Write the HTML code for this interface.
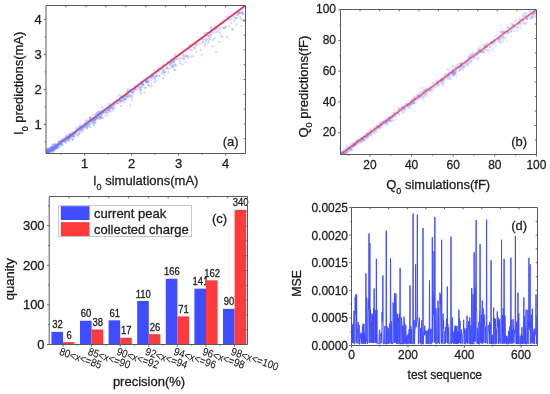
<!DOCTYPE html>
<html><head><meta charset="utf-8"><style>
html,body{margin:0;padding:0;background:#fff;width:550px;height:394px;overflow:hidden}
svg{display:block;filter:blur(0.3px)}
text{font-family:"Liberation Sans",sans-serif;fill:#1e1e1e;stroke:#1e1e1e;stroke-width:0.3px}
</style></head><body>
<svg width="550" height="394" viewBox="0 0 550 394">
<defs><clipPath id="ca"><rect x="46" y="5.5" width="199.5" height="148"/></clipPath><clipPath id="cb"><rect x="340.5" y="9.5" width="196" height="145"/></clipPath><clipPath id="cd"><rect x="351.5" y="207.5" width="186" height="138"/></clipPath></defs>
<g clip-path="url(#ca)">
<line x1="46" y1="153.5" x2="245.5" y2="5.5" stroke="#ff2a2a" stroke-width="1.8"/>
<rect x="85.9" y="127.1" width="2" height="2" fill="#6e7dff" fill-opacity="0.3"/>
<rect x="88.4" y="122.3" width="2" height="2" fill="#6e7dff" fill-opacity="0.3"/>
<rect x="51.9" y="149.4" width="2" height="2" fill="#6e7dff" fill-opacity="0.3"/>
<rect x="170.7" y="59.9" width="2" height="2" fill="#6e7dff" fill-opacity="0.3"/>
<rect x="46.7" y="150.6" width="2" height="2" fill="#6e7dff" fill-opacity="0.3"/>
<rect x="45.4" y="147.8" width="2" height="2" fill="#6e7dff" fill-opacity="0.3"/>
<rect x="130.5" y="90.9" width="2" height="2" fill="#6e7dff" fill-opacity="0.3"/>
<rect x="45.1" y="152.6" width="2" height="2" fill="#6e7dff" fill-opacity="0.3"/>
<rect x="52.3" y="146.9" width="2" height="2" fill="#6e7dff" fill-opacity="0.3"/>
<rect x="88.1" y="124.7" width="2" height="2" fill="#6e7dff" fill-opacity="0.3"/>
<rect x="98.9" y="115.8" width="2" height="2" fill="#6e7dff" fill-opacity="0.3"/>
<rect x="132.7" y="89.2" width="2" height="2" fill="#6e7dff" fill-opacity="0.3"/>
<rect x="243.9" y="0.3" width="2" height="2" fill="#6e7dff" fill-opacity="0.3"/>
<rect x="145.1" y="81.3" width="2" height="2" fill="#6e7dff" fill-opacity="0.3"/>
<rect x="61.7" y="137.9" width="2" height="2" fill="#6e7dff" fill-opacity="0.3"/>
<rect x="77.1" y="128.7" width="2" height="2" fill="#6e7dff" fill-opacity="0.3"/>
<rect x="228.4" y="15.8" width="2" height="2" fill="#6e7dff" fill-opacity="0.3"/>
<rect x="53.8" y="144.5" width="2" height="2" fill="#6e7dff" fill-opacity="0.3"/>
<rect x="237.0" y="11.9" width="2" height="2" fill="#6e7dff" fill-opacity="0.3"/>
<rect x="124.2" y="95.9" width="2" height="2" fill="#6e7dff" fill-opacity="0.3"/>
<rect x="46.6" y="154.0" width="2" height="2" fill="#6e7dff" fill-opacity="0.3"/>
<rect x="159.8" y="68.3" width="2" height="2" fill="#6e7dff" fill-opacity="0.3"/>
<rect x="47.1" y="148.2" width="2" height="2" fill="#6e7dff" fill-opacity="0.3"/>
<rect x="51.4" y="149.3" width="2" height="2" fill="#6e7dff" fill-opacity="0.3"/>
<rect x="52.3" y="147.1" width="2" height="2" fill="#6e7dff" fill-opacity="0.3"/>
<rect x="127.8" y="91.8" width="2" height="2" fill="#6e7dff" fill-opacity="0.3"/>
<rect x="54.1" y="147.9" width="2" height="2" fill="#6e7dff" fill-opacity="0.3"/>
<rect x="174.0" y="69.2" width="2" height="2" fill="#6e7dff" fill-opacity="0.3"/>
<rect x="53.9" y="148.9" width="2" height="2" fill="#6e7dff" fill-opacity="0.3"/>
<rect x="127.3" y="93.4" width="2" height="2" fill="#6e7dff" fill-opacity="0.3"/>
<rect x="54.1" y="146.8" width="2" height="2" fill="#6e7dff" fill-opacity="0.3"/>
<rect x="66.7" y="136.7" width="2" height="2" fill="#6e7dff" fill-opacity="0.3"/>
<rect x="46.7" y="152.1" width="2" height="2" fill="#6e7dff" fill-opacity="0.3"/>
<rect x="117.3" y="102.5" width="2" height="2" fill="#6e7dff" fill-opacity="0.3"/>
<rect x="228.8" y="19.2" width="2" height="2" fill="#6e7dff" fill-opacity="0.3"/>
<rect x="195.0" y="43.6" width="2" height="2" fill="#6e7dff" fill-opacity="0.3"/>
<rect x="209.9" y="33.9" width="2" height="2" fill="#6e7dff" fill-opacity="0.3"/>
<rect x="52.3" y="148.6" width="2" height="2" fill="#6e7dff" fill-opacity="0.3"/>
<rect x="52.8" y="143.6" width="2" height="2" fill="#6e7dff" fill-opacity="0.3"/>
<rect x="117.8" y="99.5" width="2" height="2" fill="#6e7dff" fill-opacity="0.3"/>
<rect x="45.4" y="150.8" width="2" height="2" fill="#6e7dff" fill-opacity="0.3"/>
<rect x="144.2" y="87.1" width="2" height="2" fill="#6e7dff" fill-opacity="0.3"/>
<rect x="116.1" y="101.6" width="2" height="2" fill="#6e7dff" fill-opacity="0.3"/>
<rect x="148.7" y="75.1" width="2" height="2" fill="#6e7dff" fill-opacity="0.3"/>
<rect x="107.6" y="107.5" width="2" height="2" fill="#6e7dff" fill-opacity="0.3"/>
<rect x="60.7" y="139.8" width="2" height="2" fill="#6e7dff" fill-opacity="0.3"/>
<rect x="45.1" y="152.7" width="2" height="2" fill="#6e7dff" fill-opacity="0.3"/>
<rect x="45.8" y="151.2" width="2" height="2" fill="#6e7dff" fill-opacity="0.3"/>
<rect x="110.5" y="104.5" width="2" height="2" fill="#6e7dff" fill-opacity="0.3"/>
<rect x="203.6" y="32.3" width="2" height="2" fill="#6e7dff" fill-opacity="0.3"/>
<rect x="140.5" y="83.2" width="2" height="2" fill="#6e7dff" fill-opacity="0.3"/>
<rect x="45.3" y="148.5" width="2" height="2" fill="#6e7dff" fill-opacity="0.3"/>
<rect x="143.2" y="78.9" width="2" height="2" fill="#6e7dff" fill-opacity="0.3"/>
<rect x="125.9" y="95.6" width="2" height="2" fill="#6e7dff" fill-opacity="0.3"/>
<rect x="65.4" y="136.3" width="2" height="2" fill="#6e7dff" fill-opacity="0.3"/>
<rect x="104.6" y="114.4" width="2" height="2" fill="#6e7dff" fill-opacity="0.3"/>
<rect x="153.6" y="80.9" width="2" height="2" fill="#6e7dff" fill-opacity="0.3"/>
<rect x="212.3" y="38.8" width="2" height="2" fill="#6e7dff" fill-opacity="0.3"/>
<rect x="207.2" y="35.5" width="2" height="2" fill="#6e7dff" fill-opacity="0.3"/>
<rect x="169.9" y="63.2" width="2" height="2" fill="#6e7dff" fill-opacity="0.3"/>
<rect x="123.1" y="99.1" width="2" height="2" fill="#6e7dff" fill-opacity="0.3"/>
<rect x="119.1" y="97.2" width="2" height="2" fill="#6e7dff" fill-opacity="0.3"/>
<rect x="242.2" y="12.7" width="2" height="2" fill="#6e7dff" fill-opacity="0.3"/>
<rect x="75.2" y="132.1" width="2" height="2" fill="#6e7dff" fill-opacity="0.3"/>
<rect x="83.8" y="123.6" width="2" height="2" fill="#6e7dff" fill-opacity="0.3"/>
<rect x="157.5" y="67.1" width="2" height="2" fill="#6e7dff" fill-opacity="0.3"/>
<rect x="91.3" y="121.0" width="2" height="2" fill="#6e7dff" fill-opacity="0.3"/>
<rect x="94.4" y="122.0" width="2" height="2" fill="#6e7dff" fill-opacity="0.3"/>
<rect x="58.1" y="141.0" width="2" height="2" fill="#6e7dff" fill-opacity="0.3"/>
<rect x="136.9" y="85.9" width="2" height="2" fill="#6e7dff" fill-opacity="0.3"/>
<rect x="208.9" y="38.1" width="2" height="2" fill="#6e7dff" fill-opacity="0.3"/>
<rect x="203.9" y="44.8" width="2" height="2" fill="#6e7dff" fill-opacity="0.3"/>
<rect x="52.9" y="149.4" width="2" height="2" fill="#6e7dff" fill-opacity="0.3"/>
<rect x="212.0" y="31.4" width="2" height="2" fill="#6e7dff" fill-opacity="0.3"/>
<rect x="113.0" y="103.6" width="2" height="2" fill="#6e7dff" fill-opacity="0.3"/>
<rect x="94.3" y="117.8" width="2" height="2" fill="#6e7dff" fill-opacity="0.3"/>
<rect x="146.1" y="76.6" width="2" height="2" fill="#6e7dff" fill-opacity="0.3"/>
<rect x="50.8" y="149.2" width="2" height="2" fill="#6e7dff" fill-opacity="0.3"/>
<rect x="54.2" y="147.8" width="2" height="2" fill="#6e7dff" fill-opacity="0.3"/>
<rect x="93.8" y="121.5" width="2" height="2" fill="#6e7dff" fill-opacity="0.3"/>
<rect x="237.7" y="10.5" width="2" height="2" fill="#6e7dff" fill-opacity="0.3"/>
<rect x="45.3" y="151.7" width="2" height="2" fill="#6e7dff" fill-opacity="0.3"/>
<rect x="145.4" y="80.6" width="2" height="2" fill="#6e7dff" fill-opacity="0.3"/>
<rect x="170.2" y="58.2" width="2" height="2" fill="#6e7dff" fill-opacity="0.3"/>
<rect x="86.4" y="118.8" width="2" height="2" fill="#6e7dff" fill-opacity="0.3"/>
<rect x="56.3" y="143.6" width="2" height="2" fill="#6e7dff" fill-opacity="0.3"/>
<rect x="124.1" y="97.4" width="2" height="2" fill="#6e7dff" fill-opacity="0.3"/>
<rect x="130.8" y="96.3" width="2" height="2" fill="#6e7dff" fill-opacity="0.3"/>
<rect x="138.6" y="86.5" width="2" height="2" fill="#6e7dff" fill-opacity="0.3"/>
<rect x="51.4" y="145.6" width="2" height="2" fill="#6e7dff" fill-opacity="0.3"/>
<rect x="146.9" y="79.0" width="2" height="2" fill="#6e7dff" fill-opacity="0.3"/>
<rect x="68.9" y="136.6" width="2" height="2" fill="#6e7dff" fill-opacity="0.3"/>
<rect x="120.5" y="99.5" width="2" height="2" fill="#6e7dff" fill-opacity="0.3"/>
<rect x="170.3" y="59.5" width="2" height="2" fill="#6e7dff" fill-opacity="0.3"/>
<rect x="218.8" y="27.0" width="2" height="2" fill="#6e7dff" fill-opacity="0.3"/>
<rect x="86.1" y="127.5" width="2" height="2" fill="#6e7dff" fill-opacity="0.3"/>
<rect x="73.4" y="135.5" width="2" height="2" fill="#6e7dff" fill-opacity="0.3"/>
<rect x="171.9" y="57.9" width="2" height="2" fill="#6e7dff" fill-opacity="0.3"/>
<rect x="129.8" y="94.4" width="2" height="2" fill="#6e7dff" fill-opacity="0.3"/>
<rect x="178.8" y="62.1" width="2" height="2" fill="#6e7dff" fill-opacity="0.3"/>
<rect x="54.1" y="142.9" width="2" height="2" fill="#6e7dff" fill-opacity="0.3"/>
<rect x="235.9" y="17.3" width="2" height="2" fill="#6e7dff" fill-opacity="0.3"/>
<rect x="65.6" y="135.4" width="2" height="2" fill="#6e7dff" fill-opacity="0.3"/>
<rect x="69.3" y="133.2" width="2" height="2" fill="#6e7dff" fill-opacity="0.3"/>
<rect x="105.6" y="110.3" width="2" height="2" fill="#6e7dff" fill-opacity="0.3"/>
<rect x="45.2" y="151.9" width="2" height="2" fill="#6e7dff" fill-opacity="0.3"/>
<rect x="172.9" y="60.8" width="2" height="2" fill="#6e7dff" fill-opacity="0.3"/>
<rect x="169.1" y="61.6" width="2" height="2" fill="#6e7dff" fill-opacity="0.3"/>
<rect x="98.4" y="118.0" width="2" height="2" fill="#6e7dff" fill-opacity="0.3"/>
<rect x="140.0" y="81.1" width="2" height="2" fill="#6e7dff" fill-opacity="0.3"/>
<rect x="225.0" y="19.8" width="2" height="2" fill="#6e7dff" fill-opacity="0.3"/>
<rect x="100.5" y="115.9" width="2" height="2" fill="#6e7dff" fill-opacity="0.3"/>
<rect x="126.6" y="96.0" width="2" height="2" fill="#6e7dff" fill-opacity="0.3"/>
<rect x="107.7" y="108.9" width="2" height="2" fill="#6e7dff" fill-opacity="0.3"/>
<rect x="187.8" y="47.3" width="2" height="2" fill="#6e7dff" fill-opacity="0.3"/>
<rect x="189.6" y="43.6" width="2" height="2" fill="#6e7dff" fill-opacity="0.3"/>
<rect x="110.6" y="106.4" width="2" height="2" fill="#6e7dff" fill-opacity="0.3"/>
<rect x="95.6" y="115.1" width="2" height="2" fill="#6e7dff" fill-opacity="0.3"/>
<rect x="232.8" y="15.4" width="2" height="2" fill="#6e7dff" fill-opacity="0.3"/>
<rect x="173.2" y="61.4" width="2" height="2" fill="#6e7dff" fill-opacity="0.3"/>
<rect x="140.4" y="81.2" width="2" height="2" fill="#6e7dff" fill-opacity="0.3"/>
<rect x="79.3" y="124.0" width="2" height="2" fill="#6e7dff" fill-opacity="0.3"/>
<rect x="59.5" y="142.3" width="2" height="2" fill="#6e7dff" fill-opacity="0.3"/>
<rect x="82.6" y="126.6" width="2" height="2" fill="#6e7dff" fill-opacity="0.3"/>
<rect x="90.4" y="120.2" width="2" height="2" fill="#6e7dff" fill-opacity="0.3"/>
<rect x="121.3" y="95.3" width="2" height="2" fill="#6e7dff" fill-opacity="0.3"/>
<rect x="166.4" y="61.0" width="2" height="2" fill="#6e7dff" fill-opacity="0.3"/>
<rect x="55.4" y="145.6" width="2" height="2" fill="#6e7dff" fill-opacity="0.3"/>
<rect x="70.3" y="134.4" width="2" height="2" fill="#6e7dff" fill-opacity="0.3"/>
<rect x="151.8" y="75.2" width="2" height="2" fill="#6e7dff" fill-opacity="0.3"/>
<rect x="57.6" y="143.2" width="2" height="2" fill="#6e7dff" fill-opacity="0.3"/>
<rect x="83.2" y="126.5" width="2" height="2" fill="#6e7dff" fill-opacity="0.3"/>
<rect x="101.0" y="111.4" width="2" height="2" fill="#6e7dff" fill-opacity="0.3"/>
<rect x="124.7" y="97.9" width="2" height="2" fill="#6e7dff" fill-opacity="0.3"/>
<rect x="189.8" y="55.9" width="2" height="2" fill="#6e7dff" fill-opacity="0.3"/>
<rect x="55.9" y="145.7" width="2" height="2" fill="#6e7dff" fill-opacity="0.3"/>
<rect x="207.8" y="37.6" width="2" height="2" fill="#6e7dff" fill-opacity="0.3"/>
<rect x="215.1" y="51.2" width="2" height="2" fill="#6e7dff" fill-opacity="0.3"/>
<rect x="202.4" y="37.9" width="2" height="2" fill="#6e7dff" fill-opacity="0.3"/>
<rect x="150.5" y="75.9" width="2" height="2" fill="#6e7dff" fill-opacity="0.3"/>
<rect x="183.4" y="57.6" width="2" height="2" fill="#6e7dff" fill-opacity="0.3"/>
<rect x="48.2" y="152.2" width="2" height="2" fill="#6e7dff" fill-opacity="0.3"/>
<rect x="45.1" y="151.9" width="2" height="2" fill="#6e7dff" fill-opacity="0.3"/>
<rect x="211.0" y="28.3" width="2" height="2" fill="#6e7dff" fill-opacity="0.3"/>
<rect x="96.1" y="117.0" width="2" height="2" fill="#6e7dff" fill-opacity="0.3"/>
<rect x="139.0" y="83.5" width="2" height="2" fill="#6e7dff" fill-opacity="0.3"/>
<rect x="47.3" y="148.6" width="2" height="2" fill="#6e7dff" fill-opacity="0.3"/>
<rect x="98.0" y="114.2" width="2" height="2" fill="#6e7dff" fill-opacity="0.3"/>
<rect x="51.9" y="147.4" width="2" height="2" fill="#6e7dff" fill-opacity="0.3"/>
<rect x="241.0" y="7.1" width="2" height="2" fill="#6e7dff" fill-opacity="0.3"/>
<rect x="45.8" y="150.0" width="2" height="2" fill="#6e7dff" fill-opacity="0.3"/>
<rect x="161.9" y="71.5" width="2" height="2" fill="#6e7dff" fill-opacity="0.3"/>
<rect x="98.1" y="116.3" width="2" height="2" fill="#6e7dff" fill-opacity="0.3"/>
<rect x="45.1" y="153.7" width="2" height="2" fill="#6e7dff" fill-opacity="0.3"/>
<rect x="51.6" y="150.1" width="2" height="2" fill="#6e7dff" fill-opacity="0.3"/>
<rect x="77.9" y="128.3" width="2" height="2" fill="#6e7dff" fill-opacity="0.3"/>
<rect x="97.5" y="109.9" width="2" height="2" fill="#6e7dff" fill-opacity="0.3"/>
<rect x="173.4" y="69.0" width="2" height="2" fill="#6e7dff" fill-opacity="0.3"/>
<rect x="124.2" y="98.1" width="2" height="2" fill="#6e7dff" fill-opacity="0.3"/>
<rect x="95.9" y="111.6" width="2" height="2" fill="#6e7dff" fill-opacity="0.3"/>
<rect x="58.4" y="140.7" width="2" height="2" fill="#6e7dff" fill-opacity="0.3"/>
<rect x="166.0" y="66.6" width="2" height="2" fill="#6e7dff" fill-opacity="0.3"/>
<rect x="205.6" y="38.0" width="2" height="2" fill="#6e7dff" fill-opacity="0.3"/>
<rect x="162.7" y="69.9" width="2" height="2" fill="#6e7dff" fill-opacity="0.3"/>
<rect x="149.4" y="74.8" width="2" height="2" fill="#6e7dff" fill-opacity="0.3"/>
<rect x="89.0" y="117.9" width="2" height="2" fill="#6e7dff" fill-opacity="0.3"/>
<rect x="126.5" y="94.4" width="2" height="2" fill="#6e7dff" fill-opacity="0.3"/>
<rect x="223.3" y="26.7" width="2" height="2" fill="#6e7dff" fill-opacity="0.3"/>
<rect x="132.0" y="91.6" width="2" height="2" fill="#6e7dff" fill-opacity="0.3"/>
<rect x="75.4" y="127.1" width="2" height="2" fill="#6e7dff" fill-opacity="0.3"/>
<rect x="143.3" y="91.5" width="2" height="2" fill="#6e7dff" fill-opacity="0.3"/>
<rect x="45.2" y="154.4" width="2" height="2" fill="#6e7dff" fill-opacity="0.3"/>
<rect x="58.2" y="142.9" width="2" height="2" fill="#6e7dff" fill-opacity="0.3"/>
<rect x="52.7" y="147.2" width="2" height="2" fill="#6e7dff" fill-opacity="0.3"/>
<rect x="57.6" y="141.7" width="2" height="2" fill="#6e7dff" fill-opacity="0.3"/>
<rect x="96.6" y="112.2" width="2" height="2" fill="#6e7dff" fill-opacity="0.3"/>
<rect x="242.9" y="19.9" width="2" height="2" fill="#6e7dff" fill-opacity="0.3"/>
<rect x="46.2" y="153.9" width="2" height="2" fill="#6e7dff" fill-opacity="0.3"/>
<rect x="45.5" y="151.0" width="2" height="2" fill="#6e7dff" fill-opacity="0.3"/>
<rect x="89.5" y="120.4" width="2" height="2" fill="#6e7dff" fill-opacity="0.3"/>
<rect x="119.7" y="95.6" width="2" height="2" fill="#6e7dff" fill-opacity="0.3"/>
<rect x="80.4" y="128.5" width="2" height="2" fill="#6e7dff" fill-opacity="0.3"/>
<rect x="71.8" y="134.9" width="2" height="2" fill="#6e7dff" fill-opacity="0.3"/>
<rect x="107.8" y="110.8" width="2" height="2" fill="#6e7dff" fill-opacity="0.3"/>
<rect x="62.6" y="137.9" width="2" height="2" fill="#6e7dff" fill-opacity="0.3"/>
<rect x="45.4" y="150.9" width="2" height="2" fill="#6e7dff" fill-opacity="0.3"/>
<rect x="75.4" y="128.9" width="2" height="2" fill="#6e7dff" fill-opacity="0.3"/>
<rect x="45.6" y="148.0" width="2" height="2" fill="#6e7dff" fill-opacity="0.3"/>
<rect x="46.1" y="150.1" width="2" height="2" fill="#6e7dff" fill-opacity="0.3"/>
<rect x="90.6" y="117.2" width="2" height="2" fill="#6e7dff" fill-opacity="0.3"/>
<rect x="99.8" y="110.4" width="2" height="2" fill="#6e7dff" fill-opacity="0.3"/>
<rect x="88.9" y="116.9" width="2" height="2" fill="#6e7dff" fill-opacity="0.3"/>
<rect x="117.8" y="99.3" width="2" height="2" fill="#6e7dff" fill-opacity="0.3"/>
<rect x="86.5" y="121.7" width="2" height="2" fill="#6e7dff" fill-opacity="0.3"/>
<rect x="100.8" y="111.4" width="2" height="2" fill="#6e7dff" fill-opacity="0.3"/>
<rect x="134.2" y="88.1" width="2" height="2" fill="#6e7dff" fill-opacity="0.3"/>
<rect x="112.8" y="107.2" width="2" height="2" fill="#6e7dff" fill-opacity="0.3"/>
<rect x="101.3" y="105.9" width="2" height="2" fill="#6e7dff" fill-opacity="0.3"/>
<rect x="152.8" y="74.3" width="2" height="2" fill="#6e7dff" fill-opacity="0.3"/>
<rect x="204.2" y="42.9" width="2" height="2" fill="#6e7dff" fill-opacity="0.3"/>
<rect x="70.8" y="135.5" width="2" height="2" fill="#6e7dff" fill-opacity="0.3"/>
<rect x="108.8" y="109.2" width="2" height="2" fill="#6e7dff" fill-opacity="0.3"/>
<rect x="158.4" y="70.9" width="2" height="2" fill="#6e7dff" fill-opacity="0.3"/>
<rect x="236.8" y="14.5" width="2" height="2" fill="#6e7dff" fill-opacity="0.3"/>
<rect x="45.4" y="150.8" width="2" height="2" fill="#6e7dff" fill-opacity="0.3"/>
<rect x="81.2" y="126.4" width="2" height="2" fill="#6e7dff" fill-opacity="0.3"/>
<rect x="103.7" y="108.3" width="2" height="2" fill="#6e7dff" fill-opacity="0.3"/>
<rect x="136.4" y="88.5" width="2" height="2" fill="#6e7dff" fill-opacity="0.3"/>
<rect x="72.9" y="132.7" width="2" height="2" fill="#6e7dff" fill-opacity="0.3"/>
<rect x="68.7" y="137.3" width="2" height="2" fill="#6e7dff" fill-opacity="0.3"/>
<rect x="46.2" y="149.7" width="2" height="2" fill="#6e7dff" fill-opacity="0.3"/>
<rect x="122.8" y="96.7" width="2" height="2" fill="#6e7dff" fill-opacity="0.3"/>
<rect x="81.0" y="129.0" width="2" height="2" fill="#6e7dff" fill-opacity="0.3"/>
<rect x="72.3" y="138.6" width="2" height="2" fill="#6e7dff" fill-opacity="0.3"/>
<rect x="66.2" y="139.6" width="2" height="2" fill="#6e7dff" fill-opacity="0.3"/>
<rect x="214.4" y="31.1" width="2" height="2" fill="#6e7dff" fill-opacity="0.3"/>
<rect x="46.9" y="150.4" width="2" height="2" fill="#6e7dff" fill-opacity="0.3"/>
<rect x="46.4" y="153.0" width="2" height="2" fill="#6e7dff" fill-opacity="0.3"/>
<rect x="138.9" y="90.6" width="2" height="2" fill="#6e7dff" fill-opacity="0.3"/>
<rect x="46.2" y="151.3" width="2" height="2" fill="#6e7dff" fill-opacity="0.3"/>
<rect x="46.4" y="152.6" width="2" height="2" fill="#6e7dff" fill-opacity="0.3"/>
<rect x="141.3" y="83.2" width="2" height="2" fill="#6e7dff" fill-opacity="0.3"/>
<rect x="70.6" y="134.7" width="2" height="2" fill="#6e7dff" fill-opacity="0.3"/>
<rect x="47.8" y="151.2" width="2" height="2" fill="#6e7dff" fill-opacity="0.3"/>
<rect x="213.6" y="28.6" width="2" height="2" fill="#6e7dff" fill-opacity="0.3"/>
<rect x="83.4" y="124.7" width="2" height="2" fill="#6e7dff" fill-opacity="0.3"/>
<rect x="65.2" y="141.9" width="2" height="2" fill="#6e7dff" fill-opacity="0.3"/>
<rect x="205.0" y="39.9" width="2" height="2" fill="#6e7dff" fill-opacity="0.3"/>
<rect x="71.8" y="134.5" width="2" height="2" fill="#6e7dff" fill-opacity="0.3"/>
<rect x="75.1" y="131.0" width="2" height="2" fill="#6e7dff" fill-opacity="0.3"/>
<rect x="172.0" y="64.1" width="2" height="2" fill="#6e7dff" fill-opacity="0.3"/>
<rect x="108.3" y="108.4" width="2" height="2" fill="#6e7dff" fill-opacity="0.3"/>
<rect x="200.1" y="38.2" width="2" height="2" fill="#6e7dff" fill-opacity="0.3"/>
<rect x="98.2" y="115.7" width="2" height="2" fill="#6e7dff" fill-opacity="0.3"/>
<rect x="231.6" y="27.9" width="2" height="2" fill="#6e7dff" fill-opacity="0.3"/>
<rect x="45.9" y="154.4" width="2" height="2" fill="#6e7dff" fill-opacity="0.3"/>
<rect x="46.5" y="149.1" width="2" height="2" fill="#6e7dff" fill-opacity="0.3"/>
<rect x="206.5" y="34.6" width="2" height="2" fill="#6e7dff" fill-opacity="0.3"/>
<rect x="49.2" y="149.9" width="2" height="2" fill="#6e7dff" fill-opacity="0.3"/>
<rect x="57.1" y="144.1" width="2" height="2" fill="#6e7dff" fill-opacity="0.3"/>
<rect x="99.4" y="114.2" width="2" height="2" fill="#6e7dff" fill-opacity="0.3"/>
<rect x="67.9" y="133.1" width="2" height="2" fill="#6e7dff" fill-opacity="0.3"/>
<rect x="93.7" y="119.5" width="2" height="2" fill="#6e7dff" fill-opacity="0.3"/>
<rect x="145.2" y="78.3" width="2" height="2" fill="#6e7dff" fill-opacity="0.3"/>
<rect x="181.4" y="63.2" width="2" height="2" fill="#6e7dff" fill-opacity="0.3"/>
<rect x="174.8" y="64.3" width="2" height="2" fill="#6e7dff" fill-opacity="0.3"/>
<rect x="228.3" y="25.2" width="2" height="2" fill="#6e7dff" fill-opacity="0.3"/>
<rect x="145.8" y="81.2" width="2" height="2" fill="#6e7dff" fill-opacity="0.3"/>
<rect x="80.4" y="126.6" width="2" height="2" fill="#6e7dff" fill-opacity="0.3"/>
<rect x="241.2" y="10.8" width="2" height="2" fill="#6e7dff" fill-opacity="0.3"/>
<rect x="53.4" y="147.4" width="2" height="2" fill="#6e7dff" fill-opacity="0.3"/>
<rect x="232.9" y="13.2" width="2" height="2" fill="#6e7dff" fill-opacity="0.3"/>
<rect x="47.7" y="152.5" width="2" height="2" fill="#6e7dff" fill-opacity="0.3"/>
<rect x="51.5" y="145.9" width="2" height="2" fill="#6e7dff" fill-opacity="0.3"/>
<rect x="113.2" y="101.4" width="2" height="2" fill="#6e7dff" fill-opacity="0.3"/>
<rect x="47.4" y="150.2" width="2" height="2" fill="#6e7dff" fill-opacity="0.3"/>
<rect x="56.1" y="145.4" width="2" height="2" fill="#6e7dff" fill-opacity="0.3"/>
<rect x="55.1" y="144.7" width="2" height="2" fill="#6e7dff" fill-opacity="0.3"/>
<rect x="51.0" y="148.1" width="2" height="2" fill="#6e7dff" fill-opacity="0.3"/>
<rect x="105.1" y="109.7" width="2" height="2" fill="#6e7dff" fill-opacity="0.3"/>
<rect x="58.6" y="140.6" width="2" height="2" fill="#6e7dff" fill-opacity="0.3"/>
<rect x="68.4" y="139.7" width="2" height="2" fill="#6e7dff" fill-opacity="0.3"/>
<rect x="91.6" y="118.1" width="2" height="2" fill="#6e7dff" fill-opacity="0.3"/>
<rect x="224.4" y="25.5" width="2" height="2" fill="#6e7dff" fill-opacity="0.3"/>
<rect x="100.7" y="112.3" width="2" height="2" fill="#6e7dff" fill-opacity="0.3"/>
<rect x="240.9" y="12.6" width="2" height="2" fill="#6e7dff" fill-opacity="0.3"/>
<rect x="45.1" y="153.7" width="2" height="2" fill="#6e7dff" fill-opacity="0.3"/>
<rect x="171.9" y="66.1" width="2" height="2" fill="#6e7dff" fill-opacity="0.3"/>
<rect x="50.0" y="148.1" width="2" height="2" fill="#6e7dff" fill-opacity="0.3"/>
<rect x="58.5" y="141.6" width="2" height="2" fill="#6e7dff" fill-opacity="0.3"/>
<rect x="126.1" y="90.4" width="2" height="2" fill="#6e7dff" fill-opacity="0.3"/>
<rect x="102.1" y="111.8" width="2" height="2" fill="#6e7dff" fill-opacity="0.3"/>
<rect x="45.1" y="151.4" width="2" height="2" fill="#6e7dff" fill-opacity="0.3"/>
<rect x="180.1" y="52.6" width="2" height="2" fill="#6e7dff" fill-opacity="0.3"/>
<rect x="147.6" y="77.1" width="2" height="2" fill="#6e7dff" fill-opacity="0.3"/>
<rect x="88.9" y="118.1" width="2" height="2" fill="#6e7dff" fill-opacity="0.3"/>
<rect x="191.9" y="55.2" width="2" height="2" fill="#6e7dff" fill-opacity="0.3"/>
<rect x="79.8" y="126.0" width="2" height="2" fill="#6e7dff" fill-opacity="0.3"/>
<rect x="181.5" y="57.5" width="2" height="2" fill="#6e7dff" fill-opacity="0.3"/>
<rect x="100.3" y="113.5" width="2" height="2" fill="#6e7dff" fill-opacity="0.3"/>
<rect x="64.4" y="138.4" width="2" height="2" fill="#6e7dff" fill-opacity="0.3"/>
<rect x="63.7" y="141.2" width="2" height="2" fill="#6e7dff" fill-opacity="0.3"/>
<rect x="70.9" y="133.8" width="2" height="2" fill="#6e7dff" fill-opacity="0.3"/>
<rect x="76.1" y="134.3" width="2" height="2" fill="#6e7dff" fill-opacity="0.3"/>
<rect x="182.6" y="50.7" width="2" height="2" fill="#6e7dff" fill-opacity="0.3"/>
<rect x="73.5" y="132.4" width="2" height="2" fill="#6e7dff" fill-opacity="0.3"/>
<rect x="108.6" y="105.1" width="2" height="2" fill="#6e7dff" fill-opacity="0.3"/>
<rect x="241.5" y="11.2" width="2" height="2" fill="#6e7dff" fill-opacity="0.3"/>
<rect x="120.9" y="99.5" width="2" height="2" fill="#6e7dff" fill-opacity="0.3"/>
<rect x="103.3" y="111.8" width="2" height="2" fill="#6e7dff" fill-opacity="0.3"/>
<rect x="75.8" y="131.0" width="2" height="2" fill="#6e7dff" fill-opacity="0.3"/>
<rect x="53.0" y="147.0" width="2" height="2" fill="#6e7dff" fill-opacity="0.3"/>
<rect x="223.5" y="27.4" width="2" height="2" fill="#6e7dff" fill-opacity="0.3"/>
<rect x="67.0" y="135.9" width="2" height="2" fill="#6e7dff" fill-opacity="0.3"/>
<rect x="49.0" y="147.6" width="2" height="2" fill="#6e7dff" fill-opacity="0.3"/>
<rect x="145.3" y="81.0" width="2" height="2" fill="#6e7dff" fill-opacity="0.3"/>
<rect x="185.0" y="50.2" width="2" height="2" fill="#6e7dff" fill-opacity="0.3"/>
<rect x="55.3" y="144.4" width="2" height="2" fill="#6e7dff" fill-opacity="0.3"/>
<rect x="78.1" y="125.8" width="2" height="2" fill="#6e7dff" fill-opacity="0.3"/>
<rect x="81.5" y="127.6" width="2" height="2" fill="#6e7dff" fill-opacity="0.3"/>
<rect x="162.5" y="68.7" width="2" height="2" fill="#6e7dff" fill-opacity="0.3"/>
<rect x="67.0" y="136.1" width="2" height="2" fill="#6e7dff" fill-opacity="0.3"/>
<rect x="77.1" y="134.5" width="2" height="2" fill="#6e7dff" fill-opacity="0.3"/>
<rect x="169.6" y="67.5" width="2" height="2" fill="#6e7dff" fill-opacity="0.3"/>
<rect x="45.1" y="153.1" width="2" height="2" fill="#6e7dff" fill-opacity="0.3"/>
<rect x="129.6" y="90.1" width="2" height="2" fill="#6e7dff" fill-opacity="0.3"/>
<rect x="96.9" y="117.5" width="2" height="2" fill="#6e7dff" fill-opacity="0.3"/>
<rect x="119.7" y="100.0" width="2" height="2" fill="#6e7dff" fill-opacity="0.3"/>
<rect x="207.9" y="34.7" width="2" height="2" fill="#6e7dff" fill-opacity="0.3"/>
<rect x="95.1" y="116.2" width="2" height="2" fill="#6e7dff" fill-opacity="0.3"/>
<rect x="239.6" y="12.1" width="2" height="2" fill="#6e7dff" fill-opacity="0.3"/>
<rect x="184.5" y="61.3" width="2" height="2" fill="#6e7dff" fill-opacity="0.3"/>
<rect x="123.6" y="94.9" width="2" height="2" fill="#6e7dff" fill-opacity="0.3"/>
<rect x="57.0" y="146.1" width="2" height="2" fill="#6e7dff" fill-opacity="0.3"/>
<rect x="66.7" y="135.1" width="2" height="2" fill="#6e7dff" fill-opacity="0.3"/>
<rect x="87.9" y="121.1" width="2" height="2" fill="#6e7dff" fill-opacity="0.3"/>
<rect x="48.7" y="148.1" width="2" height="2" fill="#6e7dff" fill-opacity="0.3"/>
<rect x="107.9" y="107.5" width="2" height="2" fill="#6e7dff" fill-opacity="0.3"/>
<rect x="210.2" y="25.9" width="2" height="2" fill="#6e7dff" fill-opacity="0.3"/>
<rect x="117.3" y="100.4" width="2" height="2" fill="#6e7dff" fill-opacity="0.3"/>
<rect x="61.7" y="139.2" width="2" height="2" fill="#6e7dff" fill-opacity="0.3"/>
<rect x="110.8" y="104.4" width="2" height="2" fill="#6e7dff" fill-opacity="0.3"/>
<rect x="105.0" y="107.4" width="2" height="2" fill="#6e7dff" fill-opacity="0.3"/>
<rect x="51.5" y="143.6" width="2" height="2" fill="#6e7dff" fill-opacity="0.3"/>
<rect x="131.6" y="94.4" width="2" height="2" fill="#6e7dff" fill-opacity="0.3"/>
<rect x="153.8" y="77.7" width="2" height="2" fill="#6e7dff" fill-opacity="0.3"/>
<rect x="174.1" y="55.1" width="2" height="2" fill="#6e7dff" fill-opacity="0.3"/>
<rect x="88.8" y="120.2" width="2" height="2" fill="#6e7dff" fill-opacity="0.3"/>
<rect x="109.8" y="106.3" width="2" height="2" fill="#6e7dff" fill-opacity="0.3"/>
<rect x="58.9" y="143.5" width="2" height="2" fill="#6e7dff" fill-opacity="0.3"/>
<rect x="127.3" y="89.6" width="2" height="2" fill="#6e7dff" fill-opacity="0.3"/>
<rect x="49.2" y="147.1" width="2" height="2" fill="#6e7dff" fill-opacity="0.3"/>
<rect x="89.2" y="123.0" width="2" height="2" fill="#6e7dff" fill-opacity="0.3"/>
<rect x="140.0" y="88.8" width="2" height="2" fill="#6e7dff" fill-opacity="0.3"/>
<rect x="92.2" y="113.8" width="2" height="2" fill="#6e7dff" fill-opacity="0.3"/>
<rect x="191.1" y="49.1" width="2" height="2" fill="#6e7dff" fill-opacity="0.3"/>
<rect x="109.0" y="104.8" width="2" height="2" fill="#6e7dff" fill-opacity="0.3"/>
<rect x="100.1" y="117.1" width="2" height="2" fill="#6e7dff" fill-opacity="0.3"/>
<rect x="65.6" y="135.0" width="2" height="2" fill="#6e7dff" fill-opacity="0.3"/>
<rect x="206.9" y="41.8" width="2" height="2" fill="#6e7dff" fill-opacity="0.3"/>
<rect x="158.0" y="75.6" width="2" height="2" fill="#6e7dff" fill-opacity="0.3"/>
<rect x="46.0" y="150.5" width="2" height="2" fill="#6e7dff" fill-opacity="0.3"/>
<rect x="95.5" y="115.5" width="2" height="2" fill="#6e7dff" fill-opacity="0.3"/>
<rect x="141.5" y="82.2" width="2" height="2" fill="#6e7dff" fill-opacity="0.3"/>
<rect x="63.8" y="139.6" width="2" height="2" fill="#6e7dff" fill-opacity="0.3"/>
<rect x="46.0" y="148.4" width="2" height="2" fill="#6e7dff" fill-opacity="0.3"/>
<rect x="133.6" y="88.2" width="2" height="2" fill="#6e7dff" fill-opacity="0.3"/>
<rect x="174.6" y="64.9" width="2" height="2" fill="#6e7dff" fill-opacity="0.3"/>
<rect x="109.2" y="104.5" width="2" height="2" fill="#6e7dff" fill-opacity="0.3"/>
<rect x="170.5" y="62.0" width="2" height="2" fill="#6e7dff" fill-opacity="0.3"/>
<rect x="225.7" y="16.0" width="2" height="2" fill="#6e7dff" fill-opacity="0.3"/>
<rect x="62.9" y="139.4" width="2" height="2" fill="#6e7dff" fill-opacity="0.3"/>
<rect x="205.1" y="38.8" width="2" height="2" fill="#6e7dff" fill-opacity="0.3"/>
<rect x="70.4" y="133.9" width="2" height="2" fill="#6e7dff" fill-opacity="0.3"/>
<rect x="45.3" y="151.0" width="2" height="2" fill="#6e7dff" fill-opacity="0.3"/>
<rect x="94.7" y="113.6" width="2" height="2" fill="#6e7dff" fill-opacity="0.3"/>
<rect x="89.7" y="120.3" width="2" height="2" fill="#6e7dff" fill-opacity="0.3"/>
<rect x="215.1" y="27.5" width="2" height="2" fill="#6e7dff" fill-opacity="0.3"/>
<rect x="185.3" y="54.9" width="2" height="2" fill="#6e7dff" fill-opacity="0.3"/>
<rect x="51.0" y="145.3" width="2" height="2" fill="#6e7dff" fill-opacity="0.3"/>
<rect x="53.2" y="147.1" width="2" height="2" fill="#6e7dff" fill-opacity="0.3"/>
<rect x="199.8" y="37.0" width="2" height="2" fill="#6e7dff" fill-opacity="0.3"/>
<rect x="150.3" y="85.1" width="2" height="2" fill="#6e7dff" fill-opacity="0.3"/>
<rect x="196.1" y="43.5" width="2" height="2" fill="#6e7dff" fill-opacity="0.3"/>
<rect x="141.8" y="80.1" width="2" height="2" fill="#6e7dff" fill-opacity="0.3"/>
<rect x="46.3" y="151.3" width="2" height="2" fill="#6e7dff" fill-opacity="0.3"/>
<rect x="145.9" y="79.4" width="2" height="2" fill="#6e7dff" fill-opacity="0.3"/>
<rect x="56.1" y="146.6" width="2" height="2" fill="#6e7dff" fill-opacity="0.3"/>
<rect x="72.8" y="136.1" width="2" height="2" fill="#6e7dff" fill-opacity="0.3"/>
<rect x="114.6" y="103.0" width="2" height="2" fill="#6e7dff" fill-opacity="0.3"/>
<rect x="216.6" y="30.7" width="2" height="2" fill="#6e7dff" fill-opacity="0.3"/>
<rect x="126.9" y="92.8" width="2" height="2" fill="#6e7dff" fill-opacity="0.3"/>
<rect x="83.8" y="125.8" width="2" height="2" fill="#6e7dff" fill-opacity="0.3"/>
<rect x="45.5" y="153.0" width="2" height="2" fill="#6e7dff" fill-opacity="0.3"/>
<rect x="57.6" y="142.9" width="2" height="2" fill="#6e7dff" fill-opacity="0.3"/>
<rect x="61.3" y="140.8" width="2" height="2" fill="#6e7dff" fill-opacity="0.3"/>
<rect x="60.6" y="141.7" width="2" height="2" fill="#6e7dff" fill-opacity="0.3"/>
<rect x="205.8" y="32.0" width="2" height="2" fill="#6e7dff" fill-opacity="0.3"/>
<rect x="87.6" y="122.6" width="2" height="2" fill="#6e7dff" fill-opacity="0.3"/>
<rect x="217.6" y="25.0" width="2" height="2" fill="#6e7dff" fill-opacity="0.3"/>
<rect x="106.8" y="109.4" width="2" height="2" fill="#6e7dff" fill-opacity="0.3"/>
<rect x="131.6" y="92.1" width="2" height="2" fill="#6e7dff" fill-opacity="0.3"/>
<rect x="96.1" y="115.8" width="2" height="2" fill="#6e7dff" fill-opacity="0.3"/>
<rect x="99.2" y="111.3" width="2" height="2" fill="#6e7dff" fill-opacity="0.3"/>
<rect x="166.5" y="67.0" width="2" height="2" fill="#6e7dff" fill-opacity="0.3"/>
<rect x="56.1" y="147.0" width="2" height="2" fill="#6e7dff" fill-opacity="0.3"/>
<rect x="168.6" y="63.8" width="2" height="2" fill="#6e7dff" fill-opacity="0.3"/>
<rect x="92.8" y="119.3" width="2" height="2" fill="#6e7dff" fill-opacity="0.3"/>
<rect x="94.8" y="113.5" width="2" height="2" fill="#6e7dff" fill-opacity="0.3"/>
<rect x="147.1" y="83.9" width="2" height="2" fill="#6e7dff" fill-opacity="0.3"/>
<rect x="51.5" y="147.2" width="2" height="2" fill="#6e7dff" fill-opacity="0.3"/>
<rect x="94.2" y="118.3" width="2" height="2" fill="#6e7dff" fill-opacity="0.3"/>
<rect x="58.9" y="142.0" width="2" height="2" fill="#6e7dff" fill-opacity="0.3"/>
<rect x="209.5" y="36.0" width="2" height="2" fill="#6e7dff" fill-opacity="0.3"/>
<rect x="170.2" y="62.1" width="2" height="2" fill="#6e7dff" fill-opacity="0.3"/>
<rect x="64.4" y="136.6" width="2" height="2" fill="#6e7dff" fill-opacity="0.3"/>
<rect x="122.1" y="96.6" width="2" height="2" fill="#6e7dff" fill-opacity="0.3"/>
<rect x="114.3" y="101.0" width="2" height="2" fill="#6e7dff" fill-opacity="0.3"/>
<rect x="50.9" y="148.1" width="2" height="2" fill="#6e7dff" fill-opacity="0.3"/>
<rect x="140.3" y="86.5" width="2" height="2" fill="#6e7dff" fill-opacity="0.3"/>
<rect x="45.8" y="153.0" width="2" height="2" fill="#6e7dff" fill-opacity="0.3"/>
<rect x="54.4" y="144.7" width="2" height="2" fill="#6e7dff" fill-opacity="0.3"/>
<rect x="92.9" y="123.3" width="2" height="2" fill="#6e7dff" fill-opacity="0.3"/>
<rect x="49.2" y="151.8" width="2" height="2" fill="#6e7dff" fill-opacity="0.3"/>
<rect x="45.4" y="152.5" width="2" height="2" fill="#6e7dff" fill-opacity="0.3"/>
<rect x="49.1" y="150.5" width="2" height="2" fill="#6e7dff" fill-opacity="0.3"/>
<rect x="81.0" y="125.1" width="2" height="2" fill="#6e7dff" fill-opacity="0.3"/>
<rect x="243.3" y="18.8" width="2" height="2" fill="#6e7dff" fill-opacity="0.3"/>
<rect x="55.6" y="145.3" width="2" height="2" fill="#6e7dff" fill-opacity="0.3"/>
<rect x="56.7" y="147.6" width="2" height="2" fill="#6e7dff" fill-opacity="0.3"/>
<rect x="71.5" y="138.5" width="2" height="2" fill="#6e7dff" fill-opacity="0.3"/>
<rect x="119.6" y="95.7" width="2" height="2" fill="#6e7dff" fill-opacity="0.3"/>
<rect x="129.4" y="89.0" width="2" height="2" fill="#6e7dff" fill-opacity="0.3"/>
<rect x="141.5" y="83.2" width="2" height="2" fill="#6e7dff" fill-opacity="0.3"/>
<rect x="202.0" y="38.9" width="2" height="2" fill="#6e7dff" fill-opacity="0.3"/>
<rect x="187.0" y="56.7" width="2" height="2" fill="#6e7dff" fill-opacity="0.3"/>
<rect x="54.3" y="146.2" width="2" height="2" fill="#6e7dff" fill-opacity="0.3"/>
<rect x="105.4" y="108.3" width="2" height="2" fill="#6e7dff" fill-opacity="0.3"/>
<rect x="54.2" y="146.8" width="2" height="2" fill="#6e7dff" fill-opacity="0.3"/>
<rect x="85.0" y="119.9" width="2" height="2" fill="#6e7dff" fill-opacity="0.3"/>
<rect x="193.7" y="47.3" width="2" height="2" fill="#6e7dff" fill-opacity="0.3"/>
<rect x="46.1" y="152.2" width="2" height="2" fill="#6e7dff" fill-opacity="0.3"/>
<rect x="60.1" y="139.9" width="2" height="2" fill="#6e7dff" fill-opacity="0.3"/>
<rect x="58.8" y="146.1" width="2" height="2" fill="#6e7dff" fill-opacity="0.3"/>
<rect x="147.2" y="80.8" width="2" height="2" fill="#6e7dff" fill-opacity="0.3"/>
<rect x="49.8" y="147.4" width="2" height="2" fill="#6e7dff" fill-opacity="0.3"/>
<rect x="162.2" y="77.4" width="2" height="2" fill="#6e7dff" fill-opacity="0.3"/>
<rect x="45.1" y="153.1" width="2" height="2" fill="#6e7dff" fill-opacity="0.3"/>
<rect x="46.4" y="150.3" width="2" height="2" fill="#6e7dff" fill-opacity="0.3"/>
<rect x="163.7" y="64.6" width="2" height="2" fill="#6e7dff" fill-opacity="0.3"/>
<rect x="76.1" y="129.5" width="2" height="2" fill="#6e7dff" fill-opacity="0.3"/>
<rect x="49.6" y="149.1" width="2" height="2" fill="#6e7dff" fill-opacity="0.3"/>
<rect x="64.5" y="140.1" width="2" height="2" fill="#6e7dff" fill-opacity="0.3"/>
<rect x="48.8" y="150.1" width="2" height="2" fill="#6e7dff" fill-opacity="0.3"/>
<rect x="150.2" y="76.8" width="2" height="2" fill="#6e7dff" fill-opacity="0.3"/>
<rect x="53.4" y="147.5" width="2" height="2" fill="#6e7dff" fill-opacity="0.3"/>
<rect x="77.9" y="132.6" width="2" height="2" fill="#6e7dff" fill-opacity="0.3"/>
<rect x="55.3" y="145.6" width="2" height="2" fill="#6e7dff" fill-opacity="0.3"/>
<rect x="54.4" y="144.9" width="2" height="2" fill="#6e7dff" fill-opacity="0.3"/>
<rect x="124.4" y="98.8" width="2" height="2" fill="#6e7dff" fill-opacity="0.3"/>
<rect x="235.2" y="23.8" width="2" height="2" fill="#6e7dff" fill-opacity="0.3"/>
<rect x="213.8" y="37.3" width="2" height="2" fill="#6e7dff" fill-opacity="0.3"/>
<rect x="133.8" y="84.8" width="2" height="2" fill="#6e7dff" fill-opacity="0.3"/>
<rect x="56.1" y="144.7" width="2" height="2" fill="#6e7dff" fill-opacity="0.3"/>
<rect x="81.6" y="125.8" width="2" height="2" fill="#6e7dff" fill-opacity="0.3"/>
<rect x="74.4" y="132.9" width="2" height="2" fill="#6e7dff" fill-opacity="0.3"/>
<rect x="60.7" y="140.4" width="2" height="2" fill="#6e7dff" fill-opacity="0.3"/>
<rect x="90.2" y="120.2" width="2" height="2" fill="#6e7dff" fill-opacity="0.3"/>
<rect x="56.5" y="142.7" width="2" height="2" fill="#6e7dff" fill-opacity="0.3"/>
<rect x="80.7" y="126.3" width="2" height="2" fill="#6e7dff" fill-opacity="0.3"/>
<rect x="143.3" y="84.1" width="2" height="2" fill="#6e7dff" fill-opacity="0.3"/>
<rect x="45.2" y="153.4" width="2" height="2" fill="#6e7dff" fill-opacity="0.3"/>
<rect x="45.9" y="152.0" width="2" height="2" fill="#6e7dff" fill-opacity="0.3"/>
<rect x="94.1" y="118.7" width="2" height="2" fill="#6e7dff" fill-opacity="0.3"/>
<rect x="66.2" y="136.6" width="2" height="2" fill="#6e7dff" fill-opacity="0.3"/>
<rect x="69.1" y="133.7" width="2" height="2" fill="#6e7dff" fill-opacity="0.3"/>
<rect x="58.8" y="143.0" width="2" height="2" fill="#6e7dff" fill-opacity="0.3"/>
<rect x="89.0" y="126.3" width="2" height="2" fill="#6e7dff" fill-opacity="0.3"/>
<rect x="71.3" y="137.8" width="2" height="2" fill="#6e7dff" fill-opacity="0.3"/>
<rect x="163.9" y="71.0" width="2" height="2" fill="#6e7dff" fill-opacity="0.3"/>
<rect x="78.8" y="128.9" width="2" height="2" fill="#6e7dff" fill-opacity="0.3"/>
<rect x="182.5" y="52.6" width="2" height="2" fill="#6e7dff" fill-opacity="0.3"/>
<rect x="210.3" y="28.9" width="2" height="2" fill="#6e7dff" fill-opacity="0.3"/>
<rect x="96.4" y="116.7" width="2" height="2" fill="#6e7dff" fill-opacity="0.3"/>
<rect x="235.7" y="13.9" width="2" height="2" fill="#6e7dff" fill-opacity="0.3"/>
<rect x="55.5" y="145.4" width="2" height="2" fill="#6e7dff" fill-opacity="0.3"/>
<rect x="45.1" y="153.7" width="2" height="2" fill="#6e7dff" fill-opacity="0.3"/>
<rect x="56.5" y="146.0" width="2" height="2" fill="#6e7dff" fill-opacity="0.3"/>
<rect x="105.1" y="111.7" width="2" height="2" fill="#6e7dff" fill-opacity="0.3"/>
<rect x="183.0" y="48.7" width="2" height="2" fill="#6e7dff" fill-opacity="0.3"/>
<rect x="69.1" y="133.9" width="2" height="2" fill="#6e7dff" fill-opacity="0.3"/>
<rect x="147.4" y="83.8" width="2" height="2" fill="#6e7dff" fill-opacity="0.3"/>
<rect x="230.7" y="17.8" width="2" height="2" fill="#6e7dff" fill-opacity="0.3"/>
<rect x="122.2" y="97.3" width="2" height="2" fill="#6e7dff" fill-opacity="0.3"/>
<rect x="72.3" y="134.9" width="2" height="2" fill="#6e7dff" fill-opacity="0.3"/>
<rect x="102.0" y="111.7" width="2" height="2" fill="#6e7dff" fill-opacity="0.3"/>
<rect x="66.2" y="136.9" width="2" height="2" fill="#6e7dff" fill-opacity="0.3"/>
<rect x="48.2" y="149.3" width="2" height="2" fill="#6e7dff" fill-opacity="0.3"/>
<rect x="47.1" y="151.0" width="2" height="2" fill="#6e7dff" fill-opacity="0.3"/>
<rect x="85.8" y="123.9" width="2" height="2" fill="#6e7dff" fill-opacity="0.3"/>
<rect x="50.3" y="146.9" width="2" height="2" fill="#6e7dff" fill-opacity="0.3"/>
<rect x="45.6" y="152.2" width="2" height="2" fill="#6e7dff" fill-opacity="0.3"/>
<rect x="171.8" y="66.0" width="2" height="2" fill="#6e7dff" fill-opacity="0.3"/>
<rect x="57.7" y="143.8" width="2" height="2" fill="#6e7dff" fill-opacity="0.3"/>
<rect x="67.3" y="137.9" width="2" height="2" fill="#6e7dff" fill-opacity="0.3"/>
<rect x="182.2" y="54.6" width="2" height="2" fill="#6e7dff" fill-opacity="0.3"/>
<rect x="144.9" y="86.5" width="2" height="2" fill="#6e7dff" fill-opacity="0.3"/>
<rect x="173.3" y="59.3" width="2" height="2" fill="#6e7dff" fill-opacity="0.3"/>
<rect x="134.6" y="88.0" width="2" height="2" fill="#6e7dff" fill-opacity="0.3"/>
<rect x="45.1" y="155.8" width="2" height="2" fill="#6e7dff" fill-opacity="0.3"/>
<rect x="233.2" y="19.5" width="2" height="2" fill="#6e7dff" fill-opacity="0.3"/>
<rect x="80.2" y="128.5" width="2" height="2" fill="#6e7dff" fill-opacity="0.3"/>
<rect x="219.1" y="22.0" width="2" height="2" fill="#6e7dff" fill-opacity="0.3"/>
<rect x="146.7" y="77.0" width="2" height="2" fill="#6e7dff" fill-opacity="0.3"/>
<rect x="61.4" y="144.0" width="2" height="2" fill="#6e7dff" fill-opacity="0.3"/>
<rect x="47.9" y="150.2" width="2" height="2" fill="#6e7dff" fill-opacity="0.3"/>
<rect x="103.9" y="110.3" width="2" height="2" fill="#6e7dff" fill-opacity="0.3"/>
<rect x="64.2" y="139.1" width="2" height="2" fill="#6e7dff" fill-opacity="0.3"/>
<rect x="61.1" y="142.8" width="2" height="2" fill="#6e7dff" fill-opacity="0.3"/>
<rect x="162.1" y="63.7" width="2" height="2" fill="#6e7dff" fill-opacity="0.3"/>
<rect x="141.3" y="86.0" width="2" height="2" fill="#6e7dff" fill-opacity="0.3"/>
<rect x="49.4" y="148.8" width="2" height="2" fill="#6e7dff" fill-opacity="0.3"/>
<rect x="219.1" y="31.7" width="2" height="2" fill="#6e7dff" fill-opacity="0.3"/>
<rect x="48.0" y="150.2" width="2" height="2" fill="#6e7dff" fill-opacity="0.3"/>
<rect x="109.0" y="106.4" width="2" height="2" fill="#6e7dff" fill-opacity="0.3"/>
<rect x="60.1" y="141.8" width="2" height="2" fill="#6e7dff" fill-opacity="0.3"/>
<rect x="71.8" y="132.7" width="2" height="2" fill="#6e7dff" fill-opacity="0.3"/>
<rect x="45.9" y="150.6" width="2" height="2" fill="#6e7dff" fill-opacity="0.3"/>
<rect x="46.3" y="150.9" width="2" height="2" fill="#6e7dff" fill-opacity="0.3"/>
<rect x="243.7" y="20.2" width="2" height="2" fill="#6e7dff" fill-opacity="0.3"/>
<rect x="91.9" y="122.2" width="2" height="2" fill="#6e7dff" fill-opacity="0.3"/>
<rect x="76.4" y="127.6" width="2" height="2" fill="#6e7dff" fill-opacity="0.3"/>
<rect x="131.3" y="91.3" width="2" height="2" fill="#6e7dff" fill-opacity="0.3"/>
<rect x="221.1" y="35.9" width="2" height="2" fill="#6e7dff" fill-opacity="0.3"/>
<rect x="84.3" y="124.4" width="2" height="2" fill="#6e7dff" fill-opacity="0.3"/>
<rect x="51.2" y="146.6" width="2" height="2" fill="#6e7dff" fill-opacity="0.3"/>
<rect x="47.9" y="148.9" width="2" height="2" fill="#6e7dff" fill-opacity="0.3"/>
<rect x="158.5" y="74.4" width="2" height="2" fill="#6e7dff" fill-opacity="0.3"/>
<rect x="45.1" y="152.0" width="2" height="2" fill="#6e7dff" fill-opacity="0.3"/>
<rect x="45.1" y="155.1" width="2" height="2" fill="#6e7dff" fill-opacity="0.3"/>
<rect x="170.4" y="64.8" width="2" height="2" fill="#6e7dff" fill-opacity="0.3"/>
<rect x="173.9" y="63.6" width="2" height="2" fill="#6e7dff" fill-opacity="0.3"/>
<rect x="239.2" y="16.0" width="2" height="2" fill="#6e7dff" fill-opacity="0.3"/>
<rect x="77.4" y="129.7" width="2" height="2" fill="#6e7dff" fill-opacity="0.3"/>
<rect x="210.3" y="27.8" width="2" height="2" fill="#6e7dff" fill-opacity="0.3"/>
<rect x="55.4" y="146.1" width="2" height="2" fill="#6e7dff" fill-opacity="0.3"/>
<rect x="131.3" y="90.9" width="2" height="2" fill="#6e7dff" fill-opacity="0.3"/>
<rect x="126.4" y="95.0" width="2" height="2" fill="#6e7dff" fill-opacity="0.3"/>
<rect x="208.7" y="33.6" width="2" height="2" fill="#6e7dff" fill-opacity="0.3"/>
<rect x="67.5" y="136.4" width="2" height="2" fill="#6e7dff" fill-opacity="0.3"/>
<rect x="155.4" y="75.0" width="2" height="2" fill="#6e7dff" fill-opacity="0.3"/>
<rect x="51.3" y="146.9" width="2" height="2" fill="#6e7dff" fill-opacity="0.3"/>
<rect x="69.6" y="134.1" width="2" height="2" fill="#6e7dff" fill-opacity="0.3"/>
<rect x="95.5" y="117.1" width="2" height="2" fill="#6e7dff" fill-opacity="0.3"/>
<rect x="102.7" y="108.6" width="2" height="2" fill="#6e7dff" fill-opacity="0.3"/>
<rect x="199.9" y="49.0" width="2" height="2" fill="#6e7dff" fill-opacity="0.3"/>
<rect x="47.4" y="148.7" width="2" height="2" fill="#6e7dff" fill-opacity="0.3"/>
<rect x="230.2" y="22.3" width="2" height="2" fill="#6e7dff" fill-opacity="0.3"/>
<rect x="144.6" y="80.7" width="2" height="2" fill="#6e7dff" fill-opacity="0.3"/>
<rect x="136.7" y="83.6" width="2" height="2" fill="#6e7dff" fill-opacity="0.3"/>
<rect x="51.8" y="151.7" width="2" height="2" fill="#6e7dff" fill-opacity="0.3"/>
<rect x="49.4" y="150.3" width="2" height="2" fill="#6e7dff" fill-opacity="0.3"/>
<rect x="127.9" y="95.2" width="2" height="2" fill="#6e7dff" fill-opacity="0.3"/>
<rect x="202.4" y="41.1" width="2" height="2" fill="#6e7dff" fill-opacity="0.3"/>
<rect x="96.0" y="115.5" width="2" height="2" fill="#6e7dff" fill-opacity="0.3"/>
<rect x="185.2" y="55.2" width="2" height="2" fill="#6e7dff" fill-opacity="0.3"/>
<rect x="133.5" y="89.9" width="2" height="2" fill="#6e7dff" fill-opacity="0.3"/>
<rect x="55.6" y="146.6" width="2" height="2" fill="#6e7dff" fill-opacity="0.3"/>
<rect x="98.1" y="110.9" width="2" height="2" fill="#6e7dff" fill-opacity="0.3"/>
<rect x="84.9" y="125.9" width="2" height="2" fill="#6e7dff" fill-opacity="0.3"/>
<rect x="218.4" y="28.9" width="2" height="2" fill="#6e7dff" fill-opacity="0.3"/>
<rect x="242.0" y="13.3" width="2" height="2" fill="#6e7dff" fill-opacity="0.3"/>
<rect x="153.5" y="69.8" width="2" height="2" fill="#6e7dff" fill-opacity="0.3"/>
<rect x="195.4" y="50.8" width="2" height="2" fill="#6e7dff" fill-opacity="0.3"/>
<rect x="93.2" y="120.6" width="2" height="2" fill="#6e7dff" fill-opacity="0.3"/>
<rect x="129.3" y="89.1" width="2" height="2" fill="#6e7dff" fill-opacity="0.3"/>
<rect x="172.2" y="65.1" width="2" height="2" fill="#6e7dff" fill-opacity="0.3"/>
<rect x="45.9" y="150.2" width="2" height="2" fill="#6e7dff" fill-opacity="0.3"/>
<rect x="57.6" y="143.1" width="2" height="2" fill="#6e7dff" fill-opacity="0.3"/>
<rect x="102.5" y="110.0" width="2" height="2" fill="#6e7dff" fill-opacity="0.3"/>
<rect x="60.7" y="141.2" width="2" height="2" fill="#6e7dff" fill-opacity="0.3"/>
<rect x="106.6" y="109.2" width="2" height="2" fill="#6e7dff" fill-opacity="0.3"/>
<rect x="56.7" y="144.1" width="2" height="2" fill="#6e7dff" fill-opacity="0.3"/>
<rect x="163.7" y="71.4" width="2" height="2" fill="#6e7dff" fill-opacity="0.3"/>
<rect x="171.9" y="61.2" width="2" height="2" fill="#6e7dff" fill-opacity="0.3"/>
<rect x="47.1" y="149.3" width="2" height="2" fill="#6e7dff" fill-opacity="0.3"/>
<rect x="194.5" y="43.3" width="2" height="2" fill="#6e7dff" fill-opacity="0.3"/>
<rect x="51.7" y="150.4" width="2" height="2" fill="#6e7dff" fill-opacity="0.3"/>
<rect x="121.1" y="95.7" width="2" height="2" fill="#6e7dff" fill-opacity="0.3"/>
<rect x="240.0" y="18.1" width="2" height="2" fill="#6e7dff" fill-opacity="0.3"/>
<rect x="198.5" y="42.6" width="2" height="2" fill="#6e7dff" fill-opacity="0.3"/>
<rect x="134.3" y="86.3" width="2" height="2" fill="#6e7dff" fill-opacity="0.3"/>
<rect x="68.1" y="137.7" width="2" height="2" fill="#6e7dff" fill-opacity="0.3"/>
<rect x="60.6" y="143.6" width="2" height="2" fill="#6e7dff" fill-opacity="0.3"/>
<rect x="51.6" y="146.2" width="2" height="2" fill="#6e7dff" fill-opacity="0.3"/>
<rect x="88.5" y="120.0" width="2" height="2" fill="#6e7dff" fill-opacity="0.3"/>
<rect x="221.9" y="26.8" width="2" height="2" fill="#6e7dff" fill-opacity="0.3"/>
<rect x="52.7" y="143.9" width="2" height="2" fill="#6e7dff" fill-opacity="0.3"/>
<rect x="153.3" y="75.9" width="2" height="2" fill="#6e7dff" fill-opacity="0.3"/>
<rect x="78.4" y="127.9" width="2" height="2" fill="#6e7dff" fill-opacity="0.3"/>
<rect x="81.1" y="126.3" width="2" height="2" fill="#6e7dff" fill-opacity="0.3"/>
<rect x="86.7" y="125.4" width="2" height="2" fill="#6e7dff" fill-opacity="0.3"/>
<rect x="69.0" y="135.6" width="2" height="2" fill="#6e7dff" fill-opacity="0.3"/>
<rect x="112.1" y="109.5" width="2" height="2" fill="#6e7dff" fill-opacity="0.3"/>
<rect x="61.5" y="139.7" width="2" height="2" fill="#6e7dff" fill-opacity="0.3"/>
<rect x="86.4" y="120.6" width="2" height="2" fill="#6e7dff" fill-opacity="0.3"/>
<rect x="155.4" y="75.0" width="2" height="2" fill="#6e7dff" fill-opacity="0.3"/>
<rect x="45.9" y="152.8" width="2" height="2" fill="#6e7dff" fill-opacity="0.3"/>
<rect x="83.9" y="122.3" width="2" height="2" fill="#6e7dff" fill-opacity="0.3"/>
<rect x="141.5" y="84.0" width="2" height="2" fill="#6e7dff" fill-opacity="0.3"/>
<rect x="78.9" y="127.4" width="2" height="2" fill="#6e7dff" fill-opacity="0.3"/>
<rect x="57.7" y="144.4" width="2" height="2" fill="#6e7dff" fill-opacity="0.3"/>
<rect x="179.5" y="57.1" width="2" height="2" fill="#6e7dff" fill-opacity="0.3"/>
<rect x="104.6" y="108.4" width="2" height="2" fill="#6e7dff" fill-opacity="0.3"/>
<rect x="46.6" y="152.3" width="2" height="2" fill="#6e7dff" fill-opacity="0.3"/>
<rect x="149.5" y="79.1" width="2" height="2" fill="#6e7dff" fill-opacity="0.3"/>
<rect x="206.1" y="32.2" width="2" height="2" fill="#6e7dff" fill-opacity="0.3"/>
<rect x="125.1" y="94.9" width="2" height="2" fill="#6e7dff" fill-opacity="0.3"/>
<rect x="88.2" y="124.1" width="2" height="2" fill="#6e7dff" fill-opacity="0.3"/>
<rect x="118.3" y="94.5" width="2" height="2" fill="#6e7dff" fill-opacity="0.3"/>
<rect x="241.9" y="19.1" width="2" height="2" fill="#6e7dff" fill-opacity="0.3"/>
<rect x="129.4" y="104.6" width="2" height="2" fill="#6e7dff" fill-opacity="0.3"/>
<rect x="45.9" y="153.1" width="2" height="2" fill="#6e7dff" fill-opacity="0.3"/>
<rect x="131.0" y="99.2" width="2" height="2" fill="#6e7dff" fill-opacity="0.3"/>
<rect x="53.8" y="146.5" width="2" height="2" fill="#6e7dff" fill-opacity="0.3"/>
<rect x="76.2" y="129.7" width="2" height="2" fill="#6e7dff" fill-opacity="0.3"/>
<rect x="50.6" y="150.0" width="2" height="2" fill="#6e7dff" fill-opacity="0.3"/>
<rect x="155.0" y="79.7" width="2" height="2" fill="#6e7dff" fill-opacity="0.3"/>
<rect x="151.8" y="75.0" width="2" height="2" fill="#6e7dff" fill-opacity="0.3"/>
<rect x="88.9" y="116.5" width="2" height="2" fill="#6e7dff" fill-opacity="0.3"/>
<rect x="223.3" y="20.1" width="2" height="2" fill="#6e7dff" fill-opacity="0.3"/>
<rect x="69.7" y="136.2" width="2" height="2" fill="#6e7dff" fill-opacity="0.3"/>
<rect x="47.5" y="150.3" width="2" height="2" fill="#6e7dff" fill-opacity="0.3"/>
<rect x="96.5" y="114.6" width="2" height="2" fill="#6e7dff" fill-opacity="0.3"/>
<rect x="48.4" y="148.3" width="2" height="2" fill="#6e7dff" fill-opacity="0.3"/>
<rect x="62.3" y="139.9" width="2" height="2" fill="#6e7dff" fill-opacity="0.3"/>
<rect x="79.3" y="125.9" width="2" height="2" fill="#6e7dff" fill-opacity="0.3"/>
<rect x="85.8" y="124.4" width="2" height="2" fill="#6e7dff" fill-opacity="0.3"/>
<rect x="189.6" y="49.2" width="2" height="2" fill="#6e7dff" fill-opacity="0.3"/>
<rect x="49.8" y="146.7" width="2" height="2" fill="#6e7dff" fill-opacity="0.3"/>
<rect x="78.1" y="132.4" width="2" height="2" fill="#6e7dff" fill-opacity="0.3"/>
<rect x="230.6" y="14.8" width="2" height="2" fill="#6e7dff" fill-opacity="0.3"/>
<rect x="49.8" y="148.3" width="2" height="2" fill="#6e7dff" fill-opacity="0.3"/>
<rect x="146.5" y="80.2" width="2" height="2" fill="#6e7dff" fill-opacity="0.3"/>
<rect x="45.2" y="151.1" width="2" height="2" fill="#6e7dff" fill-opacity="0.3"/>
<rect x="231.5" y="28.7" width="2" height="2" fill="#6e7dff" fill-opacity="0.3"/>
<rect x="45.5" y="152.4" width="2" height="2" fill="#6e7dff" fill-opacity="0.3"/>
<rect x="58.6" y="140.6" width="2" height="2" fill="#6e7dff" fill-opacity="0.3"/>
<rect x="66.7" y="138.6" width="2" height="2" fill="#6e7dff" fill-opacity="0.3"/>
<rect x="202.1" y="35.7" width="2" height="2" fill="#6e7dff" fill-opacity="0.3"/>
<rect x="95.2" y="114.8" width="2" height="2" fill="#6e7dff" fill-opacity="0.3"/>
<rect x="63.0" y="139.7" width="2" height="2" fill="#6e7dff" fill-opacity="0.3"/>
<rect x="72.1" y="134.5" width="2" height="2" fill="#6e7dff" fill-opacity="0.3"/>
<rect x="70.7" y="135.3" width="2" height="2" fill="#6e7dff" fill-opacity="0.3"/>
<rect x="45.6" y="151.6" width="2" height="2" fill="#6e7dff" fill-opacity="0.3"/>
<rect x="100.7" y="113.2" width="2" height="2" fill="#6e7dff" fill-opacity="0.3"/>
<rect x="55.0" y="143.9" width="2" height="2" fill="#6e7dff" fill-opacity="0.3"/>
<rect x="64.8" y="138.7" width="2" height="2" fill="#6e7dff" fill-opacity="0.3"/>
<rect x="157.3" y="68.9" width="2" height="2" fill="#6e7dff" fill-opacity="0.3"/>
<rect x="78.1" y="127.4" width="2" height="2" fill="#6e7dff" fill-opacity="0.3"/>
<rect x="115.4" y="98.9" width="2" height="2" fill="#6e7dff" fill-opacity="0.3"/>
<rect x="116.5" y="102.1" width="2" height="2" fill="#6e7dff" fill-opacity="0.3"/>
<rect x="119.2" y="99.9" width="2" height="2" fill="#6e7dff" fill-opacity="0.3"/>
<rect x="94.5" y="118.6" width="2" height="2" fill="#6e7dff" fill-opacity="0.3"/>
<rect x="45.6" y="150.8" width="2" height="2" fill="#6e7dff" fill-opacity="0.3"/>
<rect x="59.6" y="141.8" width="2" height="2" fill="#6e7dff" fill-opacity="0.3"/>
<rect x="192.8" y="46.7" width="2" height="2" fill="#6e7dff" fill-opacity="0.3"/>
<rect x="137.4" y="85.2" width="2" height="2" fill="#6e7dff" fill-opacity="0.3"/>
<rect x="183.2" y="55.0" width="2" height="2" fill="#6e7dff" fill-opacity="0.3"/>
<rect x="179.2" y="60.2" width="2" height="2" fill="#6e7dff" fill-opacity="0.3"/>
<rect x="45.7" y="151.7" width="2" height="2" fill="#6e7dff" fill-opacity="0.3"/>
<rect x="123.0" y="100.8" width="2" height="2" fill="#6e7dff" fill-opacity="0.3"/>
<rect x="126.5" y="88.4" width="2" height="2" fill="#6e7dff" fill-opacity="0.3"/>
<rect x="158.2" y="68.3" width="2" height="2" fill="#6e7dff" fill-opacity="0.3"/>
<rect x="153.5" y="77.6" width="2" height="2" fill="#6e7dff" fill-opacity="0.3"/>
<rect x="238.3" y="9.2" width="2" height="2" fill="#6e7dff" fill-opacity="0.3"/>
<rect x="167.0" y="67.8" width="2" height="2" fill="#6e7dff" fill-opacity="0.3"/>
<rect x="73.6" y="133.1" width="2" height="2" fill="#6e7dff" fill-opacity="0.3"/>
<rect x="47.8" y="151.9" width="2" height="2" fill="#6e7dff" fill-opacity="0.3"/>
<rect x="46.1" y="149.6" width="2" height="2" fill="#6e7dff" fill-opacity="0.3"/>
<rect x="133.7" y="87.6" width="2" height="2" fill="#6e7dff" fill-opacity="0.3"/>
<rect x="47.9" y="152.6" width="2" height="2" fill="#6e7dff" fill-opacity="0.3"/>
<rect x="107.7" y="105.3" width="2" height="2" fill="#6e7dff" fill-opacity="0.3"/>
<rect x="79.4" y="130.5" width="2" height="2" fill="#6e7dff" fill-opacity="0.3"/>
<rect x="48.1" y="149.0" width="2" height="2" fill="#6e7dff" fill-opacity="0.3"/>
<rect x="45.3" y="153.5" width="2" height="2" fill="#6e7dff" fill-opacity="0.3"/>
<rect x="135.9" y="84.7" width="2" height="2" fill="#6e7dff" fill-opacity="0.3"/>
<rect x="140.0" y="88.9" width="2" height="2" fill="#6e7dff" fill-opacity="0.3"/>
<rect x="47.3" y="150.8" width="2" height="2" fill="#6e7dff" fill-opacity="0.3"/>
<rect x="113.6" y="103.5" width="2" height="2" fill="#6e7dff" fill-opacity="0.3"/>
<rect x="50.4" y="150.0" width="2" height="2" fill="#6e7dff" fill-opacity="0.3"/>
<rect x="99.1" y="115.9" width="2" height="2" fill="#6e7dff" fill-opacity="0.3"/>
<rect x="186.8" y="55.0" width="2" height="2" fill="#6e7dff" fill-opacity="0.3"/>
<rect x="91.2" y="116.5" width="2" height="2" fill="#6e7dff" fill-opacity="0.3"/>
<rect x="142.2" y="83.2" width="2" height="2" fill="#6e7dff" fill-opacity="0.3"/>
<rect x="151.6" y="75.8" width="2" height="2" fill="#6e7dff" fill-opacity="0.3"/>
<rect x="45.9" y="151.1" width="2" height="2" fill="#6e7dff" fill-opacity="0.3"/>
<rect x="147.6" y="80.9" width="2" height="2" fill="#6e7dff" fill-opacity="0.3"/>
<rect x="107.6" y="102.7" width="2" height="2" fill="#6e7dff" fill-opacity="0.3"/>
<rect x="86.6" y="122.6" width="2" height="2" fill="#6e7dff" fill-opacity="0.3"/>
<rect x="158.4" y="69.1" width="2" height="2" fill="#6e7dff" fill-opacity="0.3"/>
<rect x="188.5" y="44.5" width="2" height="2" fill="#6e7dff" fill-opacity="0.3"/>
<rect x="109.5" y="106.5" width="2" height="2" fill="#6e7dff" fill-opacity="0.3"/>
<rect x="49.6" y="146.4" width="2" height="2" fill="#6e7dff" fill-opacity="0.3"/>
<rect x="174.7" y="58.8" width="2" height="2" fill="#6e7dff" fill-opacity="0.3"/>
<rect x="54.6" y="145.3" width="2" height="2" fill="#6e7dff" fill-opacity="0.3"/>
<rect x="119.3" y="98.8" width="2" height="2" fill="#6e7dff" fill-opacity="0.3"/>
<rect x="112.8" y="102.8" width="2" height="2" fill="#6e7dff" fill-opacity="0.3"/>
<rect x="140.0" y="92.8" width="2" height="2" fill="#6e7dff" fill-opacity="0.3"/>
<rect x="148.2" y="85.5" width="2" height="2" fill="#6e7dff" fill-opacity="0.3"/>
<rect x="150.6" y="77.4" width="2" height="2" fill="#6e7dff" fill-opacity="0.3"/>
<rect x="45.1" y="153.3" width="2" height="2" fill="#6e7dff" fill-opacity="0.3"/>
<rect x="62.2" y="139.9" width="2" height="2" fill="#6e7dff" fill-opacity="0.3"/>
<rect x="92.0" y="119.3" width="2" height="2" fill="#6e7dff" fill-opacity="0.3"/>
<rect x="60.5" y="144.1" width="2" height="2" fill="#6e7dff" fill-opacity="0.3"/>
<rect x="50.2" y="147.2" width="2" height="2" fill="#6e7dff" fill-opacity="0.3"/>
<rect x="119.2" y="101.3" width="2" height="2" fill="#6e7dff" fill-opacity="0.3"/>
<rect x="102.1" y="117.1" width="2" height="2" fill="#6e7dff" fill-opacity="0.3"/>
<rect x="165.1" y="64.6" width="2" height="2" fill="#6e7dff" fill-opacity="0.3"/>
<rect x="220.3" y="34.7" width="2" height="2" fill="#6e7dff" fill-opacity="0.3"/>
<rect x="55.9" y="145.7" width="2" height="2" fill="#6e7dff" fill-opacity="0.3"/>
<rect x="151.3" y="72.9" width="2" height="2" fill="#6e7dff" fill-opacity="0.3"/>
<rect x="109.1" y="107.1" width="2" height="2" fill="#6e7dff" fill-opacity="0.3"/>
<rect x="225.3" y="26.5" width="2" height="2" fill="#6e7dff" fill-opacity="0.3"/>
<rect x="131.3" y="88.1" width="2" height="2" fill="#6e7dff" fill-opacity="0.3"/>
<rect x="47.1" y="151.4" width="2" height="2" fill="#6e7dff" fill-opacity="0.3"/>
<rect x="240.4" y="25.0" width="2" height="2" fill="#6e7dff" fill-opacity="0.3"/>
<rect x="45.8" y="152.0" width="2" height="2" fill="#6e7dff" fill-opacity="0.3"/>
<rect x="45.2" y="156.5" width="2" height="2" fill="#6e7dff" fill-opacity="0.3"/>
<rect x="138.8" y="86.4" width="2" height="2" fill="#6e7dff" fill-opacity="0.3"/>
<rect x="99.3" y="111.3" width="2" height="2" fill="#6e7dff" fill-opacity="0.3"/>
<rect x="51.9" y="148.6" width="2" height="2" fill="#6e7dff" fill-opacity="0.3"/>
<rect x="94.8" y="117.9" width="2" height="2" fill="#6e7dff" fill-opacity="0.3"/>
<rect x="79.8" y="127.0" width="2" height="2" fill="#6e7dff" fill-opacity="0.3"/>
<rect x="92.4" y="123.5" width="2" height="2" fill="#6e7dff" fill-opacity="0.3"/>
<rect x="108.0" y="106.2" width="2" height="2" fill="#6e7dff" fill-opacity="0.3"/>
<rect x="67.6" y="139.6" width="2" height="2" fill="#6e7dff" fill-opacity="0.3"/>
<rect x="235.3" y="11.8" width="2" height="2" fill="#6e7dff" fill-opacity="0.3"/>
<rect x="192.3" y="42.6" width="2" height="2" fill="#6e7dff" fill-opacity="0.3"/>
<rect x="93.0" y="120.7" width="2" height="2" fill="#6e7dff" fill-opacity="0.3"/>
<rect x="120.1" y="105.0" width="2" height="2" fill="#6e7dff" fill-opacity="0.3"/>
<rect x="46.6" y="155.2" width="2" height="2" fill="#6e7dff" fill-opacity="0.3"/>
<rect x="45.3" y="150.0" width="2" height="2" fill="#6e7dff" fill-opacity="0.3"/>
<rect x="228.1" y="15.6" width="2" height="2" fill="#6e7dff" fill-opacity="0.3"/>
<rect x="182.6" y="57.7" width="2" height="2" fill="#6e7dff" fill-opacity="0.3"/>
<rect x="112.3" y="107.9" width="2" height="2" fill="#6e7dff" fill-opacity="0.3"/>
<rect x="45.1" y="149.8" width="2" height="2" fill="#6e7dff" fill-opacity="0.3"/>
<rect x="235.1" y="17.1" width="2" height="2" fill="#6e7dff" fill-opacity="0.3"/>
<rect x="67.5" y="135.7" width="2" height="2" fill="#6e7dff" fill-opacity="0.3"/>
<rect x="163.6" y="71.4" width="2" height="2" fill="#6e7dff" fill-opacity="0.3"/>
<rect x="100.4" y="115.9" width="2" height="2" fill="#6e7dff" fill-opacity="0.3"/>
<rect x="86.4" y="125.4" width="2" height="2" fill="#6e7dff" fill-opacity="0.3"/>
<rect x="51.2" y="147.2" width="2" height="2" fill="#6e7dff" fill-opacity="0.3"/>
<rect x="90.9" y="119.7" width="2" height="2" fill="#6e7dff" fill-opacity="0.3"/>
<rect x="56.4" y="144.9" width="2" height="2" fill="#6e7dff" fill-opacity="0.3"/>
<rect x="99.6" y="117.2" width="2" height="2" fill="#6e7dff" fill-opacity="0.3"/>
<rect x="51.9" y="147.4" width="2" height="2" fill="#6e7dff" fill-opacity="0.3"/>
<rect x="66.8" y="138.3" width="2" height="2" fill="#6e7dff" fill-opacity="0.3"/>
<rect x="169.8" y="60.5" width="2" height="2" fill="#6e7dff" fill-opacity="0.3"/>
<rect x="161.5" y="69.2" width="2" height="2" fill="#6e7dff" fill-opacity="0.3"/>
<rect x="79.4" y="125.0" width="2" height="2" fill="#6e7dff" fill-opacity="0.3"/>
<rect x="70.4" y="131.3" width="2" height="2" fill="#6e7dff" fill-opacity="0.3"/>
<rect x="75.0" y="130.1" width="2" height="2" fill="#6e7dff" fill-opacity="0.3"/>
<rect x="167.3" y="71.5" width="2" height="2" fill="#6e7dff" fill-opacity="0.3"/>
<rect x="73.8" y="133.3" width="2" height="2" fill="#6e7dff" fill-opacity="0.3"/>
<rect x="154.9" y="75.3" width="2" height="2" fill="#6e7dff" fill-opacity="0.3"/>
<rect x="45.1" y="153.6" width="2" height="2" fill="#6e7dff" fill-opacity="0.3"/>
<rect x="45.9" y="150.8" width="2" height="2" fill="#6e7dff" fill-opacity="0.3"/>
<rect x="53.5" y="144.1" width="2" height="2" fill="#6e7dff" fill-opacity="0.3"/>
<rect x="218.4" y="41.0" width="2" height="2" fill="#6e7dff" fill-opacity="0.3"/>
<rect x="49.1" y="151.2" width="2" height="2" fill="#6e7dff" fill-opacity="0.3"/>
<rect x="52.5" y="145.8" width="2" height="2" fill="#6e7dff" fill-opacity="0.3"/>
<rect x="200.6" y="54.2" width="2" height="2" fill="#6e7dff" fill-opacity="0.3"/>
<rect x="86.2" y="122.9" width="2" height="2" fill="#6e7dff" fill-opacity="0.3"/>
<rect x="59.9" y="140.6" width="2" height="2" fill="#6e7dff" fill-opacity="0.3"/>
<rect x="51.9" y="147.5" width="2" height="2" fill="#6e7dff" fill-opacity="0.3"/>
<rect x="63.9" y="138.3" width="2" height="2" fill="#6e7dff" fill-opacity="0.3"/>
<rect x="100.5" y="113.9" width="2" height="2" fill="#6e7dff" fill-opacity="0.3"/>
<rect x="161.1" y="72.5" width="2" height="2" fill="#6e7dff" fill-opacity="0.3"/>
<rect x="46.4" y="151.2" width="2" height="2" fill="#6e7dff" fill-opacity="0.3"/>
<rect x="64.2" y="140.3" width="2" height="2" fill="#6e7dff" fill-opacity="0.3"/>
<rect x="95.8" y="115.5" width="2" height="2" fill="#6e7dff" fill-opacity="0.3"/>
<rect x="109.6" y="110.3" width="2" height="2" fill="#6e7dff" fill-opacity="0.3"/>
<rect x="234.0" y="17.2" width="2" height="2" fill="#6e7dff" fill-opacity="0.3"/>
<rect x="188.0" y="47.9" width="2" height="2" fill="#6e7dff" fill-opacity="0.3"/>
<rect x="223.1" y="19.3" width="2" height="2" fill="#6e7dff" fill-opacity="0.3"/>
<rect x="161.3" y="67.1" width="2" height="2" fill="#6e7dff" fill-opacity="0.3"/>
<rect x="50.4" y="147.8" width="2" height="2" fill="#6e7dff" fill-opacity="0.3"/>
<rect x="54.0" y="144.4" width="2" height="2" fill="#6e7dff" fill-opacity="0.3"/>
<rect x="172.6" y="60.0" width="2" height="2" fill="#6e7dff" fill-opacity="0.3"/>
<rect x="88.3" y="120.2" width="2" height="2" fill="#6e7dff" fill-opacity="0.3"/>
<rect x="63.6" y="137.3" width="2" height="2" fill="#6e7dff" fill-opacity="0.3"/>
<rect x="121.5" y="99.6" width="2" height="2" fill="#6e7dff" fill-opacity="0.3"/>
<rect x="122.8" y="98.1" width="2" height="2" fill="#6e7dff" fill-opacity="0.3"/>
<rect x="201.1" y="41.4" width="2" height="2" fill="#6e7dff" fill-opacity="0.3"/>
<rect x="103.3" y="110.9" width="2" height="2" fill="#6e7dff" fill-opacity="0.3"/>
<rect x="211.8" y="45.2" width="2" height="2" fill="#6e7dff" fill-opacity="0.3"/>
<rect x="190.4" y="45.7" width="2" height="2" fill="#6e7dff" fill-opacity="0.3"/>
<rect x="96.8" y="112.4" width="2" height="2" fill="#6e7dff" fill-opacity="0.3"/>
<rect x="50.9" y="148.4" width="2" height="2" fill="#6e7dff" fill-opacity="0.3"/>
<rect x="113.1" y="105.8" width="2" height="2" fill="#6e7dff" fill-opacity="0.3"/>
<rect x="61.2" y="139.0" width="2" height="2" fill="#6e7dff" fill-opacity="0.3"/>
<rect x="69.1" y="136.6" width="2" height="2" fill="#6e7dff" fill-opacity="0.3"/>
<rect x="215.1" y="28.2" width="2" height="2" fill="#6e7dff" fill-opacity="0.3"/>
<rect x="45.1" y="153.4" width="2" height="2" fill="#6e7dff" fill-opacity="0.3"/>
<rect x="110.9" y="107.1" width="2" height="2" fill="#6e7dff" fill-opacity="0.3"/>
<rect x="46.7" y="152.7" width="2" height="2" fill="#6e7dff" fill-opacity="0.3"/>
<rect x="127.2" y="90.1" width="2" height="2" fill="#6e7dff" fill-opacity="0.3"/>
<rect x="84.2" y="122.2" width="2" height="2" fill="#6e7dff" fill-opacity="0.3"/>
<rect x="56.0" y="143.9" width="2" height="2" fill="#6e7dff" fill-opacity="0.3"/>
<rect x="58.0" y="141.5" width="2" height="2" fill="#6e7dff" fill-opacity="0.3"/>
<rect x="81.3" y="130.6" width="2" height="2" fill="#6e7dff" fill-opacity="0.3"/>
<rect x="93.0" y="118.1" width="2" height="2" fill="#6e7dff" fill-opacity="0.3"/>
<rect x="186.4" y="48.8" width="2" height="2" fill="#6e7dff" fill-opacity="0.3"/>
<rect x="52.8" y="147.0" width="2" height="2" fill="#6e7dff" fill-opacity="0.3"/>
<rect x="174.0" y="53.5" width="2" height="2" fill="#6e7dff" fill-opacity="0.3"/>
<rect x="138.8" y="88.1" width="2" height="2" fill="#6e7dff" fill-opacity="0.3"/>
<rect x="176.0" y="57.8" width="2" height="2" fill="#6e7dff" fill-opacity="0.3"/>
<rect x="177.6" y="58.2" width="2" height="2" fill="#6e7dff" fill-opacity="0.3"/>
<rect x="214.0" y="25.2" width="2" height="2" fill="#6e7dff" fill-opacity="0.3"/>
<rect x="68.6" y="135.8" width="2" height="2" fill="#6e7dff" fill-opacity="0.3"/>
<rect x="210.9" y="30.4" width="2" height="2" fill="#6e7dff" fill-opacity="0.3"/>
<rect x="45.9" y="152.0" width="2" height="2" fill="#6e7dff" fill-opacity="0.3"/>
<rect x="237.8" y="12.8" width="2" height="2" fill="#6e7dff" fill-opacity="0.3"/>
<rect x="52.0" y="149.0" width="2" height="2" fill="#6e7dff" fill-opacity="0.3"/>
<rect x="238.9" y="11.8" width="2" height="2" fill="#6e7dff" fill-opacity="0.3"/>
<rect x="150.6" y="73.5" width="2" height="2" fill="#6e7dff" fill-opacity="0.3"/>
<rect x="163.1" y="74.3" width="2" height="2" fill="#6e7dff" fill-opacity="0.3"/>
<rect x="109.8" y="103.1" width="2" height="2" fill="#6e7dff" fill-opacity="0.3"/>
<rect x="93.4" y="118.9" width="2" height="2" fill="#6e7dff" fill-opacity="0.3"/>
<rect x="45.2" y="151.1" width="2" height="2" fill="#6e7dff" fill-opacity="0.3"/>
<rect x="55.5" y="147.1" width="2" height="2" fill="#6e7dff" fill-opacity="0.3"/>
<rect x="141.4" y="82.4" width="2" height="2" fill="#6e7dff" fill-opacity="0.3"/>
<rect x="59.9" y="141.5" width="2" height="2" fill="#6e7dff" fill-opacity="0.3"/>
<rect x="139.1" y="81.9" width="2" height="2" fill="#6e7dff" fill-opacity="0.3"/>
<rect x="216.8" y="26.2" width="2" height="2" fill="#6e7dff" fill-opacity="0.3"/>
<rect x="226.1" y="35.7" width="2" height="2" fill="#6e7dff" fill-opacity="0.3"/>
<rect x="164.8" y="67.7" width="2" height="2" fill="#6e7dff" fill-opacity="0.3"/>
<rect x="99.6" y="112.0" width="2" height="2" fill="#6e7dff" fill-opacity="0.3"/>
<rect x="193.7" y="45.4" width="2" height="2" fill="#6e7dff" fill-opacity="0.3"/>
<rect x="155.8" y="73.1" width="2" height="2" fill="#6e7dff" fill-opacity="0.3"/>
<rect x="112.4" y="104.8" width="2" height="2" fill="#6e7dff" fill-opacity="0.3"/>
<rect x="46.0" y="150.1" width="2" height="2" fill="#6e7dff" fill-opacity="0.3"/>
<rect x="100.5" y="109.7" width="2" height="2" fill="#6e7dff" fill-opacity="0.3"/>
<rect x="79.4" y="128.3" width="2" height="2" fill="#6e7dff" fill-opacity="0.3"/>
<rect x="89.9" y="118.1" width="2" height="2" fill="#6e7dff" fill-opacity="0.3"/>
<rect x="82.5" y="128.5" width="2" height="2" fill="#6e7dff" fill-opacity="0.3"/>
<rect x="106.6" y="114.5" width="2" height="2" fill="#6e7dff" fill-opacity="0.3"/>
<rect x="207.8" y="40.3" width="2" height="2" fill="#6e7dff" fill-opacity="0.3"/>
<rect x="243.7" y="6.6" width="2" height="2" fill="#6e7dff" fill-opacity="0.3"/>
<rect x="162.3" y="64.9" width="2" height="2" fill="#6e7dff" fill-opacity="0.3"/>
<rect x="105.8" y="112.1" width="2" height="2" fill="#6e7dff" fill-opacity="0.3"/>
<rect x="150.6" y="82.6" width="2" height="2" fill="#6e7dff" fill-opacity="0.3"/>
<rect x="128.9" y="94.5" width="2" height="2" fill="#6e7dff" fill-opacity="0.3"/>
<rect x="82.4" y="124.2" width="2" height="2" fill="#6e7dff" fill-opacity="0.3"/>
<rect x="227.1" y="17.8" width="2" height="2" fill="#6e7dff" fill-opacity="0.3"/>
<rect x="46.1" y="152.3" width="2" height="2" fill="#6e7dff" fill-opacity="0.3"/>
<rect x="83.3" y="123.9" width="2" height="2" fill="#6e7dff" fill-opacity="0.3"/>
<rect x="110.7" y="106.6" width="2" height="2" fill="#6e7dff" fill-opacity="0.3"/>
<rect x="129.4" y="95.5" width="2" height="2" fill="#6e7dff" fill-opacity="0.3"/>
<rect x="45.5" y="152.2" width="2" height="2" fill="#6e7dff" fill-opacity="0.3"/>
<rect x="45.7" y="152.0" width="2" height="2" fill="#6e7dff" fill-opacity="0.3"/>
<rect x="46.1" y="153.0" width="2" height="2" fill="#6e7dff" fill-opacity="0.3"/>
<rect x="47.3" y="147.7" width="2" height="2" fill="#6e7dff" fill-opacity="0.3"/>
<rect x="92.4" y="119.3" width="2" height="2" fill="#6e7dff" fill-opacity="0.3"/>
<rect x="238.3" y="11.9" width="2" height="2" fill="#6e7dff" fill-opacity="0.3"/>
<rect x="54.8" y="144.3" width="2" height="2" fill="#6e7dff" fill-opacity="0.3"/>
<rect x="78.7" y="132.2" width="2" height="2" fill="#6e7dff" fill-opacity="0.3"/>
<rect x="58.3" y="143.0" width="2" height="2" fill="#6e7dff" fill-opacity="0.3"/>
<rect x="85.2" y="125.1" width="2" height="2" fill="#6e7dff" fill-opacity="0.3"/>
</g>
<path d="M46,5.5H245.5V153.5H46Z" fill="none" stroke="#5a5a5a" stroke-width="1"/>
<line x1="65.95" y1="5.5" x2="65.95" y2="7.3" stroke="#5a5a5a" stroke-width="0.9"/>
<line x1="245.5" y1="20.30" x2="243.7" y2="20.30" stroke="#5a5a5a" stroke-width="0.9"/>
<line x1="85.90" y1="5.5" x2="85.90" y2="7.3" stroke="#5a5a5a" stroke-width="0.9"/>
<line x1="245.5" y1="35.10" x2="243.7" y2="35.10" stroke="#5a5a5a" stroke-width="0.9"/>
<line x1="105.85" y1="5.5" x2="105.85" y2="7.3" stroke="#5a5a5a" stroke-width="0.9"/>
<line x1="245.5" y1="49.90" x2="243.7" y2="49.90" stroke="#5a5a5a" stroke-width="0.9"/>
<line x1="125.80" y1="5.5" x2="125.80" y2="7.3" stroke="#5a5a5a" stroke-width="0.9"/>
<line x1="245.5" y1="64.70" x2="243.7" y2="64.70" stroke="#5a5a5a" stroke-width="0.9"/>
<line x1="145.75" y1="5.5" x2="145.75" y2="7.3" stroke="#5a5a5a" stroke-width="0.9"/>
<line x1="245.5" y1="79.50" x2="243.7" y2="79.50" stroke="#5a5a5a" stroke-width="0.9"/>
<line x1="165.70" y1="5.5" x2="165.70" y2="7.3" stroke="#5a5a5a" stroke-width="0.9"/>
<line x1="245.5" y1="94.30" x2="243.7" y2="94.30" stroke="#5a5a5a" stroke-width="0.9"/>
<line x1="185.65" y1="5.5" x2="185.65" y2="7.3" stroke="#5a5a5a" stroke-width="0.9"/>
<line x1="245.5" y1="109.10" x2="243.7" y2="109.10" stroke="#5a5a5a" stroke-width="0.9"/>
<line x1="205.60" y1="5.5" x2="205.60" y2="7.3" stroke="#5a5a5a" stroke-width="0.9"/>
<line x1="245.5" y1="123.90" x2="243.7" y2="123.90" stroke="#5a5a5a" stroke-width="0.9"/>
<line x1="225.55" y1="5.5" x2="225.55" y2="7.3" stroke="#5a5a5a" stroke-width="0.9"/>
<line x1="245.5" y1="138.70" x2="243.7" y2="138.70" stroke="#5a5a5a" stroke-width="0.9"/>
<line x1="46" y1="124.40" x2="43.8" y2="124.40" stroke="#5a5a5a" stroke-width="0.9"/>
<line x1="46" y1="89.40" x2="43.8" y2="89.40" stroke="#5a5a5a" stroke-width="0.9"/>
<line x1="46" y1="54.40" x2="43.8" y2="54.40" stroke="#5a5a5a" stroke-width="0.9"/>
<line x1="46" y1="19.40" x2="43.8" y2="19.40" stroke="#5a5a5a" stroke-width="0.9"/>
<line x1="46" y1="141.90" x2="44.8" y2="141.90" stroke="#5a5a5a" stroke-width="0.9"/>
<line x1="46" y1="106.90" x2="44.8" y2="106.90" stroke="#5a5a5a" stroke-width="0.9"/>
<line x1="46" y1="71.90" x2="44.8" y2="71.90" stroke="#5a5a5a" stroke-width="0.9"/>
<line x1="46" y1="36.90" x2="44.8" y2="36.90" stroke="#5a5a5a" stroke-width="0.9"/>
<line x1="84.60" y1="153.5" x2="84.60" y2="155.7" stroke="#5a5a5a" stroke-width="0.9"/>
<line x1="131.60" y1="153.5" x2="131.60" y2="155.7" stroke="#5a5a5a" stroke-width="0.9"/>
<line x1="178.60" y1="153.5" x2="178.60" y2="155.7" stroke="#5a5a5a" stroke-width="0.9"/>
<line x1="225.60" y1="153.5" x2="225.60" y2="155.7" stroke="#5a5a5a" stroke-width="0.9"/>
<line x1="61.10" y1="153.5" x2="61.10" y2="154.7" stroke="#5a5a5a" stroke-width="0.9"/>
<line x1="108.10" y1="153.5" x2="108.10" y2="154.7" stroke="#5a5a5a" stroke-width="0.9"/>
<line x1="155.10" y1="153.5" x2="155.10" y2="154.7" stroke="#5a5a5a" stroke-width="0.9"/>
<line x1="202.10" y1="153.5" x2="202.10" y2="154.7" stroke="#5a5a5a" stroke-width="0.9"/>
<text transform="translate(41.80,128.80) scale(1,1)" font-size="13" text-anchor="end">1</text>
<text transform="translate(84.60,168.20) scale(1,1)" font-size="13" text-anchor="middle">1</text>
<text transform="translate(41.80,93.80) scale(1,1)" font-size="13" text-anchor="end">2</text>
<text transform="translate(131.60,168.20) scale(1,1)" font-size="13" text-anchor="middle">2</text>
<text transform="translate(41.80,58.80) scale(1,1)" font-size="13" text-anchor="end">3</text>
<text transform="translate(178.60,168.20) scale(1,1)" font-size="13" text-anchor="middle">3</text>
<text transform="translate(41.80,23.80) scale(1,1)" font-size="13" text-anchor="end">4</text>
<text transform="translate(225.60,168.20) scale(1,1)" font-size="13" text-anchor="middle">4</text>
<text x="145.7" y="184.9" font-size="13" text-anchor="middle">I<tspan font-size="9" dy="4.8">0</tspan><tspan dy="-4.8"> simulations(mA)</tspan></text>
<text transform="translate(23.2,83.3) rotate(-90)" font-size="13" text-anchor="middle">I<tspan font-size="9" dy="4.8">0</tspan><tspan dy="-4.8"> predictions(mA)</tspan></text>
<text x="230.70" y="146.30" font-size="13" text-anchor="middle" >(a)</text>
<g clip-path="url(#cb)">
<rect x="421.1" y="95.0" width="2" height="2" fill="#6e7dff" fill-opacity="0.17"/>
<rect x="412.8" y="97.2" width="2" height="2" fill="#6e7dff" fill-opacity="0.17"/>
<rect x="391.7" y="115.2" width="2" height="2" fill="#6e7dff" fill-opacity="0.17"/>
<rect x="425.3" y="93.2" width="2" height="2" fill="#6e7dff" fill-opacity="0.17"/>
<rect x="510.0" y="30.9" width="2" height="2" fill="#6e7dff" fill-opacity="0.17"/>
<rect x="514.0" y="24.3" width="2" height="2" fill="#6e7dff" fill-opacity="0.17"/>
<rect x="530.9" y="11.9" width="2" height="2" fill="#6e7dff" fill-opacity="0.17"/>
<rect x="465.9" y="63.3" width="2" height="2" fill="#6e7dff" fill-opacity="0.17"/>
<rect x="480.5" y="51.2" width="2" height="2" fill="#6e7dff" fill-opacity="0.17"/>
<rect x="525.1" y="12.1" width="2" height="2" fill="#6e7dff" fill-opacity="0.17"/>
<rect x="462.7" y="64.4" width="2" height="2" fill="#6e7dff" fill-opacity="0.17"/>
<rect x="462.2" y="65.9" width="2" height="2" fill="#6e7dff" fill-opacity="0.17"/>
<rect x="376.9" y="126.2" width="2" height="2" fill="#6e7dff" fill-opacity="0.17"/>
<rect x="531.7" y="16.0" width="2" height="2" fill="#6e7dff" fill-opacity="0.17"/>
<rect x="399.1" y="110.2" width="2" height="2" fill="#6e7dff" fill-opacity="0.17"/>
<rect x="413.7" y="99.6" width="2" height="2" fill="#6e7dff" fill-opacity="0.17"/>
<rect x="485.9" y="46.1" width="2" height="2" fill="#6e7dff" fill-opacity="0.17"/>
<rect x="376.0" y="124.7" width="2" height="2" fill="#6e7dff" fill-opacity="0.17"/>
<rect x="410.2" y="100.4" width="2" height="2" fill="#6e7dff" fill-opacity="0.17"/>
<rect x="517.1" y="22.9" width="2" height="2" fill="#6e7dff" fill-opacity="0.17"/>
<rect x="347.3" y="150.8" width="2" height="2" fill="#6e7dff" fill-opacity="0.17"/>
<rect x="501.0" y="37.5" width="2" height="2" fill="#6e7dff" fill-opacity="0.17"/>
<rect x="408.8" y="105.7" width="2" height="2" fill="#6e7dff" fill-opacity="0.17"/>
<rect x="484.9" y="49.0" width="2" height="2" fill="#6e7dff" fill-opacity="0.17"/>
<rect x="481.7" y="50.8" width="2" height="2" fill="#6e7dff" fill-opacity="0.17"/>
<rect x="473.0" y="56.4" width="2" height="2" fill="#6e7dff" fill-opacity="0.17"/>
<rect x="443.1" y="84.4" width="2" height="2" fill="#6e7dff" fill-opacity="0.17"/>
<rect x="360.5" y="139.9" width="2" height="2" fill="#6e7dff" fill-opacity="0.17"/>
<rect x="488.9" y="45.7" width="2" height="2" fill="#6e7dff" fill-opacity="0.17"/>
<rect x="525.3" y="12.3" width="2" height="2" fill="#6e7dff" fill-opacity="0.17"/>
<rect x="386.1" y="121.8" width="2" height="2" fill="#6e7dff" fill-opacity="0.17"/>
<rect x="429.6" y="88.6" width="2" height="2" fill="#6e7dff" fill-opacity="0.17"/>
<rect x="366.0" y="137.1" width="2" height="2" fill="#6e7dff" fill-opacity="0.17"/>
<rect x="464.2" y="65.8" width="2" height="2" fill="#6e7dff" fill-opacity="0.17"/>
<rect x="388.9" y="116.9" width="2" height="2" fill="#6e7dff" fill-opacity="0.17"/>
<rect x="362.1" y="139.1" width="2" height="2" fill="#6e7dff" fill-opacity="0.17"/>
<rect x="452.3" y="73.7" width="2" height="2" fill="#6e7dff" fill-opacity="0.17"/>
<rect x="534.1" y="9.3" width="2" height="2" fill="#6e7dff" fill-opacity="0.17"/>
<rect x="444.8" y="74.1" width="2" height="2" fill="#6e7dff" fill-opacity="0.17"/>
<rect x="484.3" y="47.8" width="2" height="2" fill="#6e7dff" fill-opacity="0.17"/>
<rect x="349.9" y="147.2" width="2" height="2" fill="#6e7dff" fill-opacity="0.17"/>
<rect x="469.8" y="53.9" width="2" height="2" fill="#6e7dff" fill-opacity="0.17"/>
<rect x="499.1" y="37.9" width="2" height="2" fill="#6e7dff" fill-opacity="0.17"/>
<rect x="402.3" y="106.5" width="2" height="2" fill="#6e7dff" fill-opacity="0.17"/>
<rect x="438.2" y="78.9" width="2" height="2" fill="#6e7dff" fill-opacity="0.17"/>
<rect x="463.0" y="62.5" width="2" height="2" fill="#6e7dff" fill-opacity="0.17"/>
<rect x="362.7" y="138.3" width="2" height="2" fill="#6e7dff" fill-opacity="0.17"/>
<rect x="521.6" y="13.6" width="2" height="2" fill="#6e7dff" fill-opacity="0.17"/>
<rect x="381.4" y="122.8" width="2" height="2" fill="#6e7dff" fill-opacity="0.17"/>
<rect x="351.7" y="144.4" width="2" height="2" fill="#6e7dff" fill-opacity="0.17"/>
<rect x="491.8" y="41.7" width="2" height="2" fill="#6e7dff" fill-opacity="0.17"/>
<rect x="428.4" y="90.2" width="2" height="2" fill="#6e7dff" fill-opacity="0.17"/>
<rect x="470.9" y="52.1" width="2" height="2" fill="#6e7dff" fill-opacity="0.17"/>
<rect x="505.7" y="30.3" width="2" height="2" fill="#6e7dff" fill-opacity="0.17"/>
<rect x="374.2" y="129.3" width="2" height="2" fill="#6e7dff" fill-opacity="0.17"/>
<rect x="398.2" y="113.7" width="2" height="2" fill="#6e7dff" fill-opacity="0.17"/>
<rect x="509.8" y="27.6" width="2" height="2" fill="#6e7dff" fill-opacity="0.17"/>
<rect x="393.6" y="111.9" width="2" height="2" fill="#6e7dff" fill-opacity="0.17"/>
<rect x="418.9" y="94.4" width="2" height="2" fill="#6e7dff" fill-opacity="0.17"/>
<rect x="453.0" y="73.2" width="2" height="2" fill="#6e7dff" fill-opacity="0.17"/>
<rect x="533.2" y="10.6" width="2" height="2" fill="#6e7dff" fill-opacity="0.17"/>
<rect x="455.2" y="66.9" width="2" height="2" fill="#6e7dff" fill-opacity="0.17"/>
<rect x="363.0" y="135.2" width="2" height="2" fill="#6e7dff" fill-opacity="0.17"/>
<rect x="418.5" y="96.2" width="2" height="2" fill="#6e7dff" fill-opacity="0.17"/>
<rect x="416.7" y="94.8" width="2" height="2" fill="#6e7dff" fill-opacity="0.17"/>
<rect x="467.1" y="65.0" width="2" height="2" fill="#6e7dff" fill-opacity="0.17"/>
<rect x="366.8" y="135.6" width="2" height="2" fill="#6e7dff" fill-opacity="0.17"/>
<rect x="375.1" y="125.6" width="2" height="2" fill="#6e7dff" fill-opacity="0.17"/>
<rect x="510.7" y="26.1" width="2" height="2" fill="#6e7dff" fill-opacity="0.17"/>
<rect x="403.5" y="107.9" width="2" height="2" fill="#6e7dff" fill-opacity="0.17"/>
<rect x="377.4" y="126.2" width="2" height="2" fill="#6e7dff" fill-opacity="0.17"/>
<rect x="471.0" y="57.7" width="2" height="2" fill="#6e7dff" fill-opacity="0.17"/>
<rect x="347.8" y="146.9" width="2" height="2" fill="#6e7dff" fill-opacity="0.17"/>
<rect x="447.6" y="76.8" width="2" height="2" fill="#6e7dff" fill-opacity="0.17"/>
<rect x="353.3" y="142.5" width="2" height="2" fill="#6e7dff" fill-opacity="0.17"/>
<rect x="532.7" y="10.5" width="2" height="2" fill="#6e7dff" fill-opacity="0.17"/>
<rect x="451.1" y="71.0" width="2" height="2" fill="#6e7dff" fill-opacity="0.17"/>
<rect x="354.4" y="143.5" width="2" height="2" fill="#6e7dff" fill-opacity="0.17"/>
<rect x="341.2" y="153.1" width="2" height="2" fill="#6e7dff" fill-opacity="0.17"/>
<rect x="385.7" y="121.1" width="2" height="2" fill="#6e7dff" fill-opacity="0.17"/>
<rect x="465.0" y="62.1" width="2" height="2" fill="#6e7dff" fill-opacity="0.17"/>
<rect x="424.0" y="93.5" width="2" height="2" fill="#6e7dff" fill-opacity="0.17"/>
<rect x="388.9" y="119.3" width="2" height="2" fill="#6e7dff" fill-opacity="0.17"/>
<rect x="402.7" y="108.2" width="2" height="2" fill="#6e7dff" fill-opacity="0.17"/>
<rect x="381.2" y="123.7" width="2" height="2" fill="#6e7dff" fill-opacity="0.17"/>
<rect x="340.5" y="152.2" width="2" height="2" fill="#6e7dff" fill-opacity="0.17"/>
<rect x="393.0" y="115.9" width="2" height="2" fill="#6e7dff" fill-opacity="0.17"/>
<rect x="356.4" y="142.4" width="2" height="2" fill="#6e7dff" fill-opacity="0.17"/>
<rect x="502.8" y="36.8" width="2" height="2" fill="#6e7dff" fill-opacity="0.17"/>
<rect x="393.3" y="113.9" width="2" height="2" fill="#6e7dff" fill-opacity="0.17"/>
<rect x="511.6" y="26.8" width="2" height="2" fill="#6e7dff" fill-opacity="0.17"/>
<rect x="463.4" y="66.1" width="2" height="2" fill="#6e7dff" fill-opacity="0.17"/>
<rect x="470.3" y="60.2" width="2" height="2" fill="#6e7dff" fill-opacity="0.17"/>
<rect x="408.6" y="103.1" width="2" height="2" fill="#6e7dff" fill-opacity="0.17"/>
<rect x="431.4" y="88.9" width="2" height="2" fill="#6e7dff" fill-opacity="0.17"/>
<rect x="437.3" y="81.2" width="2" height="2" fill="#6e7dff" fill-opacity="0.17"/>
<rect x="490.6" y="40.9" width="2" height="2" fill="#6e7dff" fill-opacity="0.17"/>
<rect x="341.4" y="153.4" width="2" height="2" fill="#6e7dff" fill-opacity="0.17"/>
<rect x="391.2" y="112.5" width="2" height="2" fill="#6e7dff" fill-opacity="0.17"/>
<rect x="455.3" y="67.6" width="2" height="2" fill="#6e7dff" fill-opacity="0.17"/>
<rect x="388.2" y="116.7" width="2" height="2" fill="#6e7dff" fill-opacity="0.17"/>
<rect x="500.7" y="29.5" width="2" height="2" fill="#6e7dff" fill-opacity="0.17"/>
<rect x="468.5" y="60.3" width="2" height="2" fill="#6e7dff" fill-opacity="0.17"/>
<rect x="421.4" y="97.0" width="2" height="2" fill="#6e7dff" fill-opacity="0.17"/>
<rect x="410.0" y="106.1" width="2" height="2" fill="#6e7dff" fill-opacity="0.17"/>
<rect x="534.1" y="12.4" width="2" height="2" fill="#6e7dff" fill-opacity="0.17"/>
<rect x="518.1" y="21.5" width="2" height="2" fill="#6e7dff" fill-opacity="0.17"/>
<rect x="380.8" y="124.2" width="2" height="2" fill="#6e7dff" fill-opacity="0.17"/>
<rect x="529.7" y="17.2" width="2" height="2" fill="#6e7dff" fill-opacity="0.17"/>
<rect x="392.9" y="115.3" width="2" height="2" fill="#6e7dff" fill-opacity="0.17"/>
<rect x="506.2" y="39.9" width="2" height="2" fill="#6e7dff" fill-opacity="0.17"/>
<rect x="350.0" y="146.9" width="2" height="2" fill="#6e7dff" fill-opacity="0.17"/>
<rect x="534.6" y="8.1" width="2" height="2" fill="#6e7dff" fill-opacity="0.17"/>
<rect x="408.5" y="103.0" width="2" height="2" fill="#6e7dff" fill-opacity="0.17"/>
<rect x="459.3" y="63.1" width="2" height="2" fill="#6e7dff" fill-opacity="0.17"/>
<rect x="522.9" y="16.0" width="2" height="2" fill="#6e7dff" fill-opacity="0.17"/>
<rect x="417.6" y="96.2" width="2" height="2" fill="#6e7dff" fill-opacity="0.17"/>
<rect x="447.4" y="77.6" width="2" height="2" fill="#6e7dff" fill-opacity="0.17"/>
<rect x="367.1" y="137.3" width="2" height="2" fill="#6e7dff" fill-opacity="0.17"/>
<rect x="466.5" y="59.0" width="2" height="2" fill="#6e7dff" fill-opacity="0.17"/>
<rect x="375.2" y="129.9" width="2" height="2" fill="#6e7dff" fill-opacity="0.17"/>
<rect x="398.1" y="110.0" width="2" height="2" fill="#6e7dff" fill-opacity="0.17"/>
<rect x="446.5" y="75.3" width="2" height="2" fill="#6e7dff" fill-opacity="0.17"/>
<rect x="375.8" y="127.5" width="2" height="2" fill="#6e7dff" fill-opacity="0.17"/>
<rect x="462.8" y="62.7" width="2" height="2" fill="#6e7dff" fill-opacity="0.17"/>
<rect x="484.9" y="45.6" width="2" height="2" fill="#6e7dff" fill-opacity="0.17"/>
<rect x="397.5" y="108.7" width="2" height="2" fill="#6e7dff" fill-opacity="0.17"/>
<rect x="354.3" y="143.7" width="2" height="2" fill="#6e7dff" fill-opacity="0.17"/>
<rect x="458.7" y="66.4" width="2" height="2" fill="#6e7dff" fill-opacity="0.17"/>
<rect x="477.0" y="47.5" width="2" height="2" fill="#6e7dff" fill-opacity="0.17"/>
<rect x="484.2" y="46.5" width="2" height="2" fill="#6e7dff" fill-opacity="0.17"/>
<rect x="492.6" y="40.7" width="2" height="2" fill="#6e7dff" fill-opacity="0.17"/>
<rect x="361.2" y="137.9" width="2" height="2" fill="#6e7dff" fill-opacity="0.17"/>
<rect x="365.4" y="134.6" width="2" height="2" fill="#6e7dff" fill-opacity="0.17"/>
<rect x="425.3" y="88.8" width="2" height="2" fill="#6e7dff" fill-opacity="0.17"/>
<rect x="383.2" y="122.3" width="2" height="2" fill="#6e7dff" fill-opacity="0.17"/>
<rect x="499.0" y="34.6" width="2" height="2" fill="#6e7dff" fill-opacity="0.17"/>
<rect x="454.2" y="66.1" width="2" height="2" fill="#6e7dff" fill-opacity="0.17"/>
<rect x="522.0" y="15.4" width="2" height="2" fill="#6e7dff" fill-opacity="0.17"/>
<rect x="407.1" y="103.4" width="2" height="2" fill="#6e7dff" fill-opacity="0.17"/>
<rect x="498.0" y="37.0" width="2" height="2" fill="#6e7dff" fill-opacity="0.17"/>
<rect x="369.4" y="129.3" width="2" height="2" fill="#6e7dff" fill-opacity="0.17"/>
<rect x="429.6" y="85.8" width="2" height="2" fill="#6e7dff" fill-opacity="0.17"/>
<rect x="386.9" y="119.3" width="2" height="2" fill="#6e7dff" fill-opacity="0.17"/>
<rect x="518.2" y="22.6" width="2" height="2" fill="#6e7dff" fill-opacity="0.17"/>
<rect x="369.6" y="132.5" width="2" height="2" fill="#6e7dff" fill-opacity="0.17"/>
<rect x="379.0" y="125.8" width="2" height="2" fill="#6e7dff" fill-opacity="0.17"/>
<rect x="472.0" y="51.2" width="2" height="2" fill="#6e7dff" fill-opacity="0.17"/>
<rect x="531.6" y="14.3" width="2" height="2" fill="#6e7dff" fill-opacity="0.17"/>
<rect x="407.2" y="106.7" width="2" height="2" fill="#6e7dff" fill-opacity="0.17"/>
<rect x="475.5" y="54.5" width="2" height="2" fill="#6e7dff" fill-opacity="0.17"/>
<rect x="429.0" y="87.9" width="2" height="2" fill="#6e7dff" fill-opacity="0.17"/>
<rect x="407.4" y="104.6" width="2" height="2" fill="#6e7dff" fill-opacity="0.17"/>
<rect x="342.3" y="152.2" width="2" height="2" fill="#6e7dff" fill-opacity="0.17"/>
<rect x="532.3" y="13.6" width="2" height="2" fill="#6e7dff" fill-opacity="0.17"/>
<rect x="362.6" y="135.9" width="2" height="2" fill="#6e7dff" fill-opacity="0.17"/>
<rect x="449.5" y="71.5" width="2" height="2" fill="#6e7dff" fill-opacity="0.17"/>
<rect x="430.7" y="87.5" width="2" height="2" fill="#6e7dff" fill-opacity="0.17"/>
<rect x="430.5" y="86.5" width="2" height="2" fill="#6e7dff" fill-opacity="0.17"/>
<rect x="379.3" y="127.0" width="2" height="2" fill="#6e7dff" fill-opacity="0.17"/>
<rect x="370.2" y="131.6" width="2" height="2" fill="#6e7dff" fill-opacity="0.17"/>
<rect x="506.8" y="31.6" width="2" height="2" fill="#6e7dff" fill-opacity="0.17"/>
<rect x="343.1" y="150.8" width="2" height="2" fill="#6e7dff" fill-opacity="0.17"/>
<rect x="502.4" y="30.7" width="2" height="2" fill="#6e7dff" fill-opacity="0.17"/>
<rect x="455.1" y="68.8" width="2" height="2" fill="#6e7dff" fill-opacity="0.17"/>
<rect x="476.6" y="57.4" width="2" height="2" fill="#6e7dff" fill-opacity="0.17"/>
<rect x="346.0" y="148.9" width="2" height="2" fill="#6e7dff" fill-opacity="0.17"/>
<rect x="365.2" y="136.0" width="2" height="2" fill="#6e7dff" fill-opacity="0.17"/>
<rect x="343.8" y="147.9" width="2" height="2" fill="#6e7dff" fill-opacity="0.17"/>
<rect x="406.8" y="103.6" width="2" height="2" fill="#6e7dff" fill-opacity="0.17"/>
<rect x="351.8" y="142.1" width="2" height="2" fill="#6e7dff" fill-opacity="0.17"/>
<rect x="451.4" y="70.0" width="2" height="2" fill="#6e7dff" fill-opacity="0.17"/>
<rect x="517.9" y="20.8" width="2" height="2" fill="#6e7dff" fill-opacity="0.17"/>
<rect x="388.4" y="117.7" width="2" height="2" fill="#6e7dff" fill-opacity="0.17"/>
<rect x="370.4" y="130.4" width="2" height="2" fill="#6e7dff" fill-opacity="0.17"/>
<rect x="459.4" y="64.4" width="2" height="2" fill="#6e7dff" fill-opacity="0.17"/>
<rect x="366.2" y="133.3" width="2" height="2" fill="#6e7dff" fill-opacity="0.17"/>
<rect x="405.7" y="102.9" width="2" height="2" fill="#6e7dff" fill-opacity="0.17"/>
<rect x="362.9" y="138.7" width="2" height="2" fill="#6e7dff" fill-opacity="0.17"/>
<rect x="408.2" y="104.4" width="2" height="2" fill="#6e7dff" fill-opacity="0.17"/>
<rect x="425.4" y="87.6" width="2" height="2" fill="#6e7dff" fill-opacity="0.17"/>
<rect x="370.8" y="130.3" width="2" height="2" fill="#6e7dff" fill-opacity="0.17"/>
<rect x="397.9" y="106.7" width="2" height="2" fill="#6e7dff" fill-opacity="0.17"/>
<rect x="448.5" y="73.2" width="2" height="2" fill="#6e7dff" fill-opacity="0.17"/>
<rect x="409.0" y="107.6" width="2" height="2" fill="#6e7dff" fill-opacity="0.17"/>
<rect x="359.7" y="140.2" width="2" height="2" fill="#6e7dff" fill-opacity="0.17"/>
<rect x="407.3" y="104.6" width="2" height="2" fill="#6e7dff" fill-opacity="0.17"/>
<rect x="473.3" y="57.7" width="2" height="2" fill="#6e7dff" fill-opacity="0.17"/>
<rect x="516.2" y="21.1" width="2" height="2" fill="#6e7dff" fill-opacity="0.17"/>
<rect x="389.6" y="116.7" width="2" height="2" fill="#6e7dff" fill-opacity="0.17"/>
<rect x="482.5" y="47.5" width="2" height="2" fill="#6e7dff" fill-opacity="0.17"/>
<rect x="519.7" y="25.6" width="2" height="2" fill="#6e7dff" fill-opacity="0.17"/>
<rect x="369.4" y="134.7" width="2" height="2" fill="#6e7dff" fill-opacity="0.17"/>
<rect x="485.7" y="42.7" width="2" height="2" fill="#6e7dff" fill-opacity="0.17"/>
<rect x="356.3" y="139.0" width="2" height="2" fill="#6e7dff" fill-opacity="0.17"/>
<rect x="507.1" y="30.9" width="2" height="2" fill="#6e7dff" fill-opacity="0.17"/>
<rect x="403.1" y="111.2" width="2" height="2" fill="#6e7dff" fill-opacity="0.17"/>
<rect x="514.0" y="29.9" width="2" height="2" fill="#6e7dff" fill-opacity="0.17"/>
<rect x="446.4" y="68.2" width="2" height="2" fill="#6e7dff" fill-opacity="0.17"/>
<rect x="501.4" y="41.4" width="2" height="2" fill="#6e7dff" fill-opacity="0.17"/>
<rect x="462.7" y="61.7" width="2" height="2" fill="#6e7dff" fill-opacity="0.17"/>
<rect x="411.3" y="101.4" width="2" height="2" fill="#6e7dff" fill-opacity="0.17"/>
<rect x="443.7" y="74.3" width="2" height="2" fill="#6e7dff" fill-opacity="0.17"/>
<rect x="347.7" y="146.0" width="2" height="2" fill="#6e7dff" fill-opacity="0.17"/>
<rect x="457.0" y="67.7" width="2" height="2" fill="#6e7dff" fill-opacity="0.17"/>
<rect x="452.5" y="68.4" width="2" height="2" fill="#6e7dff" fill-opacity="0.17"/>
<rect x="370.5" y="134.5" width="2" height="2" fill="#6e7dff" fill-opacity="0.17"/>
<rect x="533.2" y="8.9" width="2" height="2" fill="#6e7dff" fill-opacity="0.17"/>
<rect x="383.8" y="123.3" width="2" height="2" fill="#6e7dff" fill-opacity="0.17"/>
<rect x="370.2" y="129.4" width="2" height="2" fill="#6e7dff" fill-opacity="0.17"/>
<rect x="503.5" y="31.7" width="2" height="2" fill="#6e7dff" fill-opacity="0.17"/>
<rect x="398.6" y="108.0" width="2" height="2" fill="#6e7dff" fill-opacity="0.17"/>
<rect x="338.5" y="154.7" width="2" height="2" fill="#6e7dff" fill-opacity="0.17"/>
<rect x="396.4" y="112.0" width="2" height="2" fill="#6e7dff" fill-opacity="0.17"/>
<rect x="386.2" y="116.9" width="2" height="2" fill="#6e7dff" fill-opacity="0.17"/>
<rect x="348.2" y="147.8" width="2" height="2" fill="#6e7dff" fill-opacity="0.17"/>
<rect x="475.3" y="53.4" width="2" height="2" fill="#6e7dff" fill-opacity="0.17"/>
<rect x="476.6" y="49.7" width="2" height="2" fill="#6e7dff" fill-opacity="0.17"/>
<rect x="505.1" y="28.9" width="2" height="2" fill="#6e7dff" fill-opacity="0.17"/>
<rect x="394.4" y="114.4" width="2" height="2" fill="#6e7dff" fill-opacity="0.17"/>
<rect x="410.0" y="103.3" width="2" height="2" fill="#6e7dff" fill-opacity="0.17"/>
<rect x="423.1" y="88.9" width="2" height="2" fill="#6e7dff" fill-opacity="0.17"/>
<rect x="468.9" y="55.8" width="2" height="2" fill="#6e7dff" fill-opacity="0.17"/>
<rect x="528.8" y="9.7" width="2" height="2" fill="#6e7dff" fill-opacity="0.17"/>
<rect x="372.6" y="130.4" width="2" height="2" fill="#6e7dff" fill-opacity="0.17"/>
<rect x="343.4" y="151.8" width="2" height="2" fill="#6e7dff" fill-opacity="0.17"/>
<rect x="413.3" y="98.1" width="2" height="2" fill="#6e7dff" fill-opacity="0.17"/>
<rect x="445.4" y="72.3" width="2" height="2" fill="#6e7dff" fill-opacity="0.17"/>
<rect x="466.6" y="59.3" width="2" height="2" fill="#6e7dff" fill-opacity="0.17"/>
<rect x="353.8" y="143.6" width="2" height="2" fill="#6e7dff" fill-opacity="0.17"/>
<rect x="343.5" y="153.9" width="2" height="2" fill="#6e7dff" fill-opacity="0.17"/>
<rect x="468.5" y="57.5" width="2" height="2" fill="#6e7dff" fill-opacity="0.17"/>
<rect x="440.4" y="78.2" width="2" height="2" fill="#6e7dff" fill-opacity="0.17"/>
<rect x="356.4" y="142.9" width="2" height="2" fill="#6e7dff" fill-opacity="0.17"/>
<rect x="459.7" y="63.4" width="2" height="2" fill="#6e7dff" fill-opacity="0.17"/>
<rect x="342.6" y="151.7" width="2" height="2" fill="#6e7dff" fill-opacity="0.17"/>
<rect x="365.0" y="133.3" width="2" height="2" fill="#6e7dff" fill-opacity="0.17"/>
<rect x="359.0" y="138.9" width="2" height="2" fill="#6e7dff" fill-opacity="0.17"/>
<rect x="451.8" y="70.1" width="2" height="2" fill="#6e7dff" fill-opacity="0.17"/>
<rect x="357.7" y="142.1" width="2" height="2" fill="#6e7dff" fill-opacity="0.17"/>
<rect x="465.9" y="61.4" width="2" height="2" fill="#6e7dff" fill-opacity="0.17"/>
<rect x="441.6" y="83.6" width="2" height="2" fill="#6e7dff" fill-opacity="0.17"/>
<rect x="447.4" y="72.0" width="2" height="2" fill="#6e7dff" fill-opacity="0.17"/>
<rect x="530.6" y="16.5" width="2" height="2" fill="#6e7dff" fill-opacity="0.17"/>
<rect x="388.5" y="117.5" width="2" height="2" fill="#6e7dff" fill-opacity="0.17"/>
<rect x="424.2" y="94.6" width="2" height="2" fill="#6e7dff" fill-opacity="0.17"/>
<rect x="339.8" y="155.1" width="2" height="2" fill="#6e7dff" fill-opacity="0.17"/>
<rect x="451.4" y="71.1" width="2" height="2" fill="#6e7dff" fill-opacity="0.17"/>
<rect x="432.5" y="86.2" width="2" height="2" fill="#6e7dff" fill-opacity="0.17"/>
<rect x="359.6" y="139.3" width="2" height="2" fill="#6e7dff" fill-opacity="0.17"/>
<rect x="452.5" y="73.7" width="2" height="2" fill="#6e7dff" fill-opacity="0.17"/>
<rect x="491.5" y="49.7" width="2" height="2" fill="#6e7dff" fill-opacity="0.17"/>
<rect x="389.1" y="119.7" width="2" height="2" fill="#6e7dff" fill-opacity="0.17"/>
<rect x="493.9" y="39.1" width="2" height="2" fill="#6e7dff" fill-opacity="0.17"/>
<rect x="409.5" y="100.3" width="2" height="2" fill="#6e7dff" fill-opacity="0.17"/>
<rect x="410.1" y="103.1" width="2" height="2" fill="#6e7dff" fill-opacity="0.17"/>
<rect x="426.5" y="95.4" width="2" height="2" fill="#6e7dff" fill-opacity="0.17"/>
<rect x="345.2" y="145.1" width="2" height="2" fill="#6e7dff" fill-opacity="0.17"/>
<rect x="410.5" y="98.9" width="2" height="2" fill="#6e7dff" fill-opacity="0.17"/>
<rect x="363.1" y="135.5" width="2" height="2" fill="#6e7dff" fill-opacity="0.17"/>
<rect x="362.8" y="138.9" width="2" height="2" fill="#6e7dff" fill-opacity="0.17"/>
<rect x="485.3" y="44.6" width="2" height="2" fill="#6e7dff" fill-opacity="0.17"/>
<rect x="419.4" y="95.6" width="2" height="2" fill="#6e7dff" fill-opacity="0.17"/>
<rect x="511.9" y="23.9" width="2" height="2" fill="#6e7dff" fill-opacity="0.17"/>
<rect x="374.5" y="124.5" width="2" height="2" fill="#6e7dff" fill-opacity="0.17"/>
<rect x="427.2" y="89.0" width="2" height="2" fill="#6e7dff" fill-opacity="0.17"/>
<rect x="359.8" y="136.8" width="2" height="2" fill="#6e7dff" fill-opacity="0.17"/>
<rect x="482.2" y="44.2" width="2" height="2" fill="#6e7dff" fill-opacity="0.17"/>
<rect x="348.1" y="148.3" width="2" height="2" fill="#6e7dff" fill-opacity="0.17"/>
<rect x="419.7" y="96.2" width="2" height="2" fill="#6e7dff" fill-opacity="0.17"/>
<rect x="452.1" y="65.3" width="2" height="2" fill="#6e7dff" fill-opacity="0.17"/>
<rect x="397.8" y="109.5" width="2" height="2" fill="#6e7dff" fill-opacity="0.17"/>
<rect x="361.9" y="137.4" width="2" height="2" fill="#6e7dff" fill-opacity="0.17"/>
<rect x="343.7" y="151.7" width="2" height="2" fill="#6e7dff" fill-opacity="0.17"/>
<rect x="461.9" y="69.1" width="2" height="2" fill="#6e7dff" fill-opacity="0.17"/>
<rect x="491.0" y="41.0" width="2" height="2" fill="#6e7dff" fill-opacity="0.17"/>
<rect x="373.3" y="126.8" width="2" height="2" fill="#6e7dff" fill-opacity="0.17"/>
<rect x="424.6" y="90.3" width="2" height="2" fill="#6e7dff" fill-opacity="0.17"/>
<rect x="391.2" y="114.8" width="2" height="2" fill="#6e7dff" fill-opacity="0.17"/>
<rect x="460.0" y="65.9" width="2" height="2" fill="#6e7dff" fill-opacity="0.17"/>
<rect x="349.6" y="143.2" width="2" height="2" fill="#6e7dff" fill-opacity="0.17"/>
<rect x="454.8" y="71.7" width="2" height="2" fill="#6e7dff" fill-opacity="0.17"/>
<rect x="394.9" y="113.9" width="2" height="2" fill="#6e7dff" fill-opacity="0.17"/>
<rect x="491.9" y="47.5" width="2" height="2" fill="#6e7dff" fill-opacity="0.17"/>
<rect x="344.3" y="151.4" width="2" height="2" fill="#6e7dff" fill-opacity="0.17"/>
<rect x="440.1" y="79.8" width="2" height="2" fill="#6e7dff" fill-opacity="0.17"/>
<rect x="525.2" y="15.3" width="2" height="2" fill="#6e7dff" fill-opacity="0.17"/>
<rect x="441.2" y="80.3" width="2" height="2" fill="#6e7dff" fill-opacity="0.17"/>
<rect x="394.4" y="112.0" width="2" height="2" fill="#6e7dff" fill-opacity="0.17"/>
<rect x="484.4" y="43.0" width="2" height="2" fill="#6e7dff" fill-opacity="0.17"/>
<rect x="398.1" y="113.5" width="2" height="2" fill="#6e7dff" fill-opacity="0.17"/>
<rect x="477.7" y="50.0" width="2" height="2" fill="#6e7dff" fill-opacity="0.17"/>
<rect x="423.2" y="91.5" width="2" height="2" fill="#6e7dff" fill-opacity="0.17"/>
<rect x="366.5" y="133.7" width="2" height="2" fill="#6e7dff" fill-opacity="0.17"/>
<rect x="498.6" y="40.7" width="2" height="2" fill="#6e7dff" fill-opacity="0.17"/>
<rect x="403.5" y="106.7" width="2" height="2" fill="#6e7dff" fill-opacity="0.17"/>
<rect x="404.4" y="103.6" width="2" height="2" fill="#6e7dff" fill-opacity="0.17"/>
<rect x="452.2" y="64.8" width="2" height="2" fill="#6e7dff" fill-opacity="0.17"/>
<rect x="359.1" y="140.3" width="2" height="2" fill="#6e7dff" fill-opacity="0.17"/>
<rect x="453.8" y="72.8" width="2" height="2" fill="#6e7dff" fill-opacity="0.17"/>
<rect x="486.6" y="49.8" width="2" height="2" fill="#6e7dff" fill-opacity="0.17"/>
<rect x="529.4" y="17.8" width="2" height="2" fill="#6e7dff" fill-opacity="0.17"/>
<rect x="411.9" y="101.9" width="2" height="2" fill="#6e7dff" fill-opacity="0.17"/>
<rect x="412.6" y="101.7" width="2" height="2" fill="#6e7dff" fill-opacity="0.17"/>
<rect x="403.9" y="107.7" width="2" height="2" fill="#6e7dff" fill-opacity="0.17"/>
<rect x="401.1" y="110.1" width="2" height="2" fill="#6e7dff" fill-opacity="0.17"/>
<rect x="503.0" y="31.9" width="2" height="2" fill="#6e7dff" fill-opacity="0.17"/>
<rect x="502.3" y="38.0" width="2" height="2" fill="#6e7dff" fill-opacity="0.17"/>
<rect x="407.8" y="104.6" width="2" height="2" fill="#6e7dff" fill-opacity="0.17"/>
<rect x="393.9" y="115.0" width="2" height="2" fill="#6e7dff" fill-opacity="0.17"/>
<rect x="354.2" y="142.1" width="2" height="2" fill="#6e7dff" fill-opacity="0.17"/>
<rect x="391.5" y="119.9" width="2" height="2" fill="#6e7dff" fill-opacity="0.17"/>
<rect x="406.3" y="103.9" width="2" height="2" fill="#6e7dff" fill-opacity="0.17"/>
<rect x="459.0" y="64.8" width="2" height="2" fill="#6e7dff" fill-opacity="0.17"/>
<rect x="512.7" y="24.1" width="2" height="2" fill="#6e7dff" fill-opacity="0.17"/>
<rect x="484.3" y="46.0" width="2" height="2" fill="#6e7dff" fill-opacity="0.17"/>
<rect x="376.9" y="125.3" width="2" height="2" fill="#6e7dff" fill-opacity="0.17"/>
<rect x="425.2" y="92.2" width="2" height="2" fill="#6e7dff" fill-opacity="0.17"/>
<rect x="372.4" y="130.3" width="2" height="2" fill="#6e7dff" fill-opacity="0.17"/>
<rect x="386.8" y="117.2" width="2" height="2" fill="#6e7dff" fill-opacity="0.17"/>
<rect x="478.0" y="47.9" width="2" height="2" fill="#6e7dff" fill-opacity="0.17"/>
<rect x="493.6" y="39.5" width="2" height="2" fill="#6e7dff" fill-opacity="0.17"/>
<rect x="396.0" y="112.0" width="2" height="2" fill="#6e7dff" fill-opacity="0.17"/>
<rect x="350.3" y="145.4" width="2" height="2" fill="#6e7dff" fill-opacity="0.17"/>
<rect x="491.3" y="42.3" width="2" height="2" fill="#6e7dff" fill-opacity="0.17"/>
<rect x="421.2" y="94.0" width="2" height="2" fill="#6e7dff" fill-opacity="0.17"/>
<rect x="450.8" y="72.1" width="2" height="2" fill="#6e7dff" fill-opacity="0.17"/>
<rect x="414.7" y="98.0" width="2" height="2" fill="#6e7dff" fill-opacity="0.17"/>
<rect x="401.4" y="106.5" width="2" height="2" fill="#6e7dff" fill-opacity="0.17"/>
<rect x="519.3" y="21.8" width="2" height="2" fill="#6e7dff" fill-opacity="0.17"/>
<rect x="507.5" y="31.3" width="2" height="2" fill="#6e7dff" fill-opacity="0.17"/>
<rect x="494.7" y="40.1" width="2" height="2" fill="#6e7dff" fill-opacity="0.17"/>
<rect x="352.4" y="145.2" width="2" height="2" fill="#6e7dff" fill-opacity="0.17"/>
<rect x="352.8" y="144.5" width="2" height="2" fill="#6e7dff" fill-opacity="0.17"/>
<rect x="412.6" y="96.4" width="2" height="2" fill="#6e7dff" fill-opacity="0.17"/>
<rect x="446.5" y="68.7" width="2" height="2" fill="#6e7dff" fill-opacity="0.17"/>
<rect x="513.8" y="20.4" width="2" height="2" fill="#6e7dff" fill-opacity="0.17"/>
<rect x="460.6" y="65.8" width="2" height="2" fill="#6e7dff" fill-opacity="0.17"/>
<rect x="425.1" y="90.2" width="2" height="2" fill="#6e7dff" fill-opacity="0.17"/>
<rect x="364.4" y="138.2" width="2" height="2" fill="#6e7dff" fill-opacity="0.17"/>
<rect x="436.7" y="84.7" width="2" height="2" fill="#6e7dff" fill-opacity="0.17"/>
<rect x="474.7" y="52.5" width="2" height="2" fill="#6e7dff" fill-opacity="0.17"/>
<rect x="469.6" y="62.2" width="2" height="2" fill="#6e7dff" fill-opacity="0.17"/>
<rect x="498.4" y="38.8" width="2" height="2" fill="#6e7dff" fill-opacity="0.17"/>
<rect x="352.8" y="144.0" width="2" height="2" fill="#6e7dff" fill-opacity="0.17"/>
<rect x="364.8" y="135.0" width="2" height="2" fill="#6e7dff" fill-opacity="0.17"/>
<rect x="527.1" y="16.7" width="2" height="2" fill="#6e7dff" fill-opacity="0.17"/>
<rect x="423.6" y="89.7" width="2" height="2" fill="#6e7dff" fill-opacity="0.17"/>
<rect x="443.8" y="77.8" width="2" height="2" fill="#6e7dff" fill-opacity="0.17"/>
<rect x="397.1" y="108.1" width="2" height="2" fill="#6e7dff" fill-opacity="0.17"/>
<rect x="502.7" y="33.4" width="2" height="2" fill="#6e7dff" fill-opacity="0.17"/>
<rect x="440.3" y="79.7" width="2" height="2" fill="#6e7dff" fill-opacity="0.17"/>
<rect x="352.9" y="143.7" width="2" height="2" fill="#6e7dff" fill-opacity="0.17"/>
<rect x="384.7" y="121.2" width="2" height="2" fill="#6e7dff" fill-opacity="0.17"/>
<rect x="486.4" y="49.0" width="2" height="2" fill="#6e7dff" fill-opacity="0.17"/>
<rect x="413.1" y="101.4" width="2" height="2" fill="#6e7dff" fill-opacity="0.17"/>
<rect x="434.8" y="82.9" width="2" height="2" fill="#6e7dff" fill-opacity="0.17"/>
<rect x="382.8" y="120.1" width="2" height="2" fill="#6e7dff" fill-opacity="0.17"/>
<rect x="466.8" y="58.9" width="2" height="2" fill="#6e7dff" fill-opacity="0.17"/>
<rect x="371.6" y="129.8" width="2" height="2" fill="#6e7dff" fill-opacity="0.17"/>
<rect x="437.3" y="82.0" width="2" height="2" fill="#6e7dff" fill-opacity="0.17"/>
<rect x="533.2" y="11.0" width="2" height="2" fill="#6e7dff" fill-opacity="0.17"/>
<rect x="500.6" y="36.3" width="2" height="2" fill="#6e7dff" fill-opacity="0.17"/>
<rect x="498.5" y="35.4" width="2" height="2" fill="#6e7dff" fill-opacity="0.17"/>
<rect x="531.0" y="10.2" width="2" height="2" fill="#6e7dff" fill-opacity="0.17"/>
<rect x="496.8" y="33.5" width="2" height="2" fill="#6e7dff" fill-opacity="0.17"/>
<rect x="522.4" y="18.5" width="2" height="2" fill="#6e7dff" fill-opacity="0.17"/>
<rect x="365.6" y="134.0" width="2" height="2" fill="#6e7dff" fill-opacity="0.17"/>
<rect x="377.9" y="122.5" width="2" height="2" fill="#6e7dff" fill-opacity="0.17"/>
<rect x="425.3" y="93.6" width="2" height="2" fill="#6e7dff" fill-opacity="0.17"/>
<rect x="358.9" y="140.5" width="2" height="2" fill="#6e7dff" fill-opacity="0.17"/>
<rect x="461.1" y="62.7" width="2" height="2" fill="#6e7dff" fill-opacity="0.17"/>
<rect x="476.1" y="52.7" width="2" height="2" fill="#6e7dff" fill-opacity="0.17"/>
<rect x="421.9" y="95.6" width="2" height="2" fill="#6e7dff" fill-opacity="0.17"/>
<rect x="424.1" y="93.3" width="2" height="2" fill="#6e7dff" fill-opacity="0.17"/>
<rect x="468.8" y="56.4" width="2" height="2" fill="#6e7dff" fill-opacity="0.17"/>
<rect x="474.3" y="56.1" width="2" height="2" fill="#6e7dff" fill-opacity="0.17"/>
<rect x="362.1" y="135.5" width="2" height="2" fill="#6e7dff" fill-opacity="0.17"/>
<rect x="345.0" y="151.2" width="2" height="2" fill="#6e7dff" fill-opacity="0.17"/>
<rect x="343.0" y="150.6" width="2" height="2" fill="#6e7dff" fill-opacity="0.17"/>
<rect x="350.6" y="149.3" width="2" height="2" fill="#6e7dff" fill-opacity="0.17"/>
<rect x="501.0" y="31.6" width="2" height="2" fill="#6e7dff" fill-opacity="0.17"/>
<rect x="342.6" y="152.4" width="2" height="2" fill="#6e7dff" fill-opacity="0.17"/>
<rect x="393.1" y="112.8" width="2" height="2" fill="#6e7dff" fill-opacity="0.17"/>
<rect x="360.6" y="141.2" width="2" height="2" fill="#6e7dff" fill-opacity="0.17"/>
<rect x="406.9" y="106.4" width="2" height="2" fill="#6e7dff" fill-opacity="0.17"/>
<rect x="367.7" y="133.0" width="2" height="2" fill="#6e7dff" fill-opacity="0.17"/>
<rect x="485.7" y="45.8" width="2" height="2" fill="#6e7dff" fill-opacity="0.17"/>
<rect x="377.8" y="126.3" width="2" height="2" fill="#6e7dff" fill-opacity="0.17"/>
<rect x="351.3" y="148.2" width="2" height="2" fill="#6e7dff" fill-opacity="0.17"/>
<rect x="370.0" y="132.8" width="2" height="2" fill="#6e7dff" fill-opacity="0.17"/>
<rect x="479.6" y="46.2" width="2" height="2" fill="#6e7dff" fill-opacity="0.17"/>
<rect x="391.5" y="117.4" width="2" height="2" fill="#6e7dff" fill-opacity="0.17"/>
<rect x="424.9" y="90.4" width="2" height="2" fill="#6e7dff" fill-opacity="0.17"/>
<rect x="491.7" y="42.0" width="2" height="2" fill="#6e7dff" fill-opacity="0.17"/>
<rect x="518.7" y="16.1" width="2" height="2" fill="#6e7dff" fill-opacity="0.17"/>
<rect x="451.3" y="65.8" width="2" height="2" fill="#6e7dff" fill-opacity="0.17"/>
<rect x="366.8" y="135.0" width="2" height="2" fill="#6e7dff" fill-opacity="0.17"/>
<rect x="534.2" y="8.4" width="2" height="2" fill="#6e7dff" fill-opacity="0.17"/>
<rect x="357.8" y="137.7" width="2" height="2" fill="#6e7dff" fill-opacity="0.17"/>
<rect x="391.5" y="119.2" width="2" height="2" fill="#6e7dff" fill-opacity="0.17"/>
<rect x="467.9" y="57.5" width="2" height="2" fill="#6e7dff" fill-opacity="0.17"/>
<rect x="372.8" y="126.7" width="2" height="2" fill="#6e7dff" fill-opacity="0.17"/>
<rect x="432.6" y="88.1" width="2" height="2" fill="#6e7dff" fill-opacity="0.17"/>
<rect x="345.8" y="149.7" width="2" height="2" fill="#6e7dff" fill-opacity="0.17"/>
<rect x="414.3" y="97.1" width="2" height="2" fill="#6e7dff" fill-opacity="0.17"/>
<rect x="523.6" y="22.8" width="2" height="2" fill="#6e7dff" fill-opacity="0.17"/>
<rect x="349.2" y="148.6" width="2" height="2" fill="#6e7dff" fill-opacity="0.17"/>
<rect x="380.6" y="124.0" width="2" height="2" fill="#6e7dff" fill-opacity="0.17"/>
<rect x="377.2" y="127.9" width="2" height="2" fill="#6e7dff" fill-opacity="0.17"/>
<rect x="347.9" y="146.4" width="2" height="2" fill="#6e7dff" fill-opacity="0.17"/>
<rect x="440.0" y="79.0" width="2" height="2" fill="#6e7dff" fill-opacity="0.17"/>
<rect x="410.5" y="103.2" width="2" height="2" fill="#6e7dff" fill-opacity="0.17"/>
<rect x="340.6" y="153.8" width="2" height="2" fill="#6e7dff" fill-opacity="0.17"/>
<rect x="466.5" y="61.8" width="2" height="2" fill="#6e7dff" fill-opacity="0.17"/>
<rect x="406.1" y="102.8" width="2" height="2" fill="#6e7dff" fill-opacity="0.17"/>
<rect x="385.2" y="118.8" width="2" height="2" fill="#6e7dff" fill-opacity="0.17"/>
<rect x="390.6" y="115.8" width="2" height="2" fill="#6e7dff" fill-opacity="0.17"/>
<rect x="356.7" y="139.5" width="2" height="2" fill="#6e7dff" fill-opacity="0.17"/>
<rect x="341.0" y="152.7" width="2" height="2" fill="#6e7dff" fill-opacity="0.17"/>
<rect x="509.9" y="30.3" width="2" height="2" fill="#6e7dff" fill-opacity="0.17"/>
<rect x="435.8" y="81.0" width="2" height="2" fill="#6e7dff" fill-opacity="0.17"/>
<rect x="341.7" y="150.4" width="2" height="2" fill="#6e7dff" fill-opacity="0.17"/>
<rect x="442.1" y="75.8" width="2" height="2" fill="#6e7dff" fill-opacity="0.17"/>
<rect x="429.2" y="89.9" width="2" height="2" fill="#6e7dff" fill-opacity="0.17"/>
<rect x="431.2" y="83.1" width="2" height="2" fill="#6e7dff" fill-opacity="0.17"/>
<rect x="491.4" y="38.8" width="2" height="2" fill="#6e7dff" fill-opacity="0.17"/>
<rect x="477.3" y="57.2" width="2" height="2" fill="#6e7dff" fill-opacity="0.17"/>
<rect x="466.4" y="63.4" width="2" height="2" fill="#6e7dff" fill-opacity="0.17"/>
<rect x="446.8" y="74.1" width="2" height="2" fill="#6e7dff" fill-opacity="0.17"/>
<rect x="435.7" y="81.0" width="2" height="2" fill="#6e7dff" fill-opacity="0.17"/>
<rect x="346.1" y="152.0" width="2" height="2" fill="#6e7dff" fill-opacity="0.17"/>
<rect x="482.9" y="50.9" width="2" height="2" fill="#6e7dff" fill-opacity="0.17"/>
<rect x="516.2" y="26.3" width="2" height="2" fill="#6e7dff" fill-opacity="0.17"/>
<rect x="345.7" y="151.0" width="2" height="2" fill="#6e7dff" fill-opacity="0.17"/>
<rect x="524.8" y="16.6" width="2" height="2" fill="#6e7dff" fill-opacity="0.17"/>
<rect x="365.6" y="135.7" width="2" height="2" fill="#6e7dff" fill-opacity="0.17"/>
<rect x="483.2" y="48.5" width="2" height="2" fill="#6e7dff" fill-opacity="0.17"/>
<rect x="428.4" y="88.6" width="2" height="2" fill="#6e7dff" fill-opacity="0.17"/>
<rect x="510.8" y="30.0" width="2" height="2" fill="#6e7dff" fill-opacity="0.17"/>
<rect x="339.3" y="153.9" width="2" height="2" fill="#6e7dff" fill-opacity="0.17"/>
<rect x="509.9" y="23.4" width="2" height="2" fill="#6e7dff" fill-opacity="0.17"/>
<rect x="488.2" y="44.4" width="2" height="2" fill="#6e7dff" fill-opacity="0.17"/>
<rect x="473.9" y="53.7" width="2" height="2" fill="#6e7dff" fill-opacity="0.17"/>
<rect x="478.5" y="45.5" width="2" height="2" fill="#6e7dff" fill-opacity="0.17"/>
<rect x="436.3" y="80.6" width="2" height="2" fill="#6e7dff" fill-opacity="0.17"/>
<rect x="343.1" y="152.8" width="2" height="2" fill="#6e7dff" fill-opacity="0.17"/>
<rect x="354.9" y="142.6" width="2" height="2" fill="#6e7dff" fill-opacity="0.17"/>
<rect x="511.2" y="25.7" width="2" height="2" fill="#6e7dff" fill-opacity="0.17"/>
<rect x="419.6" y="95.3" width="2" height="2" fill="#6e7dff" fill-opacity="0.17"/>
<rect x="385.9" y="120.3" width="2" height="2" fill="#6e7dff" fill-opacity="0.17"/>
<rect x="397.5" y="112.1" width="2" height="2" fill="#6e7dff" fill-opacity="0.17"/>
<rect x="412.6" y="102.3" width="2" height="2" fill="#6e7dff" fill-opacity="0.17"/>
<rect x="450.3" y="71.8" width="2" height="2" fill="#6e7dff" fill-opacity="0.17"/>
<rect x="523.1" y="12.2" width="2" height="2" fill="#6e7dff" fill-opacity="0.17"/>
<rect x="499.2" y="38.7" width="2" height="2" fill="#6e7dff" fill-opacity="0.17"/>
<rect x="377.4" y="126.1" width="2" height="2" fill="#6e7dff" fill-opacity="0.17"/>
<rect x="460.1" y="62.2" width="2" height="2" fill="#6e7dff" fill-opacity="0.17"/>
<rect x="452.4" y="75.2" width="2" height="2" fill="#6e7dff" fill-opacity="0.17"/>
<rect x="393.4" y="109.4" width="2" height="2" fill="#6e7dff" fill-opacity="0.17"/>
<rect x="341.0" y="152.1" width="2" height="2" fill="#6e7dff" fill-opacity="0.17"/>
<rect x="478.4" y="50.5" width="2" height="2" fill="#6e7dff" fill-opacity="0.17"/>
<rect x="501.7" y="32.1" width="2" height="2" fill="#6e7dff" fill-opacity="0.17"/>
<rect x="380.0" y="123.8" width="2" height="2" fill="#6e7dff" fill-opacity="0.17"/>
<rect x="490.2" y="41.0" width="2" height="2" fill="#6e7dff" fill-opacity="0.17"/>
<rect x="354.5" y="143.8" width="2" height="2" fill="#6e7dff" fill-opacity="0.17"/>
<rect x="528.8" y="9.2" width="2" height="2" fill="#6e7dff" fill-opacity="0.17"/>
<rect x="425.1" y="91.5" width="2" height="2" fill="#6e7dff" fill-opacity="0.17"/>
<rect x="481.7" y="48.6" width="2" height="2" fill="#6e7dff" fill-opacity="0.17"/>
<rect x="385.5" y="122.4" width="2" height="2" fill="#6e7dff" fill-opacity="0.17"/>
<rect x="435.7" y="84.1" width="2" height="2" fill="#6e7dff" fill-opacity="0.17"/>
<rect x="459.2" y="67.6" width="2" height="2" fill="#6e7dff" fill-opacity="0.17"/>
<rect x="362.4" y="136.1" width="2" height="2" fill="#6e7dff" fill-opacity="0.17"/>
<rect x="377.0" y="126.7" width="2" height="2" fill="#6e7dff" fill-opacity="0.17"/>
<rect x="527.4" y="8.4" width="2" height="2" fill="#6e7dff" fill-opacity="0.17"/>
<rect x="501.8" y="36.2" width="2" height="2" fill="#6e7dff" fill-opacity="0.17"/>
<rect x="503.4" y="31.3" width="2" height="2" fill="#6e7dff" fill-opacity="0.17"/>
<rect x="349.7" y="148.4" width="2" height="2" fill="#6e7dff" fill-opacity="0.17"/>
<rect x="478.6" y="48.7" width="2" height="2" fill="#6e7dff" fill-opacity="0.17"/>
<rect x="344.7" y="152.8" width="2" height="2" fill="#6e7dff" fill-opacity="0.17"/>
<rect x="347.6" y="148.4" width="2" height="2" fill="#6e7dff" fill-opacity="0.17"/>
<rect x="513.0" y="29.3" width="2" height="2" fill="#6e7dff" fill-opacity="0.17"/>
<rect x="534.0" y="14.9" width="2" height="2" fill="#6e7dff" fill-opacity="0.17"/>
<rect x="464.6" y="60.4" width="2" height="2" fill="#6e7dff" fill-opacity="0.17"/>
<rect x="470.6" y="59.8" width="2" height="2" fill="#6e7dff" fill-opacity="0.17"/>
<rect x="348.7" y="145.7" width="2" height="2" fill="#6e7dff" fill-opacity="0.17"/>
<rect x="514.4" y="25.7" width="2" height="2" fill="#6e7dff" fill-opacity="0.17"/>
<rect x="423.0" y="96.4" width="2" height="2" fill="#6e7dff" fill-opacity="0.17"/>
<rect x="373.0" y="131.9" width="2" height="2" fill="#6e7dff" fill-opacity="0.17"/>
<rect x="440.4" y="78.4" width="2" height="2" fill="#6e7dff" fill-opacity="0.17"/>
<rect x="355.6" y="140.6" width="2" height="2" fill="#6e7dff" fill-opacity="0.17"/>
<rect x="380.5" y="123.8" width="2" height="2" fill="#6e7dff" fill-opacity="0.17"/>
<rect x="377.1" y="126.0" width="2" height="2" fill="#6e7dff" fill-opacity="0.17"/>
<rect x="470.9" y="54.3" width="2" height="2" fill="#6e7dff" fill-opacity="0.17"/>
<rect x="517.2" y="23.0" width="2" height="2" fill="#6e7dff" fill-opacity="0.17"/>
<rect x="507.4" y="30.5" width="2" height="2" fill="#6e7dff" fill-opacity="0.17"/>
<rect x="452.9" y="70.7" width="2" height="2" fill="#6e7dff" fill-opacity="0.17"/>
<rect x="401.5" y="111.1" width="2" height="2" fill="#6e7dff" fill-opacity="0.17"/>
<rect x="398.6" y="107.8" width="2" height="2" fill="#6e7dff" fill-opacity="0.17"/>
<rect x="346.4" y="148.0" width="2" height="2" fill="#6e7dff" fill-opacity="0.17"/>
<rect x="467.9" y="55.9" width="2" height="2" fill="#6e7dff" fill-opacity="0.17"/>
<rect x="452.4" y="72.7" width="2" height="2" fill="#6e7dff" fill-opacity="0.17"/>
<rect x="494.7" y="34.3" width="2" height="2" fill="#6e7dff" fill-opacity="0.17"/>
<rect x="533.9" y="11.9" width="2" height="2" fill="#6e7dff" fill-opacity="0.17"/>
<rect x="422.4" y="89.7" width="2" height="2" fill="#6e7dff" fill-opacity="0.17"/>
<rect x="459.0" y="65.4" width="2" height="2" fill="#6e7dff" fill-opacity="0.17"/>
<rect x="506.5" y="32.9" width="2" height="2" fill="#6e7dff" fill-opacity="0.17"/>
<rect x="339.0" y="155.4" width="2" height="2" fill="#6e7dff" fill-opacity="0.17"/>
<rect x="499.5" y="41.8" width="2" height="2" fill="#6e7dff" fill-opacity="0.17"/>
<rect x="449.7" y="77.7" width="2" height="2" fill="#6e7dff" fill-opacity="0.17"/>
<rect x="504.3" y="31.1" width="2" height="2" fill="#6e7dff" fill-opacity="0.17"/>
<rect x="423.0" y="99.2" width="2" height="2" fill="#6e7dff" fill-opacity="0.17"/>
<rect x="513.8" y="25.6" width="2" height="2" fill="#6e7dff" fill-opacity="0.17"/>
<rect x="396.0" y="112.2" width="2" height="2" fill="#6e7dff" fill-opacity="0.17"/>
<rect x="400.9" y="106.7" width="2" height="2" fill="#6e7dff" fill-opacity="0.17"/>
<rect x="386.1" y="119.7" width="2" height="2" fill="#6e7dff" fill-opacity="0.17"/>
<rect x="470.0" y="55.8" width="2" height="2" fill="#6e7dff" fill-opacity="0.17"/>
<rect x="409.6" y="101.3" width="2" height="2" fill="#6e7dff" fill-opacity="0.17"/>
<rect x="358.4" y="141.6" width="2" height="2" fill="#6e7dff" fill-opacity="0.17"/>
<rect x="493.5" y="42.1" width="2" height="2" fill="#6e7dff" fill-opacity="0.17"/>
<rect x="398.6" y="109.1" width="2" height="2" fill="#6e7dff" fill-opacity="0.17"/>
<rect x="436.9" y="82.4" width="2" height="2" fill="#6e7dff" fill-opacity="0.17"/>
<rect x="377.0" y="124.9" width="2" height="2" fill="#6e7dff" fill-opacity="0.17"/>
<rect x="513.4" y="25.3" width="2" height="2" fill="#6e7dff" fill-opacity="0.17"/>
<rect x="389.4" y="119.6" width="2" height="2" fill="#6e7dff" fill-opacity="0.17"/>
<rect x="384.5" y="120.7" width="2" height="2" fill="#6e7dff" fill-opacity="0.17"/>
<rect x="437.7" y="79.5" width="2" height="2" fill="#6e7dff" fill-opacity="0.17"/>
<rect x="388.0" y="117.5" width="2" height="2" fill="#6e7dff" fill-opacity="0.17"/>
<rect x="496.3" y="37.7" width="2" height="2" fill="#6e7dff" fill-opacity="0.17"/>
<rect x="450.0" y="76.2" width="2" height="2" fill="#6e7dff" fill-opacity="0.17"/>
<rect x="507.2" y="30.2" width="2" height="2" fill="#6e7dff" fill-opacity="0.17"/>
<rect x="359.4" y="139.9" width="2" height="2" fill="#6e7dff" fill-opacity="0.17"/>
<rect x="482.0" y="44.4" width="2" height="2" fill="#6e7dff" fill-opacity="0.17"/>
<rect x="487.8" y="51.7" width="2" height="2" fill="#6e7dff" fill-opacity="0.17"/>
<rect x="364.3" y="137.9" width="2" height="2" fill="#6e7dff" fill-opacity="0.17"/>
<rect x="452.0" y="72.4" width="2" height="2" fill="#6e7dff" fill-opacity="0.17"/>
<rect x="360.2" y="136.9" width="2" height="2" fill="#6e7dff" fill-opacity="0.17"/>
<rect x="385.0" y="120.9" width="2" height="2" fill="#6e7dff" fill-opacity="0.17"/>
<rect x="531.9" y="12.8" width="2" height="2" fill="#6e7dff" fill-opacity="0.17"/>
<rect x="465.4" y="60.4" width="2" height="2" fill="#6e7dff" fill-opacity="0.17"/>
<rect x="383.3" y="121.5" width="2" height="2" fill="#6e7dff" fill-opacity="0.17"/>
<rect x="452.6" y="68.5" width="2" height="2" fill="#6e7dff" fill-opacity="0.17"/>
<rect x="394.8" y="115.4" width="2" height="2" fill="#6e7dff" fill-opacity="0.17"/>
<rect x="534.0" y="16.3" width="2" height="2" fill="#6e7dff" fill-opacity="0.17"/>
<rect x="512.0" y="24.6" width="2" height="2" fill="#6e7dff" fill-opacity="0.17"/>
<rect x="498.1" y="37.9" width="2" height="2" fill="#6e7dff" fill-opacity="0.17"/>
<rect x="352.4" y="145.2" width="2" height="2" fill="#6e7dff" fill-opacity="0.17"/>
<rect x="354.0" y="143.7" width="2" height="2" fill="#6e7dff" fill-opacity="0.17"/>
<rect x="524.9" y="13.6" width="2" height="2" fill="#6e7dff" fill-opacity="0.17"/>
<rect x="436.1" y="80.0" width="2" height="2" fill="#6e7dff" fill-opacity="0.17"/>
<rect x="338.5" y="154.7" width="2" height="2" fill="#6e7dff" fill-opacity="0.17"/>
<rect x="511.5" y="28.0" width="2" height="2" fill="#6e7dff" fill-opacity="0.17"/>
<rect x="497.0" y="40.9" width="2" height="2" fill="#6e7dff" fill-opacity="0.17"/>
<rect x="342.3" y="152.0" width="2" height="2" fill="#6e7dff" fill-opacity="0.17"/>
<rect x="471.9" y="53.1" width="2" height="2" fill="#6e7dff" fill-opacity="0.17"/>
<rect x="519.9" y="19.9" width="2" height="2" fill="#6e7dff" fill-opacity="0.17"/>
<rect x="467.3" y="56.5" width="2" height="2" fill="#6e7dff" fill-opacity="0.17"/>
<rect x="472.2" y="53.2" width="2" height="2" fill="#6e7dff" fill-opacity="0.17"/>
<rect x="396.6" y="111.5" width="2" height="2" fill="#6e7dff" fill-opacity="0.17"/>
<rect x="413.2" y="102.4" width="2" height="2" fill="#6e7dff" fill-opacity="0.17"/>
<rect x="435.9" y="83.2" width="2" height="2" fill="#6e7dff" fill-opacity="0.17"/>
<rect x="512.0" y="24.2" width="2" height="2" fill="#6e7dff" fill-opacity="0.17"/>
<rect x="400.6" y="108.7" width="2" height="2" fill="#6e7dff" fill-opacity="0.17"/>
<rect x="370.3" y="133.0" width="2" height="2" fill="#6e7dff" fill-opacity="0.17"/>
<rect x="338.6" y="152.4" width="2" height="2" fill="#6e7dff" fill-opacity="0.17"/>
<rect x="532.1" y="13.0" width="2" height="2" fill="#6e7dff" fill-opacity="0.17"/>
<rect x="448.8" y="72.0" width="2" height="2" fill="#6e7dff" fill-opacity="0.17"/>
<rect x="345.6" y="149.2" width="2" height="2" fill="#6e7dff" fill-opacity="0.17"/>
<rect x="453.6" y="74.3" width="2" height="2" fill="#6e7dff" fill-opacity="0.17"/>
<rect x="390.2" y="120.0" width="2" height="2" fill="#6e7dff" fill-opacity="0.17"/>
<rect x="378.3" y="125.3" width="2" height="2" fill="#6e7dff" fill-opacity="0.17"/>
<rect x="342.4" y="151.1" width="2" height="2" fill="#6e7dff" fill-opacity="0.17"/>
<rect x="429.3" y="89.6" width="2" height="2" fill="#6e7dff" fill-opacity="0.17"/>
<rect x="525.4" y="15.2" width="2" height="2" fill="#6e7dff" fill-opacity="0.17"/>
<rect x="393.6" y="113.0" width="2" height="2" fill="#6e7dff" fill-opacity="0.17"/>
<rect x="354.6" y="144.7" width="2" height="2" fill="#6e7dff" fill-opacity="0.17"/>
<rect x="342.5" y="154.3" width="2" height="2" fill="#6e7dff" fill-opacity="0.17"/>
<rect x="345.8" y="151.5" width="2" height="2" fill="#6e7dff" fill-opacity="0.17"/>
<rect x="472.3" y="55.5" width="2" height="2" fill="#6e7dff" fill-opacity="0.17"/>
<rect x="500.1" y="31.0" width="2" height="2" fill="#6e7dff" fill-opacity="0.17"/>
<rect x="477.6" y="52.0" width="2" height="2" fill="#6e7dff" fill-opacity="0.17"/>
<rect x="528.9" y="12.3" width="2" height="2" fill="#6e7dff" fill-opacity="0.17"/>
<rect x="517.8" y="18.9" width="2" height="2" fill="#6e7dff" fill-opacity="0.17"/>
<rect x="346.0" y="150.2" width="2" height="2" fill="#6e7dff" fill-opacity="0.17"/>
<rect x="404.4" y="105.5" width="2" height="2" fill="#6e7dff" fill-opacity="0.17"/>
<rect x="390.1" y="117.1" width="2" height="2" fill="#6e7dff" fill-opacity="0.17"/>
<rect x="344.5" y="149.4" width="2" height="2" fill="#6e7dff" fill-opacity="0.17"/>
<rect x="351.1" y="146.6" width="2" height="2" fill="#6e7dff" fill-opacity="0.17"/>
<rect x="401.9" y="107.4" width="2" height="2" fill="#6e7dff" fill-opacity="0.17"/>
<rect x="454.4" y="66.6" width="2" height="2" fill="#6e7dff" fill-opacity="0.17"/>
<rect x="463.1" y="60.1" width="2" height="2" fill="#6e7dff" fill-opacity="0.17"/>
<rect x="346.7" y="147.7" width="2" height="2" fill="#6e7dff" fill-opacity="0.17"/>
<rect x="418.8" y="94.9" width="2" height="2" fill="#6e7dff" fill-opacity="0.17"/>
<rect x="497.8" y="39.2" width="2" height="2" fill="#6e7dff" fill-opacity="0.17"/>
<rect x="380.3" y="126.5" width="2" height="2" fill="#6e7dff" fill-opacity="0.17"/>
<rect x="338.8" y="153.0" width="2" height="2" fill="#6e7dff" fill-opacity="0.17"/>
<rect x="441.6" y="82.3" width="2" height="2" fill="#6e7dff" fill-opacity="0.17"/>
<rect x="524.7" y="18.3" width="2" height="2" fill="#6e7dff" fill-opacity="0.17"/>
<rect x="470.7" y="56.8" width="2" height="2" fill="#6e7dff" fill-opacity="0.17"/>
<rect x="426.9" y="88.0" width="2" height="2" fill="#6e7dff" fill-opacity="0.17"/>
<rect x="387.4" y="119.5" width="2" height="2" fill="#6e7dff" fill-opacity="0.17"/>
<rect x="470.6" y="57.6" width="2" height="2" fill="#6e7dff" fill-opacity="0.17"/>
<rect x="413.9" y="98.1" width="2" height="2" fill="#6e7dff" fill-opacity="0.17"/>
<rect x="522.0" y="18.7" width="2" height="2" fill="#6e7dff" fill-opacity="0.17"/>
<rect x="503.5" y="30.8" width="2" height="2" fill="#6e7dff" fill-opacity="0.17"/>
<rect x="532.6" y="13.5" width="2" height="2" fill="#6e7dff" fill-opacity="0.17"/>
<rect x="366.6" y="134.7" width="2" height="2" fill="#6e7dff" fill-opacity="0.17"/>
<rect x="373.7" y="133.1" width="2" height="2" fill="#6e7dff" fill-opacity="0.17"/>
<rect x="338.9" y="154.1" width="2" height="2" fill="#6e7dff" fill-opacity="0.17"/>
<rect x="493.8" y="39.2" width="2" height="2" fill="#6e7dff" fill-opacity="0.17"/>
<rect x="452.3" y="71.9" width="2" height="2" fill="#6e7dff" fill-opacity="0.17"/>
<rect x="459.9" y="64.9" width="2" height="2" fill="#6e7dff" fill-opacity="0.17"/>
<rect x="360.6" y="137.0" width="2" height="2" fill="#6e7dff" fill-opacity="0.17"/>
<rect x="460.1" y="62.4" width="2" height="2" fill="#6e7dff" fill-opacity="0.17"/>
<rect x="493.2" y="39.8" width="2" height="2" fill="#6e7dff" fill-opacity="0.17"/>
<rect x="391.8" y="116.4" width="2" height="2" fill="#6e7dff" fill-opacity="0.17"/>
<rect x="361.8" y="138.0" width="2" height="2" fill="#6e7dff" fill-opacity="0.17"/>
<rect x="507.4" y="29.9" width="2" height="2" fill="#6e7dff" fill-opacity="0.17"/>
<rect x="468.1" y="58.0" width="2" height="2" fill="#6e7dff" fill-opacity="0.17"/>
<rect x="517.0" y="26.2" width="2" height="2" fill="#6e7dff" fill-opacity="0.17"/>
<rect x="500.4" y="32.6" width="2" height="2" fill="#6e7dff" fill-opacity="0.17"/>
<rect x="375.0" y="130.7" width="2" height="2" fill="#6e7dff" fill-opacity="0.17"/>
<rect x="399.8" y="106.3" width="2" height="2" fill="#6e7dff" fill-opacity="0.17"/>
<rect x="425.2" y="89.4" width="2" height="2" fill="#6e7dff" fill-opacity="0.17"/>
<rect x="533.1" y="11.9" width="2" height="2" fill="#6e7dff" fill-opacity="0.17"/>
<rect x="507.2" y="27.1" width="2" height="2" fill="#6e7dff" fill-opacity="0.17"/>
<rect x="529.3" y="13.6" width="2" height="2" fill="#6e7dff" fill-opacity="0.17"/>
<rect x="519.5" y="27.5" width="2" height="2" fill="#6e7dff" fill-opacity="0.17"/>
<rect x="385.5" y="120.6" width="2" height="2" fill="#6e7dff" fill-opacity="0.17"/>
<rect x="467.0" y="60.5" width="2" height="2" fill="#6e7dff" fill-opacity="0.17"/>
<rect x="525.7" y="18.2" width="2" height="2" fill="#6e7dff" fill-opacity="0.17"/>
<rect x="444.7" y="76.4" width="2" height="2" fill="#6e7dff" fill-opacity="0.17"/>
<rect x="348.3" y="148.3" width="2" height="2" fill="#6e7dff" fill-opacity="0.17"/>
<rect x="414.0" y="98.8" width="2" height="2" fill="#6e7dff" fill-opacity="0.17"/>
<rect x="496.8" y="38.2" width="2" height="2" fill="#6e7dff" fill-opacity="0.17"/>
<rect x="422.0" y="97.5" width="2" height="2" fill="#6e7dff" fill-opacity="0.17"/>
<rect x="418.7" y="91.9" width="2" height="2" fill="#6e7dff" fill-opacity="0.17"/>
<rect x="444.9" y="74.8" width="2" height="2" fill="#6e7dff" fill-opacity="0.17"/>
<rect x="412.1" y="99.0" width="2" height="2" fill="#6e7dff" fill-opacity="0.17"/>
<rect x="347.8" y="146.6" width="2" height="2" fill="#6e7dff" fill-opacity="0.17"/>
<rect x="357.6" y="139.2" width="2" height="2" fill="#6e7dff" fill-opacity="0.17"/>
<rect x="360.7" y="137.6" width="2" height="2" fill="#6e7dff" fill-opacity="0.17"/>
<rect x="498.8" y="40.8" width="2" height="2" fill="#6e7dff" fill-opacity="0.17"/>
<rect x="441.5" y="81.8" width="2" height="2" fill="#6e7dff" fill-opacity="0.17"/>
<rect x="364.7" y="136.0" width="2" height="2" fill="#6e7dff" fill-opacity="0.17"/>
<rect x="448.0" y="69.3" width="2" height="2" fill="#6e7dff" fill-opacity="0.17"/>
<rect x="460.7" y="65.1" width="2" height="2" fill="#6e7dff" fill-opacity="0.17"/>
<rect x="372.0" y="130.5" width="2" height="2" fill="#6e7dff" fill-opacity="0.17"/>
<rect x="416.8" y="94.1" width="2" height="2" fill="#6e7dff" fill-opacity="0.17"/>
<rect x="449.2" y="77.9" width="2" height="2" fill="#6e7dff" fill-opacity="0.17"/>
<rect x="383.2" y="119.5" width="2" height="2" fill="#6e7dff" fill-opacity="0.17"/>
<rect x="412.4" y="99.5" width="2" height="2" fill="#6e7dff" fill-opacity="0.17"/>
<rect x="521.0" y="19.4" width="2" height="2" fill="#6e7dff" fill-opacity="0.17"/>
<rect x="340.5" y="152.4" width="2" height="2" fill="#6e7dff" fill-opacity="0.17"/>
<rect x="342.4" y="150.9" width="2" height="2" fill="#6e7dff" fill-opacity="0.17"/>
<rect x="363.6" y="139.5" width="2" height="2" fill="#6e7dff" fill-opacity="0.17"/>
<rect x="340.4" y="154.4" width="2" height="2" fill="#6e7dff" fill-opacity="0.17"/>
<rect x="454.1" y="70.3" width="2" height="2" fill="#6e7dff" fill-opacity="0.17"/>
<rect x="516.9" y="23.0" width="2" height="2" fill="#6e7dff" fill-opacity="0.17"/>
<rect x="452.4" y="72.7" width="2" height="2" fill="#6e7dff" fill-opacity="0.17"/>
<rect x="389.0" y="117.5" width="2" height="2" fill="#6e7dff" fill-opacity="0.17"/>
<rect x="507.8" y="32.0" width="2" height="2" fill="#6e7dff" fill-opacity="0.17"/>
<rect x="467.4" y="57.7" width="2" height="2" fill="#6e7dff" fill-opacity="0.17"/>
<rect x="526.1" y="18.0" width="2" height="2" fill="#6e7dff" fill-opacity="0.17"/>
<rect x="447.4" y="74.5" width="2" height="2" fill="#6e7dff" fill-opacity="0.17"/>
<rect x="393.0" y="111.7" width="2" height="2" fill="#6e7dff" fill-opacity="0.17"/>
<rect x="356.4" y="139.4" width="2" height="2" fill="#6e7dff" fill-opacity="0.17"/>
<rect x="379.9" y="123.6" width="2" height="2" fill="#6e7dff" fill-opacity="0.17"/>
<rect x="354.1" y="143.2" width="2" height="2" fill="#6e7dff" fill-opacity="0.17"/>
<rect x="483.4" y="49.2" width="2" height="2" fill="#6e7dff" fill-opacity="0.17"/>
<rect x="385.8" y="122.8" width="2" height="2" fill="#6e7dff" fill-opacity="0.17"/>
<rect x="499.1" y="31.0" width="2" height="2" fill="#6e7dff" fill-opacity="0.17"/>
<rect x="500.4" y="31.3" width="2" height="2" fill="#6e7dff" fill-opacity="0.17"/>
<rect x="522.0" y="19.7" width="2" height="2" fill="#6e7dff" fill-opacity="0.17"/>
<rect x="455.7" y="70.1" width="2" height="2" fill="#6e7dff" fill-opacity="0.17"/>
<rect x="406.4" y="105.5" width="2" height="2" fill="#6e7dff" fill-opacity="0.17"/>
<rect x="444.9" y="76.2" width="2" height="2" fill="#6e7dff" fill-opacity="0.17"/>
<rect x="506.7" y="26.3" width="2" height="2" fill="#6e7dff" fill-opacity="0.17"/>
<rect x="476.2" y="53.0" width="2" height="2" fill="#6e7dff" fill-opacity="0.17"/>
<rect x="404.0" y="106.0" width="2" height="2" fill="#6e7dff" fill-opacity="0.17"/>
<rect x="417.3" y="95.0" width="2" height="2" fill="#6e7dff" fill-opacity="0.17"/>
<rect x="434.2" y="86.5" width="2" height="2" fill="#6e7dff" fill-opacity="0.17"/>
<rect x="452.3" y="74.3" width="2" height="2" fill="#6e7dff" fill-opacity="0.17"/>
<rect x="442.4" y="79.3" width="2" height="2" fill="#6e7dff" fill-opacity="0.17"/>
<rect x="441.3" y="78.7" width="2" height="2" fill="#6e7dff" fill-opacity="0.17"/>
<rect x="418.4" y="94.6" width="2" height="2" fill="#6e7dff" fill-opacity="0.17"/>
<rect x="511.5" y="24.6" width="2" height="2" fill="#6e7dff" fill-opacity="0.17"/>
<rect x="445.9" y="76.2" width="2" height="2" fill="#6e7dff" fill-opacity="0.17"/>
<rect x="434.3" y="85.4" width="2" height="2" fill="#6e7dff" fill-opacity="0.17"/>
<rect x="490.7" y="41.8" width="2" height="2" fill="#6e7dff" fill-opacity="0.17"/>
<rect x="351.6" y="145.0" width="2" height="2" fill="#6e7dff" fill-opacity="0.17"/>
<rect x="372.6" y="128.2" width="2" height="2" fill="#6e7dff" fill-opacity="0.17"/>
<rect x="370.8" y="129.1" width="2" height="2" fill="#6e7dff" fill-opacity="0.17"/>
<rect x="366.9" y="132.8" width="2" height="2" fill="#6e7dff" fill-opacity="0.17"/>
<rect x="459.9" y="68.0" width="2" height="2" fill="#6e7dff" fill-opacity="0.17"/>
<rect x="426.6" y="91.6" width="2" height="2" fill="#6e7dff" fill-opacity="0.17"/>
<rect x="453.7" y="70.5" width="2" height="2" fill="#6e7dff" fill-opacity="0.17"/>
<rect x="469.5" y="55.2" width="2" height="2" fill="#6e7dff" fill-opacity="0.17"/>
<rect x="374.9" y="128.2" width="2" height="2" fill="#6e7dff" fill-opacity="0.17"/>
<rect x="530.5" y="17.1" width="2" height="2" fill="#6e7dff" fill-opacity="0.17"/>
<rect x="454.4" y="73.2" width="2" height="2" fill="#6e7dff" fill-opacity="0.17"/>
<rect x="388.8" y="118.7" width="2" height="2" fill="#6e7dff" fill-opacity="0.17"/>
<rect x="405.1" y="108.7" width="2" height="2" fill="#6e7dff" fill-opacity="0.17"/>
<rect x="475.9" y="51.5" width="2" height="2" fill="#6e7dff" fill-opacity="0.17"/>
<rect x="369.3" y="127.3" width="2" height="2" fill="#6e7dff" fill-opacity="0.17"/>
<rect x="429.7" y="89.3" width="2" height="2" fill="#6e7dff" fill-opacity="0.17"/>
<rect x="535.0" y="11.9" width="2" height="2" fill="#6e7dff" fill-opacity="0.17"/>
<rect x="351.9" y="146.1" width="2" height="2" fill="#6e7dff" fill-opacity="0.17"/>
<rect x="340.7" y="155.2" width="2" height="2" fill="#6e7dff" fill-opacity="0.17"/>
<rect x="454.4" y="71.4" width="2" height="2" fill="#6e7dff" fill-opacity="0.17"/>
<rect x="489.4" y="47.6" width="2" height="2" fill="#6e7dff" fill-opacity="0.17"/>
<rect x="451.9" y="69.4" width="2" height="2" fill="#6e7dff" fill-opacity="0.17"/>
<rect x="458.2" y="70.0" width="2" height="2" fill="#6e7dff" fill-opacity="0.17"/>
<rect x="442.9" y="78.8" width="2" height="2" fill="#6e7dff" fill-opacity="0.17"/>
<rect x="352.5" y="145.7" width="2" height="2" fill="#6e7dff" fill-opacity="0.17"/>
<rect x="416.1" y="100.5" width="2" height="2" fill="#6e7dff" fill-opacity="0.17"/>
<rect x="529.5" y="15.6" width="2" height="2" fill="#6e7dff" fill-opacity="0.17"/>
<rect x="432.9" y="84.9" width="2" height="2" fill="#6e7dff" fill-opacity="0.17"/>
<rect x="402.3" y="105.5" width="2" height="2" fill="#6e7dff" fill-opacity="0.17"/>
<rect x="367.9" y="130.0" width="2" height="2" fill="#6e7dff" fill-opacity="0.17"/>
<rect x="474.5" y="52.8" width="2" height="2" fill="#6e7dff" fill-opacity="0.17"/>
<rect x="535.3" y="6.0" width="2" height="2" fill="#6e7dff" fill-opacity="0.17"/>
<rect x="352.2" y="144.6" width="2" height="2" fill="#6e7dff" fill-opacity="0.17"/>
<rect x="531.1" y="12.7" width="2" height="2" fill="#6e7dff" fill-opacity="0.17"/>
<rect x="516.2" y="27.6" width="2" height="2" fill="#6e7dff" fill-opacity="0.17"/>
<rect x="422.5" y="91.8" width="2" height="2" fill="#6e7dff" fill-opacity="0.17"/>
<rect x="365.4" y="136.1" width="2" height="2" fill="#6e7dff" fill-opacity="0.17"/>
<rect x="507.9" y="27.1" width="2" height="2" fill="#6e7dff" fill-opacity="0.17"/>
<rect x="356.6" y="143.3" width="2" height="2" fill="#6e7dff" fill-opacity="0.17"/>
<rect x="441.4" y="79.5" width="2" height="2" fill="#6e7dff" fill-opacity="0.17"/>
<rect x="491.4" y="43.9" width="2" height="2" fill="#6e7dff" fill-opacity="0.17"/>
<rect x="526.2" y="17.7" width="2" height="2" fill="#6e7dff" fill-opacity="0.17"/>
<rect x="450.9" y="72.2" width="2" height="2" fill="#6e7dff" fill-opacity="0.17"/>
<rect x="507.4" y="26.3" width="2" height="2" fill="#6e7dff" fill-opacity="0.17"/>
<rect x="345.2" y="151.0" width="2" height="2" fill="#6e7dff" fill-opacity="0.17"/>
<rect x="388.7" y="119.6" width="2" height="2" fill="#6e7dff" fill-opacity="0.17"/>
<rect x="364.6" y="135.3" width="2" height="2" fill="#6e7dff" fill-opacity="0.17"/>
<rect x="414.9" y="96.1" width="2" height="2" fill="#6e7dff" fill-opacity="0.17"/>
<rect x="451.4" y="71.9" width="2" height="2" fill="#6e7dff" fill-opacity="0.17"/>
<rect x="425.2" y="87.6" width="2" height="2" fill="#6e7dff" fill-opacity="0.17"/>
<rect x="492.1" y="40.6" width="2" height="2" fill="#6e7dff" fill-opacity="0.17"/>
<rect x="531.0" y="14.8" width="2" height="2" fill="#6e7dff" fill-opacity="0.17"/>
<rect x="440.1" y="80.7" width="2" height="2" fill="#6e7dff" fill-opacity="0.17"/>
<rect x="474.6" y="52.5" width="2" height="2" fill="#6e7dff" fill-opacity="0.17"/>
<rect x="417.9" y="96.9" width="2" height="2" fill="#6e7dff" fill-opacity="0.17"/>
<rect x="505.9" y="33.2" width="2" height="2" fill="#6e7dff" fill-opacity="0.17"/>
<rect x="384.2" y="119.7" width="2" height="2" fill="#6e7dff" fill-opacity="0.17"/>
<rect x="410.7" y="103.1" width="2" height="2" fill="#6e7dff" fill-opacity="0.17"/>
<rect x="446.5" y="78.1" width="2" height="2" fill="#6e7dff" fill-opacity="0.17"/>
<rect x="443.0" y="78.1" width="2" height="2" fill="#6e7dff" fill-opacity="0.17"/>
<rect x="525.2" y="16.9" width="2" height="2" fill="#6e7dff" fill-opacity="0.17"/>
<rect x="533.4" y="12.2" width="2" height="2" fill="#6e7dff" fill-opacity="0.17"/>
<rect x="340.4" y="150.8" width="2" height="2" fill="#6e7dff" fill-opacity="0.17"/>
<rect x="386.3" y="118.4" width="2" height="2" fill="#6e7dff" fill-opacity="0.17"/>
<rect x="342.5" y="151.1" width="2" height="2" fill="#6e7dff" fill-opacity="0.17"/>
<rect x="502.3" y="30.7" width="2" height="2" fill="#6e7dff" fill-opacity="0.17"/>
<rect x="341.1" y="152.8" width="2" height="2" fill="#6e7dff" fill-opacity="0.17"/>
<rect x="346.3" y="148.9" width="2" height="2" fill="#6e7dff" fill-opacity="0.17"/>
<rect x="393.9" y="119.1" width="2" height="2" fill="#6e7dff" fill-opacity="0.17"/>
<rect x="461.1" y="63.9" width="2" height="2" fill="#6e7dff" fill-opacity="0.17"/>
<rect x="504.7" y="37.5" width="2" height="2" fill="#6e7dff" fill-opacity="0.17"/>
<rect x="466.3" y="63.5" width="2" height="2" fill="#6e7dff" fill-opacity="0.17"/>
<rect x="379.5" y="126.0" width="2" height="2" fill="#6e7dff" fill-opacity="0.17"/>
<rect x="355.8" y="140.7" width="2" height="2" fill="#6e7dff" fill-opacity="0.17"/>
<rect x="519.6" y="23.0" width="2" height="2" fill="#6e7dff" fill-opacity="0.17"/>
<rect x="428.9" y="87.9" width="2" height="2" fill="#6e7dff" fill-opacity="0.17"/>
<rect x="494.1" y="40.4" width="2" height="2" fill="#6e7dff" fill-opacity="0.17"/>
<rect x="352.7" y="142.3" width="2" height="2" fill="#6e7dff" fill-opacity="0.17"/>
<rect x="379.8" y="123.5" width="2" height="2" fill="#6e7dff" fill-opacity="0.17"/>
<rect x="469.3" y="55.3" width="2" height="2" fill="#6e7dff" fill-opacity="0.17"/>
<rect x="377.2" y="127.2" width="2" height="2" fill="#6e7dff" fill-opacity="0.17"/>
<rect x="482.6" y="51.7" width="2" height="2" fill="#6e7dff" fill-opacity="0.17"/>
<rect x="535.1" y="15.0" width="2" height="2" fill="#6e7dff" fill-opacity="0.17"/>
<rect x="421.6" y="87.0" width="2" height="2" fill="#6e7dff" fill-opacity="0.17"/>
<rect x="432.6" y="84.9" width="2" height="2" fill="#6e7dff" fill-opacity="0.17"/>
<rect x="460.5" y="63.7" width="2" height="2" fill="#6e7dff" fill-opacity="0.17"/>
<rect x="354.6" y="142.3" width="2" height="2" fill="#6e7dff" fill-opacity="0.17"/>
<rect x="439.3" y="80.2" width="2" height="2" fill="#6e7dff" fill-opacity="0.17"/>
<rect x="371.3" y="130.9" width="2" height="2" fill="#6e7dff" fill-opacity="0.17"/>
<rect x="419.8" y="91.0" width="2" height="2" fill="#6e7dff" fill-opacity="0.17"/>
<rect x="362.4" y="139.5" width="2" height="2" fill="#6e7dff" fill-opacity="0.17"/>
<rect x="455.6" y="75.7" width="2" height="2" fill="#6e7dff" fill-opacity="0.17"/>
<rect x="419.5" y="98.3" width="2" height="2" fill="#6e7dff" fill-opacity="0.17"/>
<rect x="501.2" y="35.7" width="2" height="2" fill="#6e7dff" fill-opacity="0.17"/>
<rect x="490.0" y="42.8" width="2" height="2" fill="#6e7dff" fill-opacity="0.17"/>
<rect x="354.8" y="140.0" width="2" height="2" fill="#6e7dff" fill-opacity="0.17"/>
<rect x="359.1" y="140.7" width="2" height="2" fill="#6e7dff" fill-opacity="0.17"/>
<rect x="443.1" y="77.6" width="2" height="2" fill="#6e7dff" fill-opacity="0.17"/>
<rect x="387.9" y="116.4" width="2" height="2" fill="#6e7dff" fill-opacity="0.17"/>
<rect x="496.3" y="39.3" width="2" height="2" fill="#6e7dff" fill-opacity="0.17"/>
<rect x="524.1" y="22.8" width="2" height="2" fill="#6e7dff" fill-opacity="0.17"/>
<rect x="429.0" y="86.8" width="2" height="2" fill="#6e7dff" fill-opacity="0.17"/>
<rect x="410.4" y="99.5" width="2" height="2" fill="#6e7dff" fill-opacity="0.17"/>
<rect x="519.1" y="18.2" width="2" height="2" fill="#6e7dff" fill-opacity="0.17"/>
<rect x="469.3" y="59.5" width="2" height="2" fill="#6e7dff" fill-opacity="0.17"/>
<rect x="402.0" y="105.7" width="2" height="2" fill="#6e7dff" fill-opacity="0.17"/>
<rect x="408.8" y="102.8" width="2" height="2" fill="#6e7dff" fill-opacity="0.17"/>
<rect x="426.9" y="89.8" width="2" height="2" fill="#6e7dff" fill-opacity="0.17"/>
<rect x="433.0" y="82.7" width="2" height="2" fill="#6e7dff" fill-opacity="0.17"/>
<rect x="382.1" y="120.2" width="2" height="2" fill="#6e7dff" fill-opacity="0.17"/>
<rect x="411.2" y="101.1" width="2" height="2" fill="#6e7dff" fill-opacity="0.17"/>
<rect x="416.7" y="94.1" width="2" height="2" fill="#6e7dff" fill-opacity="0.17"/>
<rect x="468.5" y="62.9" width="2" height="2" fill="#6e7dff" fill-opacity="0.17"/>
<rect x="441.0" y="77.2" width="2" height="2" fill="#6e7dff" fill-opacity="0.17"/>
<rect x="355.0" y="143.9" width="2" height="2" fill="#6e7dff" fill-opacity="0.17"/>
<rect x="390.6" y="116.3" width="2" height="2" fill="#6e7dff" fill-opacity="0.17"/>
<rect x="524.8" y="22.3" width="2" height="2" fill="#6e7dff" fill-opacity="0.17"/>
<rect x="364.0" y="135.6" width="2" height="2" fill="#6e7dff" fill-opacity="0.17"/>
<rect x="457.2" y="65.8" width="2" height="2" fill="#6e7dff" fill-opacity="0.17"/>
<rect x="358.9" y="139.0" width="2" height="2" fill="#6e7dff" fill-opacity="0.17"/>
<rect x="341.8" y="149.1" width="2" height="2" fill="#6e7dff" fill-opacity="0.17"/>
<rect x="404.2" y="109.2" width="2" height="2" fill="#6e7dff" fill-opacity="0.17"/>
<rect x="340.0" y="153.9" width="2" height="2" fill="#6e7dff" fill-opacity="0.17"/>
<rect x="345.0" y="152.3" width="2" height="2" fill="#6e7dff" fill-opacity="0.17"/>
<rect x="485.9" y="44.0" width="2" height="2" fill="#6e7dff" fill-opacity="0.17"/>
<rect x="488.5" y="43.1" width="2" height="2" fill="#6e7dff" fill-opacity="0.17"/>
<rect x="486.1" y="45.5" width="2" height="2" fill="#6e7dff" fill-opacity="0.17"/>
<rect x="493.1" y="37.2" width="2" height="2" fill="#6e7dff" fill-opacity="0.17"/>
<rect x="451.8" y="72.7" width="2" height="2" fill="#6e7dff" fill-opacity="0.17"/>
<rect x="348.7" y="147.5" width="2" height="2" fill="#6e7dff" fill-opacity="0.17"/>
<rect x="369.8" y="134.0" width="2" height="2" fill="#6e7dff" fill-opacity="0.17"/>
<rect x="422.6" y="93.2" width="2" height="2" fill="#6e7dff" fill-opacity="0.17"/>
<rect x="458.6" y="69.5" width="2" height="2" fill="#6e7dff" fill-opacity="0.17"/>
<rect x="412.7" y="101.2" width="2" height="2" fill="#6e7dff" fill-opacity="0.17"/>
<rect x="502.0" y="39.9" width="2" height="2" fill="#6e7dff" fill-opacity="0.17"/>
<rect x="533.0" y="12.4" width="2" height="2" fill="#6e7dff" fill-opacity="0.17"/>
<rect x="498.9" y="35.7" width="2" height="2" fill="#6e7dff" fill-opacity="0.17"/>
<rect x="441.3" y="82.5" width="2" height="2" fill="#6e7dff" fill-opacity="0.17"/>
<rect x="381.0" y="121.3" width="2" height="2" fill="#6e7dff" fill-opacity="0.17"/>
<rect x="381.1" y="121.7" width="2" height="2" fill="#6e7dff" fill-opacity="0.17"/>
<rect x="453.6" y="73.0" width="2" height="2" fill="#6e7dff" fill-opacity="0.17"/>
<rect x="416.4" y="98.2" width="2" height="2" fill="#6e7dff" fill-opacity="0.17"/>
<rect x="379.4" y="125.5" width="2" height="2" fill="#6e7dff" fill-opacity="0.17"/>
<rect x="511.3" y="22.7" width="2" height="2" fill="#6e7dff" fill-opacity="0.17"/>
<rect x="394.6" y="114.2" width="2" height="2" fill="#6e7dff" fill-opacity="0.17"/>
<rect x="416.4" y="95.1" width="2" height="2" fill="#6e7dff" fill-opacity="0.17"/>
<rect x="457.8" y="66.5" width="2" height="2" fill="#6e7dff" fill-opacity="0.17"/>
<rect x="494.9" y="44.1" width="2" height="2" fill="#6e7dff" fill-opacity="0.17"/>
<rect x="477.2" y="49.4" width="2" height="2" fill="#6e7dff" fill-opacity="0.17"/>
<rect x="419.9" y="95.1" width="2" height="2" fill="#6e7dff" fill-opacity="0.17"/>
<rect x="461.7" y="65.6" width="2" height="2" fill="#6e7dff" fill-opacity="0.17"/>
<rect x="414.1" y="95.3" width="2" height="2" fill="#6e7dff" fill-opacity="0.17"/>
<rect x="442.2" y="80.5" width="2" height="2" fill="#6e7dff" fill-opacity="0.17"/>
<rect x="339.7" y="154.1" width="2" height="2" fill="#6e7dff" fill-opacity="0.17"/>
<rect x="386.8" y="123.8" width="2" height="2" fill="#6e7dff" fill-opacity="0.17"/>
<rect x="360.6" y="137.9" width="2" height="2" fill="#6e7dff" fill-opacity="0.17"/>
<rect x="515.0" y="19.1" width="2" height="2" fill="#6e7dff" fill-opacity="0.17"/>
<rect x="387.0" y="119.6" width="2" height="2" fill="#6e7dff" fill-opacity="0.17"/>
<rect x="341.0" y="152.6" width="2" height="2" fill="#6e7dff" fill-opacity="0.17"/>
<rect x="390.7" y="116.8" width="2" height="2" fill="#6e7dff" fill-opacity="0.17"/>
<rect x="522.8" y="21.3" width="2" height="2" fill="#6e7dff" fill-opacity="0.17"/>
<rect x="500.2" y="40.2" width="2" height="2" fill="#6e7dff" fill-opacity="0.17"/>
<rect x="368.1" y="133.8" width="2" height="2" fill="#6e7dff" fill-opacity="0.17"/>
<rect x="406.4" y="104.7" width="2" height="2" fill="#6e7dff" fill-opacity="0.17"/>
<rect x="429.8" y="86.6" width="2" height="2" fill="#6e7dff" fill-opacity="0.17"/>
<rect x="464.9" y="63.4" width="2" height="2" fill="#6e7dff" fill-opacity="0.17"/>
<rect x="361.3" y="138.0" width="2" height="2" fill="#6e7dff" fill-opacity="0.17"/>
<rect x="447.1" y="73.7" width="2" height="2" fill="#6e7dff" fill-opacity="0.17"/>
<rect x="448.2" y="74.3" width="2" height="2" fill="#6e7dff" fill-opacity="0.17"/>
<rect x="522.3" y="22.1" width="2" height="2" fill="#6e7dff" fill-opacity="0.17"/>
<rect x="476.6" y="57.8" width="2" height="2" fill="#6e7dff" fill-opacity="0.17"/>
<rect x="368.3" y="134.3" width="2" height="2" fill="#6e7dff" fill-opacity="0.17"/>
<rect x="389.5" y="119.7" width="2" height="2" fill="#6e7dff" fill-opacity="0.17"/>
<rect x="526.4" y="17.4" width="2" height="2" fill="#6e7dff" fill-opacity="0.17"/>
<rect x="467.5" y="53.4" width="2" height="2" fill="#6e7dff" fill-opacity="0.17"/>
<rect x="424.0" y="90.1" width="2" height="2" fill="#6e7dff" fill-opacity="0.17"/>
<rect x="373.1" y="129.1" width="2" height="2" fill="#6e7dff" fill-opacity="0.17"/>
<rect x="504.7" y="36.2" width="2" height="2" fill="#6e7dff" fill-opacity="0.17"/>
<rect x="441.1" y="79.1" width="2" height="2" fill="#6e7dff" fill-opacity="0.17"/>
<rect x="423.8" y="89.3" width="2" height="2" fill="#6e7dff" fill-opacity="0.17"/>
<rect x="401.1" y="109.6" width="2" height="2" fill="#6e7dff" fill-opacity="0.17"/>
<rect x="382.0" y="123.2" width="2" height="2" fill="#6e7dff" fill-opacity="0.17"/>
<rect x="357.3" y="139.0" width="2" height="2" fill="#6e7dff" fill-opacity="0.17"/>
<rect x="479.8" y="49.9" width="2" height="2" fill="#6e7dff" fill-opacity="0.17"/>
<rect x="411.1" y="98.8" width="2" height="2" fill="#6e7dff" fill-opacity="0.17"/>
<rect x="463.2" y="64.7" width="2" height="2" fill="#6e7dff" fill-opacity="0.17"/>
<rect x="388.3" y="116.6" width="2" height="2" fill="#6e7dff" fill-opacity="0.17"/>
<rect x="502.6" y="35.1" width="2" height="2" fill="#6e7dff" fill-opacity="0.17"/>
<rect x="380.3" y="121.3" width="2" height="2" fill="#6e7dff" fill-opacity="0.17"/>
<rect x="368.1" y="133.8" width="2" height="2" fill="#6e7dff" fill-opacity="0.17"/>
<rect x="478.5" y="49.8" width="2" height="2" fill="#6e7dff" fill-opacity="0.17"/>
<rect x="406.3" y="103.0" width="2" height="2" fill="#6e7dff" fill-opacity="0.17"/>
<rect x="397.7" y="111.9" width="2" height="2" fill="#6e7dff" fill-opacity="0.17"/>
<rect x="410.6" y="100.6" width="2" height="2" fill="#6e7dff" fill-opacity="0.17"/>
<rect x="353.0" y="143.7" width="2" height="2" fill="#6e7dff" fill-opacity="0.17"/>
<rect x="474.5" y="56.8" width="2" height="2" fill="#6e7dff" fill-opacity="0.17"/>
<rect x="416.1" y="93.1" width="2" height="2" fill="#6e7dff" fill-opacity="0.17"/>
<rect x="473.1" y="56.3" width="2" height="2" fill="#6e7dff" fill-opacity="0.17"/>
<rect x="501.7" y="28.4" width="2" height="2" fill="#6e7dff" fill-opacity="0.17"/>
<rect x="413.1" y="102.2" width="2" height="2" fill="#6e7dff" fill-opacity="0.17"/>
<rect x="449.6" y="70.6" width="2" height="2" fill="#6e7dff" fill-opacity="0.17"/>
<rect x="396.4" y="111.3" width="2" height="2" fill="#6e7dff" fill-opacity="0.17"/>
<rect x="455.7" y="64.0" width="2" height="2" fill="#6e7dff" fill-opacity="0.17"/>
<rect x="349.8" y="146.4" width="2" height="2" fill="#6e7dff" fill-opacity="0.17"/>
<rect x="415.1" y="102.4" width="2" height="2" fill="#6e7dff" fill-opacity="0.17"/>
<rect x="457.8" y="66.2" width="2" height="2" fill="#6e7dff" fill-opacity="0.17"/>
<rect x="362.5" y="137.7" width="2" height="2" fill="#6e7dff" fill-opacity="0.17"/>
<rect x="454.6" y="70.6" width="2" height="2" fill="#6e7dff" fill-opacity="0.17"/>
<rect x="413.2" y="97.4" width="2" height="2" fill="#6e7dff" fill-opacity="0.17"/>
<rect x="385.6" y="120.6" width="2" height="2" fill="#6e7dff" fill-opacity="0.17"/>
<rect x="392.9" y="112.9" width="2" height="2" fill="#6e7dff" fill-opacity="0.17"/>
<rect x="380.1" y="124.6" width="2" height="2" fill="#6e7dff" fill-opacity="0.17"/>
<rect x="437.7" y="84.2" width="2" height="2" fill="#6e7dff" fill-opacity="0.17"/>
<rect x="350.7" y="149.2" width="2" height="2" fill="#6e7dff" fill-opacity="0.17"/>
<rect x="396.7" y="112.3" width="2" height="2" fill="#6e7dff" fill-opacity="0.17"/>
<rect x="470.0" y="60.7" width="2" height="2" fill="#6e7dff" fill-opacity="0.17"/>
<rect x="466.6" y="59.5" width="2" height="2" fill="#6e7dff" fill-opacity="0.17"/>
<rect x="367.9" y="132.8" width="2" height="2" fill="#6e7dff" fill-opacity="0.17"/>
<rect x="391.8" y="114.8" width="2" height="2" fill="#6e7dff" fill-opacity="0.17"/>
<rect x="356.6" y="140.2" width="2" height="2" fill="#6e7dff" fill-opacity="0.17"/>
<rect x="342.0" y="154.8" width="2" height="2" fill="#6e7dff" fill-opacity="0.17"/>
<rect x="364.7" y="136.0" width="2" height="2" fill="#6e7dff" fill-opacity="0.17"/>
<rect x="353.1" y="144.1" width="2" height="2" fill="#6e7dff" fill-opacity="0.17"/>
<rect x="361.2" y="138.8" width="2" height="2" fill="#6e7dff" fill-opacity="0.17"/>
<rect x="428.7" y="89.4" width="2" height="2" fill="#6e7dff" fill-opacity="0.17"/>
<rect x="431.9" y="82.0" width="2" height="2" fill="#6e7dff" fill-opacity="0.17"/>
<rect x="435.4" y="83.7" width="2" height="2" fill="#6e7dff" fill-opacity="0.17"/>
<rect x="497.4" y="36.9" width="2" height="2" fill="#6e7dff" fill-opacity="0.17"/>
<rect x="408.5" y="102.7" width="2" height="2" fill="#6e7dff" fill-opacity="0.17"/>
<rect x="416.9" y="97.8" width="2" height="2" fill="#6e7dff" fill-opacity="0.17"/>
<rect x="438.7" y="80.3" width="2" height="2" fill="#6e7dff" fill-opacity="0.17"/>
<rect x="522.0" y="18.2" width="2" height="2" fill="#6e7dff" fill-opacity="0.17"/>
<rect x="522.7" y="14.8" width="2" height="2" fill="#6e7dff" fill-opacity="0.17"/>
<rect x="478.8" y="51.2" width="2" height="2" fill="#6e7dff" fill-opacity="0.17"/>
<rect x="451.4" y="72.9" width="2" height="2" fill="#6e7dff" fill-opacity="0.17"/>
<rect x="459.8" y="65.0" width="2" height="2" fill="#6e7dff" fill-opacity="0.17"/>
<rect x="419.1" y="95.5" width="2" height="2" fill="#6e7dff" fill-opacity="0.17"/>
<rect x="389.8" y="117.4" width="2" height="2" fill="#6e7dff" fill-opacity="0.17"/>
<rect x="356.3" y="141.5" width="2" height="2" fill="#6e7dff" fill-opacity="0.17"/>
<rect x="388.3" y="120.2" width="2" height="2" fill="#6e7dff" fill-opacity="0.17"/>
<rect x="489.1" y="45.9" width="2" height="2" fill="#6e7dff" fill-opacity="0.17"/>
<rect x="409.0" y="102.9" width="2" height="2" fill="#6e7dff" fill-opacity="0.17"/>
<rect x="338.6" y="154.4" width="2" height="2" fill="#6e7dff" fill-opacity="0.17"/>
<rect x="527.7" y="14.7" width="2" height="2" fill="#6e7dff" fill-opacity="0.17"/>
<rect x="509.8" y="35.1" width="2" height="2" fill="#6e7dff" fill-opacity="0.17"/>
<rect x="438.6" y="82.4" width="2" height="2" fill="#6e7dff" fill-opacity="0.17"/>
<rect x="468.0" y="56.9" width="2" height="2" fill="#6e7dff" fill-opacity="0.17"/>
<rect x="453.4" y="68.3" width="2" height="2" fill="#6e7dff" fill-opacity="0.17"/>
<rect x="412.3" y="101.4" width="2" height="2" fill="#6e7dff" fill-opacity="0.17"/>
<rect x="462.5" y="65.2" width="2" height="2" fill="#6e7dff" fill-opacity="0.17"/>
<rect x="373.6" y="130.8" width="2" height="2" fill="#6e7dff" fill-opacity="0.17"/>
<rect x="435.9" y="82.7" width="2" height="2" fill="#6e7dff" fill-opacity="0.17"/>
<rect x="346.6" y="148.8" width="2" height="2" fill="#6e7dff" fill-opacity="0.17"/>
<rect x="365.9" y="131.9" width="2" height="2" fill="#6e7dff" fill-opacity="0.17"/>
<rect x="425.8" y="87.2" width="2" height="2" fill="#6e7dff" fill-opacity="0.17"/>
<rect x="479.0" y="51.1" width="2" height="2" fill="#6e7dff" fill-opacity="0.17"/>
<rect x="486.8" y="42.5" width="2" height="2" fill="#6e7dff" fill-opacity="0.17"/>
<rect x="409.7" y="102.7" width="2" height="2" fill="#6e7dff" fill-opacity="0.17"/>
<rect x="483.4" y="44.6" width="2" height="2" fill="#6e7dff" fill-opacity="0.17"/>
<rect x="385.5" y="119.8" width="2" height="2" fill="#6e7dff" fill-opacity="0.17"/>
<rect x="442.2" y="78.7" width="2" height="2" fill="#6e7dff" fill-opacity="0.17"/>
<rect x="432.0" y="90.3" width="2" height="2" fill="#6e7dff" fill-opacity="0.17"/>
<rect x="470.2" y="54.1" width="2" height="2" fill="#6e7dff" fill-opacity="0.17"/>
<rect x="520.8" y="17.9" width="2" height="2" fill="#6e7dff" fill-opacity="0.17"/>
<rect x="454.3" y="72.3" width="2" height="2" fill="#6e7dff" fill-opacity="0.17"/>
<rect x="412.9" y="99.7" width="2" height="2" fill="#6e7dff" fill-opacity="0.17"/>
<rect x="368.2" y="131.9" width="2" height="2" fill="#6e7dff" fill-opacity="0.17"/>
<rect x="433.8" y="80.5" width="2" height="2" fill="#6e7dff" fill-opacity="0.17"/>
<rect x="343.9" y="153.0" width="2" height="2" fill="#6e7dff" fill-opacity="0.17"/>
<rect x="461.7" y="67.0" width="2" height="2" fill="#6e7dff" fill-opacity="0.17"/>
<rect x="368.4" y="131.7" width="2" height="2" fill="#6e7dff" fill-opacity="0.17"/>
<rect x="432.3" y="86.0" width="2" height="2" fill="#6e7dff" fill-opacity="0.17"/>
<rect x="422.5" y="91.9" width="2" height="2" fill="#6e7dff" fill-opacity="0.17"/>
<rect x="369.6" y="130.7" width="2" height="2" fill="#6e7dff" fill-opacity="0.17"/>
<rect x="366.1" y="132.0" width="2" height="2" fill="#6e7dff" fill-opacity="0.17"/>
<rect x="464.9" y="60.5" width="2" height="2" fill="#6e7dff" fill-opacity="0.17"/>
<rect x="381.7" y="121.0" width="2" height="2" fill="#6e7dff" fill-opacity="0.17"/>
<rect x="421.8" y="94.0" width="2" height="2" fill="#6e7dff" fill-opacity="0.17"/>
<rect x="520.3" y="22.5" width="2" height="2" fill="#6e7dff" fill-opacity="0.17"/>
<rect x="481.8" y="51.4" width="2" height="2" fill="#6e7dff" fill-opacity="0.17"/>
<rect x="480.4" y="50.4" width="2" height="2" fill="#6e7dff" fill-opacity="0.17"/>
<rect x="478.7" y="50.3" width="2" height="2" fill="#6e7dff" fill-opacity="0.17"/>
<rect x="482.0" y="49.9" width="2" height="2" fill="#6e7dff" fill-opacity="0.17"/>
<rect x="481.2" y="50.2" width="2" height="2" fill="#6e7dff" fill-opacity="0.17"/>
<rect x="367.5" y="132.7" width="2" height="2" fill="#6e7dff" fill-opacity="0.17"/>
<rect x="458.7" y="69.4" width="2" height="2" fill="#6e7dff" fill-opacity="0.17"/>
<rect x="349.9" y="148.2" width="2" height="2" fill="#6e7dff" fill-opacity="0.17"/>
<rect x="356.1" y="139.9" width="2" height="2" fill="#6e7dff" fill-opacity="0.17"/>
<rect x="343.9" y="153.4" width="2" height="2" fill="#6e7dff" fill-opacity="0.17"/>
<rect x="457.2" y="64.5" width="2" height="2" fill="#6e7dff" fill-opacity="0.17"/>
<rect x="377.7" y="122.9" width="2" height="2" fill="#6e7dff" fill-opacity="0.17"/>
<rect x="502.1" y="31.2" width="2" height="2" fill="#6e7dff" fill-opacity="0.17"/>
<rect x="472.1" y="54.9" width="2" height="2" fill="#6e7dff" fill-opacity="0.17"/>
<rect x="339.6" y="151.6" width="2" height="2" fill="#6e7dff" fill-opacity="0.17"/>
<rect x="367.0" y="135.7" width="2" height="2" fill="#6e7dff" fill-opacity="0.17"/>
<rect x="343.5" y="147.7" width="2" height="2" fill="#6e7dff" fill-opacity="0.17"/>
<rect x="364.9" y="135.6" width="2" height="2" fill="#6e7dff" fill-opacity="0.17"/>
<rect x="384.8" y="123.8" width="2" height="2" fill="#6e7dff" fill-opacity="0.17"/>
<rect x="350.1" y="143.8" width="2" height="2" fill="#6e7dff" fill-opacity="0.17"/>
<rect x="516.3" y="29.9" width="2" height="2" fill="#6e7dff" fill-opacity="0.17"/>
<rect x="444.1" y="73.4" width="2" height="2" fill="#6e7dff" fill-opacity="0.17"/>
<rect x="461.3" y="61.9" width="2" height="2" fill="#6e7dff" fill-opacity="0.17"/>
<rect x="499.7" y="35.5" width="2" height="2" fill="#6e7dff" fill-opacity="0.17"/>
<rect x="531.0" y="16.4" width="2" height="2" fill="#6e7dff" fill-opacity="0.17"/>
<rect x="422.9" y="95.5" width="2" height="2" fill="#6e7dff" fill-opacity="0.17"/>
<rect x="490.5" y="41.2" width="2" height="2" fill="#6e7dff" fill-opacity="0.17"/>
<rect x="448.5" y="71.7" width="2" height="2" fill="#6e7dff" fill-opacity="0.17"/>
<rect x="513.6" y="26.3" width="2" height="2" fill="#6e7dff" fill-opacity="0.17"/>
<rect x="509.7" y="28.7" width="2" height="2" fill="#6e7dff" fill-opacity="0.17"/>
<rect x="451.3" y="71.0" width="2" height="2" fill="#6e7dff" fill-opacity="0.17"/>
<rect x="455.2" y="65.5" width="2" height="2" fill="#6e7dff" fill-opacity="0.17"/>
<rect x="477.0" y="53.4" width="2" height="2" fill="#6e7dff" fill-opacity="0.17"/>
<rect x="484.4" y="45.0" width="2" height="2" fill="#6e7dff" fill-opacity="0.17"/>
<rect x="418.2" y="93.1" width="2" height="2" fill="#6e7dff" fill-opacity="0.17"/>
<rect x="375.1" y="128.1" width="2" height="2" fill="#6e7dff" fill-opacity="0.17"/>
<rect x="479.2" y="48.3" width="2" height="2" fill="#6e7dff" fill-opacity="0.17"/>
<rect x="441.2" y="79.3" width="2" height="2" fill="#6e7dff" fill-opacity="0.17"/>
<rect x="490.3" y="41.8" width="2" height="2" fill="#6e7dff" fill-opacity="0.17"/>
<rect x="483.2" y="45.4" width="2" height="2" fill="#6e7dff" fill-opacity="0.17"/>
<rect x="347.9" y="150.3" width="2" height="2" fill="#6e7dff" fill-opacity="0.17"/>
<rect x="387.4" y="120.3" width="2" height="2" fill="#6e7dff" fill-opacity="0.17"/>
<rect x="498.1" y="36.3" width="2" height="2" fill="#6e7dff" fill-opacity="0.17"/>
<rect x="372.9" y="127.5" width="2" height="2" fill="#6e7dff" fill-opacity="0.17"/>
<rect x="345.8" y="149.3" width="2" height="2" fill="#6e7dff" fill-opacity="0.17"/>
<rect x="342.4" y="153.6" width="2" height="2" fill="#6e7dff" fill-opacity="0.17"/>
<rect x="439.2" y="82.4" width="2" height="2" fill="#6e7dff" fill-opacity="0.17"/>
<rect x="349.1" y="148.8" width="2" height="2" fill="#6e7dff" fill-opacity="0.17"/>
<rect x="391.8" y="116.3" width="2" height="2" fill="#6e7dff" fill-opacity="0.17"/>
<rect x="376.4" y="125.7" width="2" height="2" fill="#6e7dff" fill-opacity="0.17"/>
<rect x="404.0" y="104.5" width="2" height="2" fill="#6e7dff" fill-opacity="0.17"/>
<rect x="448.1" y="74.8" width="2" height="2" fill="#6e7dff" fill-opacity="0.17"/>
<rect x="452.6" y="72.3" width="2" height="2" fill="#6e7dff" fill-opacity="0.17"/>
<rect x="383.0" y="122.0" width="2" height="2" fill="#6e7dff" fill-opacity="0.17"/>
<rect x="449.9" y="74.2" width="2" height="2" fill="#6e7dff" fill-opacity="0.17"/>
<rect x="479.5" y="49.6" width="2" height="2" fill="#6e7dff" fill-opacity="0.17"/>
<rect x="517.0" y="26.5" width="2" height="2" fill="#6e7dff" fill-opacity="0.17"/>
<rect x="533.0" y="10.3" width="2" height="2" fill="#6e7dff" fill-opacity="0.17"/>
<rect x="384.6" y="122.5" width="2" height="2" fill="#6e7dff" fill-opacity="0.17"/>
<rect x="456.6" y="66.5" width="2" height="2" fill="#6e7dff" fill-opacity="0.17"/>
<rect x="353.2" y="143.3" width="2" height="2" fill="#6e7dff" fill-opacity="0.17"/>
<rect x="461.6" y="68.3" width="2" height="2" fill="#6e7dff" fill-opacity="0.17"/>
<rect x="494.4" y="35.4" width="2" height="2" fill="#6e7dff" fill-opacity="0.17"/>
<rect x="437.0" y="83.1" width="2" height="2" fill="#6e7dff" fill-opacity="0.17"/>
<rect x="346.1" y="148.1" width="2" height="2" fill="#6e7dff" fill-opacity="0.17"/>
<rect x="356.0" y="141.0" width="2" height="2" fill="#6e7dff" fill-opacity="0.17"/>
<rect x="339.4" y="155.1" width="2" height="2" fill="#6e7dff" fill-opacity="0.17"/>
<rect x="531.7" y="16.1" width="2" height="2" fill="#6e7dff" fill-opacity="0.17"/>
<rect x="421.1" y="91.2" width="2" height="2" fill="#6e7dff" fill-opacity="0.17"/>
<rect x="529.2" y="10.8" width="2" height="2" fill="#6e7dff" fill-opacity="0.17"/>
<rect x="460.9" y="63.0" width="2" height="2" fill="#6e7dff" fill-opacity="0.17"/>
<rect x="341.8" y="151.3" width="2" height="2" fill="#6e7dff" fill-opacity="0.17"/>
<rect x="467.3" y="60.9" width="2" height="2" fill="#6e7dff" fill-opacity="0.17"/>
<rect x="350.5" y="145.4" width="2" height="2" fill="#6e7dff" fill-opacity="0.17"/>
<rect x="490.6" y="41.8" width="2" height="2" fill="#6e7dff" fill-opacity="0.17"/>
<rect x="523.5" y="14.8" width="2" height="2" fill="#6e7dff" fill-opacity="0.17"/>
<rect x="352.6" y="145.4" width="2" height="2" fill="#6e7dff" fill-opacity="0.17"/>
<rect x="488.2" y="49.1" width="2" height="2" fill="#6e7dff" fill-opacity="0.17"/>
<rect x="458.2" y="66.6" width="2" height="2" fill="#6e7dff" fill-opacity="0.17"/>
<rect x="444.1" y="76.1" width="2" height="2" fill="#6e7dff" fill-opacity="0.17"/>
<rect x="351.0" y="144.9" width="2" height="2" fill="#6e7dff" fill-opacity="0.17"/>
<rect x="417.0" y="98.2" width="2" height="2" fill="#6e7dff" fill-opacity="0.17"/>
<rect x="345.6" y="145.9" width="2" height="2" fill="#6e7dff" fill-opacity="0.17"/>
<rect x="484.4" y="46.1" width="2" height="2" fill="#6e7dff" fill-opacity="0.17"/>
<rect x="519.3" y="20.2" width="2" height="2" fill="#6e7dff" fill-opacity="0.17"/>
<rect x="375.7" y="129.3" width="2" height="2" fill="#6e7dff" fill-opacity="0.17"/>
<rect x="410.4" y="103.3" width="2" height="2" fill="#6e7dff" fill-opacity="0.17"/>
<rect x="400.7" y="106.9" width="2" height="2" fill="#6e7dff" fill-opacity="0.17"/>
<rect x="405.0" y="103.2" width="2" height="2" fill="#6e7dff" fill-opacity="0.17"/>
<rect x="451.3" y="71.1" width="2" height="2" fill="#6e7dff" fill-opacity="0.17"/>
<rect x="415.2" y="99.0" width="2" height="2" fill="#6e7dff" fill-opacity="0.17"/>
<rect x="401.3" y="105.9" width="2" height="2" fill="#6e7dff" fill-opacity="0.17"/>
<rect x="371.5" y="131.5" width="2" height="2" fill="#6e7dff" fill-opacity="0.17"/>
<rect x="422.2" y="90.3" width="2" height="2" fill="#6e7dff" fill-opacity="0.17"/>
<rect x="349.0" y="146.9" width="2" height="2" fill="#6e7dff" fill-opacity="0.17"/>
<rect x="360.8" y="140.5" width="2" height="2" fill="#6e7dff" fill-opacity="0.17"/>
<rect x="374.5" y="128.4" width="2" height="2" fill="#6e7dff" fill-opacity="0.17"/>
<rect x="447.6" y="75.6" width="2" height="2" fill="#6e7dff" fill-opacity="0.17"/>
<rect x="346.1" y="147.0" width="2" height="2" fill="#6e7dff" fill-opacity="0.17"/>
<rect x="501.8" y="35.8" width="2" height="2" fill="#6e7dff" fill-opacity="0.17"/>
<rect x="389.2" y="117.0" width="2" height="2" fill="#6e7dff" fill-opacity="0.17"/>
<rect x="456.9" y="62.8" width="2" height="2" fill="#6e7dff" fill-opacity="0.17"/>
<rect x="376.0" y="124.9" width="2" height="2" fill="#6e7dff" fill-opacity="0.17"/>
<rect x="412.7" y="97.9" width="2" height="2" fill="#6e7dff" fill-opacity="0.17"/>
<rect x="527.7" y="13.5" width="2" height="2" fill="#6e7dff" fill-opacity="0.17"/>
<rect x="369.6" y="130.9" width="2" height="2" fill="#6e7dff" fill-opacity="0.17"/>
<rect x="459.4" y="62.6" width="2" height="2" fill="#6e7dff" fill-opacity="0.17"/>
<rect x="361.7" y="137.3" width="2" height="2" fill="#6e7dff" fill-opacity="0.17"/>
<rect x="379.4" y="122.1" width="2" height="2" fill="#6e7dff" fill-opacity="0.17"/>
<rect x="342.2" y="153.1" width="2" height="2" fill="#6e7dff" fill-opacity="0.17"/>
<rect x="494.3" y="45.1" width="2" height="2" fill="#6e7dff" fill-opacity="0.17"/>
<rect x="504.8" y="31.4" width="2" height="2" fill="#6e7dff" fill-opacity="0.17"/>
<rect x="451.1" y="69.6" width="2" height="2" fill="#6e7dff" fill-opacity="0.17"/>
<rect x="454.4" y="71.5" width="2" height="2" fill="#6e7dff" fill-opacity="0.17"/>
<rect x="378.4" y="127.1" width="2" height="2" fill="#6e7dff" fill-opacity="0.17"/>
<rect x="379.3" y="124.2" width="2" height="2" fill="#6e7dff" fill-opacity="0.17"/>
<rect x="447.2" y="74.1" width="2" height="2" fill="#6e7dff" fill-opacity="0.17"/>
<rect x="351.8" y="142.2" width="2" height="2" fill="#6e7dff" fill-opacity="0.17"/>
<rect x="362.3" y="140.3" width="2" height="2" fill="#6e7dff" fill-opacity="0.17"/>
<rect x="528.6" y="14.6" width="2" height="2" fill="#6e7dff" fill-opacity="0.17"/>
<rect x="407.2" y="104.2" width="2" height="2" fill="#6e7dff" fill-opacity="0.17"/>
<rect x="402.9" y="107.6" width="2" height="2" fill="#6e7dff" fill-opacity="0.17"/>
<rect x="380.2" y="123.4" width="2" height="2" fill="#6e7dff" fill-opacity="0.17"/>
<rect x="340.7" y="154.9" width="2" height="2" fill="#6e7dff" fill-opacity="0.17"/>
<rect x="378.0" y="125.0" width="2" height="2" fill="#6e7dff" fill-opacity="0.17"/>
<rect x="519.6" y="18.2" width="2" height="2" fill="#6e7dff" fill-opacity="0.17"/>
<rect x="493.4" y="42.6" width="2" height="2" fill="#6e7dff" fill-opacity="0.17"/>
<rect x="401.4" y="108.3" width="2" height="2" fill="#6e7dff" fill-opacity="0.17"/>
<rect x="401.1" y="112.1" width="2" height="2" fill="#6e7dff" fill-opacity="0.17"/>
<rect x="480.4" y="51.0" width="2" height="2" fill="#6e7dff" fill-opacity="0.17"/>
<rect x="414.3" y="97.7" width="2" height="2" fill="#6e7dff" fill-opacity="0.17"/>
<line x1="340.5" y1="154.5" x2="536.5" y2="9.5" stroke="#ff2a2a" stroke-width="1.6" stroke-opacity="0.65"/>
</g>
<path d="M340.5,9.5H536.5V154.5H340.5Z" fill="none" stroke="#5a5a5a" stroke-width="1"/>
<line x1="360.10" y1="9.5" x2="360.10" y2="11.3" stroke="#5a5a5a" stroke-width="0.9"/>
<line x1="536.5" y1="24.00" x2="534.7" y2="24.00" stroke="#5a5a5a" stroke-width="0.9"/>
<line x1="379.70" y1="9.5" x2="379.70" y2="11.3" stroke="#5a5a5a" stroke-width="0.9"/>
<line x1="536.5" y1="38.50" x2="534.7" y2="38.50" stroke="#5a5a5a" stroke-width="0.9"/>
<line x1="399.30" y1="9.5" x2="399.30" y2="11.3" stroke="#5a5a5a" stroke-width="0.9"/>
<line x1="536.5" y1="53.00" x2="534.7" y2="53.00" stroke="#5a5a5a" stroke-width="0.9"/>
<line x1="418.90" y1="9.5" x2="418.90" y2="11.3" stroke="#5a5a5a" stroke-width="0.9"/>
<line x1="536.5" y1="67.50" x2="534.7" y2="67.50" stroke="#5a5a5a" stroke-width="0.9"/>
<line x1="438.50" y1="9.5" x2="438.50" y2="11.3" stroke="#5a5a5a" stroke-width="0.9"/>
<line x1="536.5" y1="82.00" x2="534.7" y2="82.00" stroke="#5a5a5a" stroke-width="0.9"/>
<line x1="458.10" y1="9.5" x2="458.10" y2="11.3" stroke="#5a5a5a" stroke-width="0.9"/>
<line x1="536.5" y1="96.50" x2="534.7" y2="96.50" stroke="#5a5a5a" stroke-width="0.9"/>
<line x1="477.70" y1="9.5" x2="477.70" y2="11.3" stroke="#5a5a5a" stroke-width="0.9"/>
<line x1="536.5" y1="111.00" x2="534.7" y2="111.00" stroke="#5a5a5a" stroke-width="0.9"/>
<line x1="497.30" y1="9.5" x2="497.30" y2="11.3" stroke="#5a5a5a" stroke-width="0.9"/>
<line x1="536.5" y1="125.50" x2="534.7" y2="125.50" stroke="#5a5a5a" stroke-width="0.9"/>
<line x1="516.90" y1="9.5" x2="516.90" y2="11.3" stroke="#5a5a5a" stroke-width="0.9"/>
<line x1="536.5" y1="140.00" x2="534.7" y2="140.00" stroke="#5a5a5a" stroke-width="0.9"/>
<line x1="340.5" y1="132.70" x2="338.3" y2="132.70" stroke="#5a5a5a" stroke-width="0.9"/>
<line x1="340.5" y1="101.95" x2="338.3" y2="101.95" stroke="#5a5a5a" stroke-width="0.9"/>
<line x1="340.5" y1="71.20" x2="338.3" y2="71.20" stroke="#5a5a5a" stroke-width="0.9"/>
<line x1="340.5" y1="40.45" x2="338.3" y2="40.45" stroke="#5a5a5a" stroke-width="0.9"/>
<line x1="340.5" y1="9.70" x2="338.3" y2="9.70" stroke="#5a5a5a" stroke-width="0.9"/>
<line x1="340.5" y1="148.07" x2="339.3" y2="148.07" stroke="#5a5a5a" stroke-width="0.9"/>
<line x1="340.5" y1="117.32" x2="339.3" y2="117.32" stroke="#5a5a5a" stroke-width="0.9"/>
<line x1="340.5" y1="86.57" x2="339.3" y2="86.57" stroke="#5a5a5a" stroke-width="0.9"/>
<line x1="340.5" y1="55.82" x2="339.3" y2="55.82" stroke="#5a5a5a" stroke-width="0.9"/>
<line x1="340.5" y1="25.07" x2="339.3" y2="25.07" stroke="#5a5a5a" stroke-width="0.9"/>
<line x1="370.00" y1="154.5" x2="370.00" y2="156.7" stroke="#5a5a5a" stroke-width="0.9"/>
<line x1="411.60" y1="154.5" x2="411.60" y2="156.7" stroke="#5a5a5a" stroke-width="0.9"/>
<line x1="453.20" y1="154.5" x2="453.20" y2="156.7" stroke="#5a5a5a" stroke-width="0.9"/>
<line x1="494.80" y1="154.5" x2="494.80" y2="156.7" stroke="#5a5a5a" stroke-width="0.9"/>
<line x1="536.40" y1="154.5" x2="536.40" y2="156.7" stroke="#5a5a5a" stroke-width="0.9"/>
<line x1="349.20" y1="154.5" x2="349.20" y2="155.7" stroke="#5a5a5a" stroke-width="0.9"/>
<line x1="390.80" y1="154.5" x2="390.80" y2="155.7" stroke="#5a5a5a" stroke-width="0.9"/>
<line x1="432.40" y1="154.5" x2="432.40" y2="155.7" stroke="#5a5a5a" stroke-width="0.9"/>
<line x1="474.00" y1="154.5" x2="474.00" y2="155.7" stroke="#5a5a5a" stroke-width="0.9"/>
<line x1="515.60" y1="154.5" x2="515.60" y2="155.7" stroke="#5a5a5a" stroke-width="0.9"/>
<text transform="translate(336.00,136.30) scale(0.92,1)" font-size="13" text-anchor="end">20</text>
<text transform="translate(370.00,169.10) scale(0.92,1)" font-size="13" text-anchor="middle">20</text>
<text transform="translate(336.00,105.55) scale(0.92,1)" font-size="13" text-anchor="end">40</text>
<text transform="translate(411.60,169.10) scale(0.92,1)" font-size="13" text-anchor="middle">40</text>
<text transform="translate(336.00,74.80) scale(0.92,1)" font-size="13" text-anchor="end">60</text>
<text transform="translate(453.20,169.10) scale(0.92,1)" font-size="13" text-anchor="middle">60</text>
<text transform="translate(336.00,44.05) scale(0.92,1)" font-size="13" text-anchor="end">80</text>
<text transform="translate(494.80,169.10) scale(0.92,1)" font-size="13" text-anchor="middle">80</text>
<text transform="translate(336.00,13.30) scale(0.92,1)" font-size="13" text-anchor="end">100</text>
<text transform="translate(536.40,169.10) scale(0.92,1)" font-size="13" text-anchor="middle">100</text>
<text x="438.2" y="189.2" font-size="13" text-anchor="middle">Q<tspan font-size="9" dy="4.8">0</tspan><tspan dy="-4.8"> simulations(fF)</tspan></text>
<text transform="translate(307.6,86.6) rotate(-90)" font-size="13" text-anchor="middle">Q<tspan font-size="9" dy="4.8">0</tspan><tspan dy="-4.8"> predictions(fF)</tspan></text>
<text x="519.20" y="146.40" font-size="13" text-anchor="middle" >(b)</text>
<rect x="51.40" y="331.83" width="11.6" height="12.67" fill="#404cff"/>
<text transform="translate(57.50,328.43) scale(0.92,1)" font-size="10.3" text-anchor="middle">32</text>
<rect x="80.00" y="320.74" width="11.6" height="23.76" fill="#404cff"/>
<text transform="translate(86.10,317.34) scale(0.92,1)" font-size="10.3" text-anchor="middle">60</text>
<rect x="108.60" y="320.34" width="11.6" height="24.16" fill="#404cff"/>
<text transform="translate(114.70,316.94) scale(0.92,1)" font-size="10.3" text-anchor="middle">61</text>
<rect x="137.20" y="300.94" width="11.6" height="43.56" fill="#404cff"/>
<text transform="translate(143.30,297.54) scale(0.92,1)" font-size="10.3" text-anchor="middle">110</text>
<rect x="165.80" y="278.76" width="11.6" height="65.74" fill="#404cff"/>
<text transform="translate(171.90,275.36) scale(0.92,1)" font-size="10.3" text-anchor="middle">166</text>
<rect x="194.40" y="288.66" width="11.6" height="55.84" fill="#404cff"/>
<text transform="translate(200.50,285.26) scale(0.92,1)" font-size="10.3" text-anchor="middle">141</text>
<rect x="223.00" y="308.86" width="11.6" height="35.64" fill="#404cff"/>
<text transform="translate(229.10,305.46) scale(0.92,1)" font-size="10.3" text-anchor="middle">90</text>
<rect x="63.00" y="342.12" width="11.6" height="2.38" fill="#ff3a3a"/>
<text transform="translate(69.10,338.72) scale(0.92,1)" font-size="10.3" text-anchor="middle">6</text>
<rect x="91.60" y="329.45" width="11.6" height="15.05" fill="#ff3a3a"/>
<text transform="translate(97.70,326.05) scale(0.92,1)" font-size="10.3" text-anchor="middle">38</text>
<rect x="120.20" y="337.77" width="11.6" height="6.73" fill="#ff3a3a"/>
<text transform="translate(126.30,334.37) scale(0.92,1)" font-size="10.3" text-anchor="middle">17</text>
<rect x="148.80" y="334.20" width="11.6" height="10.30" fill="#ff3a3a"/>
<text transform="translate(154.90,330.80) scale(0.92,1)" font-size="10.3" text-anchor="middle">26</text>
<rect x="177.40" y="316.38" width="11.6" height="28.12" fill="#ff3a3a"/>
<text transform="translate(183.50,312.98) scale(0.92,1)" font-size="10.3" text-anchor="middle">71</text>
<rect x="206.00" y="280.35" width="11.6" height="64.15" fill="#ff3a3a"/>
<text transform="translate(212.10,276.95) scale(0.92,1)" font-size="10.3" text-anchor="middle">162</text>
<rect x="234.60" y="209.86" width="11.6" height="134.64" fill="#ff3a3a"/>
<text transform="translate(240.70,206.46) scale(0.92,1)" font-size="10.3" text-anchor="middle">340</text>
<path d="M49.2,196.5H247.5V344.5H49.2Z" fill="none" stroke="#5a5a5a" stroke-width="1"/>
<line x1="69.03" y1="196.5" x2="69.03" y2="198.3" stroke="#5a5a5a" stroke-width="0.9"/>
<line x1="247.5" y1="211.30" x2="245.7" y2="211.30" stroke="#5a5a5a" stroke-width="0.9"/>
<line x1="88.86" y1="196.5" x2="88.86" y2="198.3" stroke="#5a5a5a" stroke-width="0.9"/>
<line x1="247.5" y1="226.10" x2="245.7" y2="226.10" stroke="#5a5a5a" stroke-width="0.9"/>
<line x1="108.69" y1="196.5" x2="108.69" y2="198.3" stroke="#5a5a5a" stroke-width="0.9"/>
<line x1="247.5" y1="240.90" x2="245.7" y2="240.90" stroke="#5a5a5a" stroke-width="0.9"/>
<line x1="128.52" y1="196.5" x2="128.52" y2="198.3" stroke="#5a5a5a" stroke-width="0.9"/>
<line x1="247.5" y1="255.70" x2="245.7" y2="255.70" stroke="#5a5a5a" stroke-width="0.9"/>
<line x1="148.35" y1="196.5" x2="148.35" y2="198.3" stroke="#5a5a5a" stroke-width="0.9"/>
<line x1="247.5" y1="270.50" x2="245.7" y2="270.50" stroke="#5a5a5a" stroke-width="0.9"/>
<line x1="168.18" y1="196.5" x2="168.18" y2="198.3" stroke="#5a5a5a" stroke-width="0.9"/>
<line x1="247.5" y1="285.30" x2="245.7" y2="285.30" stroke="#5a5a5a" stroke-width="0.9"/>
<line x1="188.01" y1="196.5" x2="188.01" y2="198.3" stroke="#5a5a5a" stroke-width="0.9"/>
<line x1="247.5" y1="300.10" x2="245.7" y2="300.10" stroke="#5a5a5a" stroke-width="0.9"/>
<line x1="207.84" y1="196.5" x2="207.84" y2="198.3" stroke="#5a5a5a" stroke-width="0.9"/>
<line x1="247.5" y1="314.90" x2="245.7" y2="314.90" stroke="#5a5a5a" stroke-width="0.9"/>
<line x1="227.67" y1="196.5" x2="227.67" y2="198.3" stroke="#5a5a5a" stroke-width="0.9"/>
<line x1="247.5" y1="329.70" x2="245.7" y2="329.70" stroke="#5a5a5a" stroke-width="0.9"/>
<line x1="49.2" y1="344.50" x2="47.0" y2="344.50" stroke="#5a5a5a" stroke-width="0.9"/>
<line x1="49.2" y1="304.90" x2="47.0" y2="304.90" stroke="#5a5a5a" stroke-width="0.9"/>
<line x1="49.2" y1="265.30" x2="47.0" y2="265.30" stroke="#5a5a5a" stroke-width="0.9"/>
<line x1="49.2" y1="225.70" x2="47.0" y2="225.70" stroke="#5a5a5a" stroke-width="0.9"/>
<line x1="49.2" y1="324.70" x2="48.0" y2="324.70" stroke="#5a5a5a" stroke-width="0.9"/>
<line x1="49.2" y1="285.10" x2="48.0" y2="285.10" stroke="#5a5a5a" stroke-width="0.9"/>
<line x1="49.2" y1="245.50" x2="48.0" y2="245.50" stroke="#5a5a5a" stroke-width="0.9"/>
<line x1="49.2" y1="205.90" x2="48.0" y2="205.90" stroke="#5a5a5a" stroke-width="0.9"/>
<line x1="63.00" y1="344.5" x2="63.00" y2="346.7" stroke="#5a5a5a" stroke-width="0.9"/>
<line x1="91.60" y1="344.5" x2="91.60" y2="346.7" stroke="#5a5a5a" stroke-width="0.9"/>
<line x1="120.20" y1="344.5" x2="120.20" y2="346.7" stroke="#5a5a5a" stroke-width="0.9"/>
<line x1="148.80" y1="344.5" x2="148.80" y2="346.7" stroke="#5a5a5a" stroke-width="0.9"/>
<line x1="177.40" y1="344.5" x2="177.40" y2="346.7" stroke="#5a5a5a" stroke-width="0.9"/>
<line x1="206.00" y1="344.5" x2="206.00" y2="346.7" stroke="#5a5a5a" stroke-width="0.9"/>
<line x1="234.60" y1="344.5" x2="234.60" y2="346.7" stroke="#5a5a5a" stroke-width="0.9"/>
<line x1="77.30" y1="344.5" x2="77.30" y2="345.7" stroke="#5a5a5a" stroke-width="0.9"/>
<line x1="105.90" y1="344.5" x2="105.90" y2="345.7" stroke="#5a5a5a" stroke-width="0.9"/>
<line x1="134.50" y1="344.5" x2="134.50" y2="345.7" stroke="#5a5a5a" stroke-width="0.9"/>
<line x1="163.10" y1="344.5" x2="163.10" y2="345.7" stroke="#5a5a5a" stroke-width="0.9"/>
<line x1="191.70" y1="344.5" x2="191.70" y2="345.7" stroke="#5a5a5a" stroke-width="0.9"/>
<line x1="220.30" y1="344.5" x2="220.30" y2="345.7" stroke="#5a5a5a" stroke-width="0.9"/>
<text transform="translate(44.60,348.70) scale(1,1)" font-size="13" text-anchor="end">0</text>
<text transform="translate(44.60,309.10) scale(1,1)" font-size="13" text-anchor="end">100</text>
<text transform="translate(44.60,269.50) scale(1,1)" font-size="13" text-anchor="end">200</text>
<text transform="translate(44.60,229.90) scale(1,1)" font-size="13" text-anchor="end">300</text>
<text transform="translate(58.7,354.6) rotate(19) scale(0.9,1)" font-size="10.9" style="stroke-width:0.12px">80&lt;x&lt;=85</text>
<text transform="translate(87.3,354.6) rotate(19) scale(0.9,1)" font-size="10.9" style="stroke-width:0.12px">85&lt;x&lt;=90</text>
<text transform="translate(115.9,354.6) rotate(19) scale(0.9,1)" font-size="10.9" style="stroke-width:0.12px">90&lt;x&lt;=92</text>
<text transform="translate(144.5,354.6) rotate(19) scale(0.9,1)" font-size="10.9" style="stroke-width:0.12px">92&lt;x&lt;=94</text>
<text transform="translate(173.1,354.6) rotate(19) scale(0.9,1)" font-size="10.9" style="stroke-width:0.12px">94&lt;x&lt;=96</text>
<text transform="translate(201.7,354.6) rotate(19) scale(0.9,1)" font-size="10.9" style="stroke-width:0.12px">96&lt;x&lt;=98</text>
<text transform="translate(230.3,354.6) rotate(19) scale(0.9,1)" font-size="10.9" style="stroke-width:0.12px">98&lt;x&lt;=100</text>
<text x="149.00" y="385.80" font-size="13" text-anchor="middle" >precision(%)</text>
<text transform="translate(13.8,279.3) rotate(-90)" font-size="13" text-anchor="middle">quanity</text>
<rect x="58.5" y="205.5" width="133" height="31" fill="#fff" stroke="#c8c8c8" stroke-width="1"/>
<rect x="60.8" y="206.2" width="28.7" height="13.8" fill="#404cff"/>
<rect x="60.8" y="222.2" width="28.7" height="13.8" fill="#ff3a3a"/>
<text x="94.00" y="218.00" font-size="13" text-anchor="start" >current peak</text>
<text x="94.00" y="233.80" font-size="13" text-anchor="start" >collected charge</text>
<text x="219.50" y="222.50" font-size="13" text-anchor="middle" >(c)</text>
<g clip-path="url(#cd)"><path d="M351.50,343.20 L351.78,342.90 L352.07,342.93 L352.35,325.18 L352.63,343.06 L352.91,324.75 L353.20,323.51 L353.48,343.20 L353.76,324.08 L354.04,310.86 L354.33,343.98 L354.61,343.91 L354.89,343.94 L355.17,296.69 L355.46,314.59 L355.74,300.57 L356.02,294.23 L356.30,342.44 L356.59,294.79 L356.87,341.65 L357.15,343.47 L357.43,329.59 L357.72,331.07 L358.00,323.16 L358.28,322.06 L358.56,327.47 L358.85,343.58 L359.13,324.95 L359.41,344.20 L359.69,344.27 L359.98,343.70 L360.26,333.74 L360.54,335.18 L360.82,338.85 L361.11,332.58 L361.39,333.96 L361.67,343.64 L361.96,336.73 L362.24,343.75 L362.52,326.02 L362.80,343.28 L363.09,323.71 L363.37,330.79 L363.65,343.21 L363.93,323.96 L364.22,343.92 L364.50,332.70 L364.78,336.87 L365.06,343.48 L365.35,337.68 L365.63,343.85 L365.91,273.38 L366.19,342.13 L366.48,310.57 L366.76,297.67 L367.04,308.69 L367.32,343.94 L367.61,341.81 L367.89,342.23 L368.17,310.23 L368.45,299.53 L368.74,309.75 L369.02,233.49 L369.30,343.10 L369.58,302.53 L369.87,243.16 L370.15,317.75 L370.43,309.49 L370.72,343.10 L371.00,321.78 L371.28,323.03 L371.56,342.65 L371.85,313.32 L372.13,342.97 L372.41,342.85 L372.69,314.86 L372.98,319.00 L373.26,342.90 L373.54,308.07 L373.82,343.12 L374.11,288.49 L374.39,313.57 L374.67,310.66 L374.95,342.68 L375.24,314.13 L375.52,342.62 L375.80,310.13 L376.08,342.90 L376.37,258.87 L376.65,343.22 L376.93,310.26 L377.21,343.33 L377.50,343.57 L377.78,344.12 L378.06,343.71 L378.34,343.87 L378.63,343.52 L378.91,343.57 L379.19,334.84 L379.48,329.99 L379.76,329.63 L380.04,344.24 L380.32,334.19 L380.61,335.10 L380.89,334.63 L381.17,336.07 L381.45,332.66 L381.74,343.21 L382.02,312.20 L382.30,321.31 L382.58,321.22 L382.87,275.39 L383.15,328.07 L383.43,344.11 L383.71,343.66 L384.00,342.53 L384.28,343.52 L384.56,343.11 L384.84,326.12 L385.13,343.49 L385.41,342.92 L385.69,343.79 L385.97,344.28 L386.26,230.67 L386.54,344.09 L386.82,343.03 L387.10,326.49 L387.39,328.46 L387.67,343.75 L387.95,343.00 L388.23,343.92 L388.52,343.59 L388.80,328.07 L389.08,343.59 L389.37,325.85 L389.65,323.81 L389.93,328.44 L390.21,342.43 L390.50,258.27 L390.78,303.83 L391.06,343.73 L391.34,321.39 L391.63,343.63 L391.91,343.22 L392.19,342.56 L392.47,343.95 L392.76,343.43 L393.04,302.59 L393.32,304.27 L393.60,309.09 L393.89,342.60 L394.17,312.18 L394.45,293.25 L394.73,342.73 L395.02,297.19 L395.30,302.97 L395.58,342.48 L395.86,293.39 L396.15,308.21 L396.43,343.73 L396.71,313.54 L396.99,313.42 L397.28,343.49 L397.56,314.44 L397.84,344.02 L398.12,318.68 L398.41,322.67 L398.69,318.00 L398.97,344.16 L399.26,313.73 L399.54,343.23 L399.82,319.44 L400.10,267.94 L400.39,344.21 L400.67,343.94 L400.95,342.77 L401.23,344.07 L401.52,317.43 L401.80,322.13 L402.08,329.01 L402.36,344.22 L402.65,325.67 L402.93,330.59 L403.21,343.15 L403.49,344.08 L403.78,326.66 L404.06,316.69 L404.34,343.77 L404.62,323.23 L404.91,324.14 L405.19,343.03 L405.47,343.43 L405.75,325.24 L406.04,334.00 L406.32,344.19 L406.60,336.61 L406.88,344.16 L407.17,343.83 L407.45,334.57 L407.73,338.31 L408.02,344.12 L408.30,343.95 L408.58,333.68 L408.86,334.17 L409.15,329.17 L409.43,343.24 L409.71,329.70 L409.99,285.46 L410.28,344.07 L410.56,343.74 L410.84,326.38 L411.12,343.75 L411.41,329.39 L411.69,343.29 L411.97,343.62 L412.25,343.56 L412.54,343.48 L412.82,343.73 L413.10,213.54 L413.38,332.02 L413.67,343.61 L413.95,344.28 L414.23,320.03 L414.51,343.68 L414.80,329.95 L415.08,329.04 L415.36,325.57 L415.64,264.31 L415.93,327.23 L416.21,327.08 L416.49,324.10 L416.77,317.33 L417.06,317.12 L417.34,214.55 L417.62,317.01 L417.91,321.25 L418.19,321.16 L418.47,344.05 L418.75,331.66 L419.04,330.88 L419.32,317.71 L419.60,327.44 L419.88,327.86 L420.17,343.23 L420.45,328.49 L420.73,342.90 L421.01,343.65 L421.30,344.28 L421.58,320.57 L421.86,331.36 L422.14,342.83 L422.43,343.77 L422.71,335.13 L422.99,228.05 L423.27,344.23 L423.56,335.35 L423.84,335.24 L424.12,331.60 L424.40,335.34 L424.69,325.67 L424.97,330.53 L425.25,330.30 L425.53,333.32 L425.82,331.06 L426.10,343.69 L426.38,344.07 L426.67,331.08 L426.95,330.77 L427.23,330.24 L427.51,343.38 L427.80,331.98 L428.08,344.06 L428.36,333.34 L428.64,328.78 L428.93,343.98 L429.21,335.61 L429.49,280.43 L429.77,325.34 L430.06,332.30 L430.34,344.22 L430.62,329.26 L430.90,331.79 L431.19,328.89 L431.47,343.53 L431.75,343.40 L432.03,343.51 L432.32,237.11 L432.60,341.51 L432.88,342.25 L433.16,295.19 L433.45,315.03 L433.73,313.90 L434.01,251.22 L434.29,316.98 L434.58,342.66 L434.86,216.97 L435.14,308.43 L435.43,341.52 L435.71,343.61 L435.99,308.28 L436.27,318.46 L436.56,341.88 L436.84,344.01 L437.12,343.79 L437.40,342.99 L437.69,341.97 L437.97,300.57 L438.25,343.00 L438.53,307.61 L438.82,341.67 L439.10,341.58 L439.38,344.00 L439.66,343.12 L439.95,292.64 L440.23,303.83 L440.51,295.32 L440.79,313.91 L441.08,328.40 L441.36,343.74 L441.64,239.73 L441.92,327.68 L442.21,343.00 L442.49,343.34 L442.77,329.29 L443.05,313.67 L443.34,328.88 L443.62,320.49 L443.90,343.98 L444.18,343.79 L444.47,342.97 L444.75,343.06 L445.03,331.32 L445.32,343.46 L445.60,327.09 L445.88,332.19 L446.16,327.18 L446.45,322.66 L446.73,318.72 L447.01,342.98 L447.29,286.47 L447.58,343.16 L447.86,324.21 L448.14,343.55 L448.42,331.48 L448.71,327.56 L448.99,343.21 L449.27,343.85 L449.55,343.90 L449.84,344.18 L450.12,343.34 L450.40,343.02 L450.68,343.10 L450.97,236.71 L451.25,319.27 L451.53,343.85 L451.81,343.29 L452.10,328.67 L452.38,317.70 L452.66,342.64 L452.94,343.16 L453.23,332.27 L453.51,343.57 L453.79,343.80 L454.07,344.01 L454.36,330.22 L454.64,343.13 L454.92,325.51 L455.21,344.00 L455.49,326.37 L455.77,343.15 L456.05,343.75 L456.34,326.85 L456.62,343.90 L456.90,325.87 L457.18,344.04 L457.47,332.18 L457.75,343.51 L458.03,331.22 L458.31,343.45 L458.60,343.17 L458.88,309.64 L459.16,342.82 L459.44,318.46 L459.73,342.87 L460.01,320.81 L460.29,343.56 L460.57,334.91 L460.86,335.87 L461.14,330.88 L461.42,329.52 L461.70,343.51 L461.99,343.61 L462.27,343.37 L462.55,343.36 L462.83,334.18 L463.12,333.03 L463.40,330.23 L463.68,319.71 L463.97,330.85 L464.25,343.87 L464.53,328.70 L464.81,333.02 L465.10,330.84 L465.38,344.23 L465.66,343.72 L465.94,337.44 L466.23,327.96 L466.51,343.02 L466.79,328.84 L467.07,315.68 L467.36,343.49 L467.64,328.20 L467.92,343.57 L468.20,327.04 L468.49,321.28 L468.77,327.33 L469.05,324.17 L469.33,343.46 L469.62,317.19 L469.90,319.71 L470.18,344.28 L470.46,343.73 L470.75,327.64 L471.03,325.62 L471.31,344.12 L471.59,288.20 L471.88,288.49 L472.16,309.27 L472.44,342.20 L472.73,344.13 L473.01,294.14 L473.29,299.74 L473.57,342.33 L473.86,344.18 L474.14,252.22 L474.42,291.24 L474.70,341.51 L474.99,287.45 L475.27,341.58 L475.55,294.06 L475.83,288.27 L476.12,219.99 L476.40,309.52 L476.68,309.04 L476.96,343.91 L477.25,327.77 L477.53,328.76 L477.81,343.14 L478.09,333.44 L478.38,343.05 L478.66,344.11 L478.94,321.80 L479.22,344.22 L479.51,316.03 L479.79,308.92 L480.07,244.17 L480.35,314.07 L480.64,342.75 L480.92,322.99 L481.20,343.46 L481.48,314.96 L481.77,342.17 L482.05,312.97 L482.33,300.57 L482.62,343.99 L482.90,309.97 L483.18,308.54 L483.46,314.38 L483.75,342.55 L484.03,314.46 L484.31,316.98 L484.59,324.96 L484.88,327.87 L485.16,343.09 L485.44,326.84 L485.72,343.08 L486.01,343.01 L486.29,331.53 L486.57,219.59 L486.85,324.18 L487.14,343.78 L487.42,343.90 L487.70,343.14 L487.98,328.01 L488.27,325.04 L488.55,326.59 L488.83,331.64 L489.11,330.87 L489.40,343.92 L489.68,322.04 L489.96,343.92 L490.24,343.42 L490.53,324.17 L490.81,329.22 L491.09,260.28 L491.38,344.09 L491.66,334.75 L491.94,343.66 L492.22,334.84 L492.51,343.74 L492.79,344.24 L493.07,344.16 L493.35,343.24 L493.64,307.63 L493.92,344.10 L494.20,318.13 L494.48,328.68 L494.77,318.73 L495.05,343.05 L495.33,318.83 L495.61,344.07 L495.90,343.81 L496.18,328.70 L496.46,343.34 L496.74,343.43 L497.03,319.71 L497.31,311.40 L497.59,327.11 L497.87,327.28 L498.16,317.35 L498.44,343.97 L498.72,319.74 L499.00,343.47 L499.29,342.62 L499.57,320.72 L499.85,318.91 L500.13,343.27 L500.42,343.52 L500.70,342.76 L500.98,326.75 L501.27,320.35 L501.55,239.73 L501.83,343.02 L502.11,344.06 L502.40,343.62 L502.68,314.93 L502.96,343.14 L503.24,308.22 L503.53,314.84 L503.81,343.77 L504.09,258.87 L504.37,326.13 L504.66,343.48 L504.94,315.68 L505.22,323.85 L505.50,342.73 L505.79,343.29 L506.07,336.30 L506.35,338.99 L506.63,344.09 L506.92,335.65 L507.20,343.63 L507.48,338.47 L507.76,344.21 L508.05,344.23 L508.33,343.91 L508.61,330.88 L508.89,343.09 L509.18,331.65 L509.46,343.16 L509.74,326.43 L510.02,343.89 L510.31,343.63 L510.59,333.57 L510.87,257.66 L511.16,317.44 L511.44,343.52 L511.72,320.09 L512.00,326.36 L512.29,343.45 L512.57,330.05 L512.85,343.28 L513.13,319.08 L513.42,330.54 L513.70,326.69 L513.98,343.10 L514.26,330.09 L514.55,331.22 L514.83,333.36 L515.11,329.88 L515.39,236.11 L515.68,331.11 L515.96,343.82 L516.24,343.41 L516.52,322.62 L516.81,344.04 L517.09,321.14 L517.37,344.05 L517.65,342.90 L517.94,292.52 L518.22,343.71 L518.50,343.08 L518.78,313.40 L519.07,343.66 L519.35,343.76 L519.63,343.64 L519.92,344.12 L520.20,335.86 L520.48,343.48 L520.76,344.24 L521.05,343.78 L521.33,333.75 L521.61,343.39 L521.89,327.17 L522.18,343.88 L522.46,344.05 L522.74,335.77 L523.02,343.68 L523.31,343.76 L523.59,323.12 L523.87,297.55 L524.15,342.90 L524.44,316.17 L524.72,323.96 L525.00,344.02 L525.28,328.46 L525.57,344.09 L525.85,320.70 L526.13,309.64 L526.41,344.24 L526.70,342.77 L526.98,342.64 L527.26,342.87 L527.54,343.07 L527.83,309.94 L528.11,343.89 L528.39,320.69 L528.67,327.37 L528.96,257.86 L529.24,326.53 L529.52,322.30 L529.81,330.23 L530.09,264.31 L530.37,343.98 L530.65,320.47 L530.94,328.24 L531.22,314.68 L531.50,342.71 L531.78,342.89 L532.07,342.61 L532.35,308.63 L532.63,343.08 L532.91,343.49 L533.20,333.21 L533.48,332.55 L533.76,343.43 L534.04,329.40 L534.33,343.88 L534.61,328.60 L534.89,333.73 L535.17,335.25 L535.46,330.60 L535.74,328.06 L536.02,294.53 L536.30,343.67 L536.59,344.13 L536.87,328.05 L537.15,316.80 L537.43,343.38 L537.72,343.43" fill="none" stroke="#3f4cff" stroke-width="0.95"/></g>
<path d="M351.5,207.5H537.5V345.5H351.5Z" fill="none" stroke="#5a5a5a" stroke-width="1"/>
<line x1="370.10" y1="207.5" x2="370.10" y2="209.3" stroke="#5a5a5a" stroke-width="0.9"/>
<line x1="537.5" y1="221.30" x2="535.7" y2="221.30" stroke="#5a5a5a" stroke-width="0.9"/>
<line x1="388.70" y1="207.5" x2="388.70" y2="209.3" stroke="#5a5a5a" stroke-width="0.9"/>
<line x1="537.5" y1="235.10" x2="535.7" y2="235.10" stroke="#5a5a5a" stroke-width="0.9"/>
<line x1="407.30" y1="207.5" x2="407.30" y2="209.3" stroke="#5a5a5a" stroke-width="0.9"/>
<line x1="537.5" y1="248.90" x2="535.7" y2="248.90" stroke="#5a5a5a" stroke-width="0.9"/>
<line x1="425.90" y1="207.5" x2="425.90" y2="209.3" stroke="#5a5a5a" stroke-width="0.9"/>
<line x1="537.5" y1="262.70" x2="535.7" y2="262.70" stroke="#5a5a5a" stroke-width="0.9"/>
<line x1="444.50" y1="207.5" x2="444.50" y2="209.3" stroke="#5a5a5a" stroke-width="0.9"/>
<line x1="537.5" y1="276.50" x2="535.7" y2="276.50" stroke="#5a5a5a" stroke-width="0.9"/>
<line x1="463.10" y1="207.5" x2="463.10" y2="209.3" stroke="#5a5a5a" stroke-width="0.9"/>
<line x1="537.5" y1="290.30" x2="535.7" y2="290.30" stroke="#5a5a5a" stroke-width="0.9"/>
<line x1="481.70" y1="207.5" x2="481.70" y2="209.3" stroke="#5a5a5a" stroke-width="0.9"/>
<line x1="537.5" y1="304.10" x2="535.7" y2="304.10" stroke="#5a5a5a" stroke-width="0.9"/>
<line x1="500.30" y1="207.5" x2="500.30" y2="209.3" stroke="#5a5a5a" stroke-width="0.9"/>
<line x1="537.5" y1="317.90" x2="535.7" y2="317.90" stroke="#5a5a5a" stroke-width="0.9"/>
<line x1="518.90" y1="207.5" x2="518.90" y2="209.3" stroke="#5a5a5a" stroke-width="0.9"/>
<line x1="537.5" y1="331.70" x2="535.7" y2="331.70" stroke="#5a5a5a" stroke-width="0.9"/>
<line x1="351.5" y1="345.50" x2="349.3" y2="345.50" stroke="#5a5a5a" stroke-width="0.9"/>
<line x1="351.5" y1="317.90" x2="349.3" y2="317.90" stroke="#5a5a5a" stroke-width="0.9"/>
<line x1="351.5" y1="290.30" x2="349.3" y2="290.30" stroke="#5a5a5a" stroke-width="0.9"/>
<line x1="351.5" y1="262.70" x2="349.3" y2="262.70" stroke="#5a5a5a" stroke-width="0.9"/>
<line x1="351.5" y1="235.10" x2="349.3" y2="235.10" stroke="#5a5a5a" stroke-width="0.9"/>
<line x1="351.5" y1="207.50" x2="349.3" y2="207.50" stroke="#5a5a5a" stroke-width="0.9"/>
<line x1="351.5" y1="331.70" x2="350.3" y2="331.70" stroke="#5a5a5a" stroke-width="0.9"/>
<line x1="351.5" y1="304.10" x2="350.3" y2="304.10" stroke="#5a5a5a" stroke-width="0.9"/>
<line x1="351.5" y1="276.50" x2="350.3" y2="276.50" stroke="#5a5a5a" stroke-width="0.9"/>
<line x1="351.5" y1="248.90" x2="350.3" y2="248.90" stroke="#5a5a5a" stroke-width="0.9"/>
<line x1="351.5" y1="221.30" x2="350.3" y2="221.30" stroke="#5a5a5a" stroke-width="0.9"/>
<line x1="351.50" y1="345.5" x2="351.50" y2="347.7" stroke="#5a5a5a" stroke-width="0.9"/>
<line x1="408.02" y1="345.5" x2="408.02" y2="347.7" stroke="#5a5a5a" stroke-width="0.9"/>
<line x1="464.53" y1="345.5" x2="464.53" y2="347.7" stroke="#5a5a5a" stroke-width="0.9"/>
<line x1="521.05" y1="345.5" x2="521.05" y2="347.7" stroke="#5a5a5a" stroke-width="0.9"/>
<line x1="379.76" y1="345.5" x2="379.76" y2="346.7" stroke="#5a5a5a" stroke-width="0.9"/>
<line x1="436.27" y1="345.5" x2="436.27" y2="346.7" stroke="#5a5a5a" stroke-width="0.9"/>
<line x1="492.79" y1="345.5" x2="492.79" y2="346.7" stroke="#5a5a5a" stroke-width="0.9"/>
<text transform="translate(348.00,349.90) scale(0.92,1)" font-size="13" text-anchor="end">0.0000</text>
<text transform="translate(348.00,322.30) scale(0.92,1)" font-size="13" text-anchor="end">0.0005</text>
<text transform="translate(348.00,294.70) scale(0.92,1)" font-size="13" text-anchor="end">0.0010</text>
<text transform="translate(348.00,267.10) scale(0.92,1)" font-size="13" text-anchor="end">0.0015</text>
<text transform="translate(348.00,239.50) scale(0.92,1)" font-size="13" text-anchor="end">0.0020</text>
<text transform="translate(348.00,211.90) scale(0.92,1)" font-size="13" text-anchor="end">0.0025</text>
<text transform="translate(351.50,359.00) scale(0.92,1)" font-size="13" text-anchor="middle">0</text>
<text transform="translate(408.02,359.00) scale(0.92,1)" font-size="13" text-anchor="middle">200</text>
<text transform="translate(464.53,359.00) scale(0.92,1)" font-size="13" text-anchor="middle">400</text>
<text transform="translate(521.05,359.00) scale(0.92,1)" font-size="13" text-anchor="middle">600</text>
<text transform="translate(444.80,378.60) scale(0.92,1)" font-size="13" text-anchor="middle">test sequence</text>
<text transform="translate(301.2,283.5) rotate(-90) scale(0.95,1)" font-size="13" text-anchor="middle">MSE</text>
<text x="519.20" y="229.90" font-size="13" text-anchor="middle" >(d)</text>
</svg>
</body></html>
